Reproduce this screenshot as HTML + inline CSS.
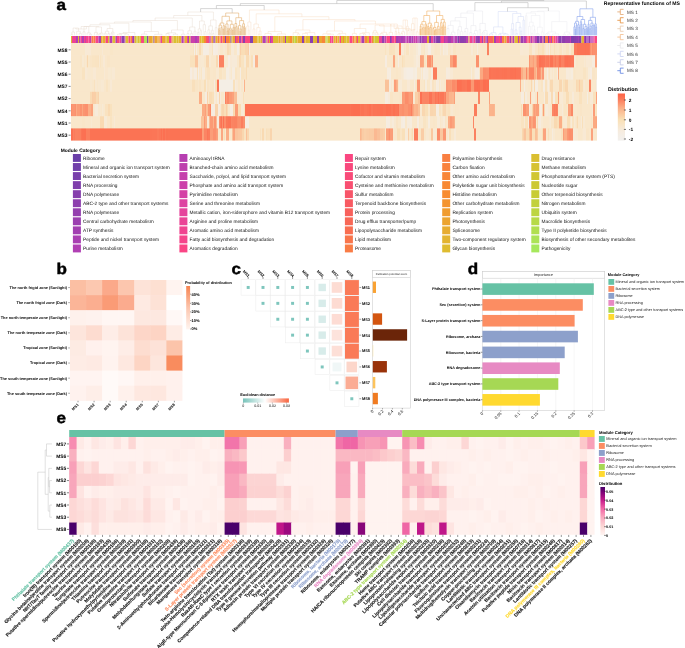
<!DOCTYPE html>
<html><head><meta charset="utf-8"><style>
html,body{margin:0;padding:0;background:#fff;width:685px;height:648px;overflow:hidden}
svg{display:block;will-change:transform}
text{font-family:"Liberation Sans",sans-serif;text-rendering:geometricPrecision}
</style></head><body>
<svg width="685" height="648" viewBox="0 0 685 648">
<rect width="685" height="648" fill="#fff"/>
<text x="0" y="0" font-size="15.5" font-weight="bold" stroke="#000" stroke-width="0.45" transform="translate(56.5 9.8) scale(1.1 1)">a</text>
<text x="67.60" y="51.55" font-size="4.9" text-anchor="end" font-weight="bold" fill="#000">MS8</text>
<line x1="68.60" y1="49.80" x2="70.60" y2="49.80" stroke="#333" stroke-width="0.6"/>
<text x="67.60" y="63.75" font-size="4.9" text-anchor="end" font-weight="bold" fill="#000">MS5</text>
<line x1="68.60" y1="62.00" x2="70.60" y2="62.00" stroke="#333" stroke-width="0.6"/>
<text x="67.60" y="75.95" font-size="4.9" text-anchor="end" font-weight="bold" fill="#000">MS6</text>
<line x1="68.60" y1="74.20" x2="70.60" y2="74.20" stroke="#333" stroke-width="0.6"/>
<text x="67.60" y="88.15" font-size="4.9" text-anchor="end" font-weight="bold" fill="#000">MS7</text>
<line x1="68.60" y1="86.40" x2="70.60" y2="86.40" stroke="#333" stroke-width="0.6"/>
<text x="67.60" y="100.35" font-size="4.9" text-anchor="end" font-weight="bold" fill="#000">MS2</text>
<line x1="68.60" y1="98.60" x2="70.60" y2="98.60" stroke="#333" stroke-width="0.6"/>
<text x="67.60" y="112.55" font-size="4.9" text-anchor="end" font-weight="bold" fill="#000">MS4</text>
<line x1="68.60" y1="110.80" x2="70.60" y2="110.80" stroke="#333" stroke-width="0.6"/>
<text x="67.60" y="124.75" font-size="4.9" text-anchor="end" font-weight="bold" fill="#000">MS1</text>
<line x1="68.60" y1="123.00" x2="70.60" y2="123.00" stroke="#333" stroke-width="0.6"/>
<text x="67.60" y="136.95" font-size="4.9" text-anchor="end" font-weight="bold" fill="#000">MS3</text>
<line x1="68.60" y1="135.20" x2="70.60" y2="135.20" stroke="#333" stroke-width="0.6"/>
<rect x="71.00" y="43.00" width="14.00" height="12.80" fill="#f9e7cb"/>
<rect x="85.00" y="43.00" width="1.00" height="12.80" fill="#f7ead6"/>
<rect x="86.00" y="43.00" width="3.00" height="12.80" fill="#f8e9d5"/>
<rect x="89.00" y="43.00" width="2.00" height="12.80" fill="#f8e9d5"/>
<rect x="91.00" y="43.00" width="2.00" height="12.80" fill="#f9e7cb"/>
<rect x="93.00" y="43.00" width="9.00" height="12.80" fill="#f9e7cb"/>
<rect x="102.00" y="43.00" width="1.00" height="12.80" fill="#f8e9d4"/>
<rect x="103.00" y="43.00" width="4.00" height="12.80" fill="#f9e7cb"/>
<rect x="107.00" y="43.00" width="1.00" height="12.80" fill="#f9e7cb"/>
<rect x="108.00" y="43.00" width="1.00" height="12.80" fill="#f9e7cc"/>
<rect x="109.00" y="43.00" width="1.00" height="12.80" fill="#f9e7cb"/>
<rect x="110.00" y="43.00" width="3.00" height="12.80" fill="#f9e6c8"/>
<rect x="113.00" y="43.00" width="77.00" height="12.80" fill="#f9e7cb"/>
<rect x="190.00" y="43.00" width="3.00" height="12.80" fill="#f9e6c9"/>
<rect x="193.00" y="43.00" width="1.00" height="12.80" fill="#f9e3c2"/>
<rect x="194.00" y="43.00" width="1.00" height="12.80" fill="#f5ede3"/>
<rect x="195.00" y="43.00" width="1.00" height="12.80" fill="#f9e3c1"/>
<rect x="196.00" y="43.00" width="1.00" height="12.80" fill="#f6ece0"/>
<rect x="197.00" y="43.00" width="2.00" height="12.80" fill="#f9e7cb"/>
<rect x="199.00" y="43.00" width="2.00" height="12.80" fill="#f9dbb3"/>
<rect x="201.00" y="43.00" width="2.00" height="12.80" fill="#f9e7cb"/>
<rect x="203.00" y="43.00" width="2.00" height="12.80" fill="#f5ede3"/>
<rect x="205.00" y="43.00" width="3.00" height="12.80" fill="#f5ede2"/>
<rect x="208.00" y="43.00" width="1.00" height="12.80" fill="#f6ece1"/>
<rect x="209.00" y="43.00" width="2.00" height="12.80" fill="#f8e9d2"/>
<rect x="211.00" y="43.00" width="1.00" height="12.80" fill="#f8e9d3"/>
<rect x="212.00" y="43.00" width="1.00" height="12.80" fill="#f9e3c1"/>
<rect x="213.00" y="43.00" width="2.00" height="12.80" fill="#f5ede4"/>
<rect x="215.00" y="43.00" width="3.00" height="12.80" fill="#f6ece0"/>
<rect x="218.00" y="43.00" width="2.00" height="12.80" fill="#f7ead6"/>
<rect x="220.00" y="43.00" width="3.00" height="12.80" fill="#f9e7cb"/>
<rect x="223.00" y="43.00" width="2.00" height="12.80" fill="#f8e9d1"/>
<rect x="225.00" y="43.00" width="2.00" height="12.80" fill="#f9e7cb"/>
<rect x="227.00" y="43.00" width="2.00" height="12.80" fill="#f9dbb4"/>
<rect x="229.00" y="43.00" width="2.00" height="12.80" fill="#f9e1bc"/>
<rect x="231.00" y="43.00" width="3.00" height="12.80" fill="#f7ead8"/>
<rect x="234.00" y="43.00" width="2.00" height="12.80" fill="#f9e7cb"/>
<rect x="236.00" y="43.00" width="1.00" height="12.80" fill="#f9e8cd"/>
<rect x="237.00" y="43.00" width="2.00" height="12.80" fill="#f5ede3"/>
<rect x="239.00" y="43.00" width="1.00" height="12.80" fill="#f9e7cb"/>
<rect x="240.00" y="43.00" width="1.00" height="12.80" fill="#fad0a8"/>
<rect x="241.00" y="43.00" width="1.00" height="12.80" fill="#f9dcb5"/>
<rect x="242.00" y="43.00" width="3.00" height="12.80" fill="#f9ddb6"/>
<rect x="245.00" y="43.00" width="3.00" height="12.80" fill="#f9d6af"/>
<rect x="248.00" y="43.00" width="1.00" height="12.80" fill="#facea7"/>
<rect x="249.00" y="43.00" width="1.00" height="12.80" fill="#f5ede3"/>
<rect x="250.00" y="43.00" width="135.00" height="12.80" fill="#f9e7cb"/>
<rect x="385.00" y="43.00" width="1.00" height="12.80" fill="#f9e3c1"/>
<rect x="386.00" y="43.00" width="1.00" height="12.80" fill="#f9e7cb"/>
<rect x="387.00" y="43.00" width="2.00" height="12.80" fill="#f9e8cd"/>
<rect x="389.00" y="43.00" width="3.00" height="12.80" fill="#f9e1bd"/>
<rect x="392.00" y="43.00" width="3.00" height="12.80" fill="#f9e2be"/>
<rect x="395.00" y="43.00" width="3.00" height="12.80" fill="#f9e7cb"/>
<rect x="398.00" y="43.00" width="1.00" height="12.80" fill="#f9e8cd"/>
<rect x="399.00" y="43.00" width="2.00" height="12.80" fill="#fb7c5c"/>
<rect x="401.00" y="43.00" width="3.00" height="12.80" fill="#f7ead7"/>
<rect x="404.00" y="43.00" width="1.00" height="12.80" fill="#f9e6c8"/>
<rect x="405.00" y="43.00" width="1.00" height="12.80" fill="#f8e8cf"/>
<rect x="406.00" y="43.00" width="3.00" height="12.80" fill="#f9e3c1"/>
<rect x="409.00" y="43.00" width="1.00" height="12.80" fill="#f8e9d3"/>
<rect x="410.00" y="43.00" width="3.00" height="12.80" fill="#f9e7cb"/>
<rect x="413.00" y="43.00" width="3.00" height="12.80" fill="#f8e8ce"/>
<rect x="416.00" y="43.00" width="2.00" height="12.80" fill="#f7ead7"/>
<rect x="418.00" y="43.00" width="3.00" height="12.80" fill="#f5ede1"/>
<rect x="421.00" y="43.00" width="3.00" height="12.80" fill="#f9e7cb"/>
<rect x="424.00" y="43.00" width="1.00" height="12.80" fill="#f9e5c5"/>
<rect x="425.00" y="43.00" width="3.00" height="12.80" fill="#f7ead6"/>
<rect x="428.00" y="43.00" width="3.00" height="12.80" fill="#f5ede5"/>
<rect x="431.00" y="43.00" width="3.00" height="12.80" fill="#f8e8cf"/>
<rect x="434.00" y="43.00" width="1.00" height="12.80" fill="#f9e6ca"/>
<rect x="435.00" y="43.00" width="2.00" height="12.80" fill="#f9e5c7"/>
<rect x="437.00" y="43.00" width="3.00" height="12.80" fill="#f9e6c9"/>
<rect x="440.00" y="43.00" width="1.00" height="12.80" fill="#f7ead7"/>
<rect x="441.00" y="43.00" width="2.00" height="12.80" fill="#f9e7cb"/>
<rect x="443.00" y="43.00" width="1.00" height="12.80" fill="#f6ece0"/>
<rect x="444.00" y="43.00" width="2.00" height="12.80" fill="#f7ead7"/>
<rect x="446.00" y="43.00" width="1.00" height="12.80" fill="#f7ebd9"/>
<rect x="447.00" y="43.00" width="1.00" height="12.80" fill="#f6ecdd"/>
<rect x="448.00" y="43.00" width="3.00" height="12.80" fill="#f9e7cb"/>
<rect x="451.00" y="43.00" width="2.00" height="12.80" fill="#f8e9d2"/>
<rect x="453.00" y="43.00" width="3.00" height="12.80" fill="#f9e5c5"/>
<rect x="456.00" y="43.00" width="15.00" height="12.80" fill="#f9e7cb"/>
<rect x="471.00" y="43.00" width="1.00" height="12.80" fill="#f7ead8"/>
<rect x="472.00" y="43.00" width="1.00" height="12.80" fill="#f7ead6"/>
<rect x="473.00" y="43.00" width="1.00" height="12.80" fill="#f9e7cb"/>
<rect x="474.00" y="43.00" width="2.00" height="12.80" fill="#f8e8cf"/>
<rect x="476.00" y="43.00" width="1.00" height="12.80" fill="#f9e7cb"/>
<rect x="477.00" y="43.00" width="1.00" height="12.80" fill="#f6ece0"/>
<rect x="478.00" y="43.00" width="2.00" height="12.80" fill="#f9e8ce"/>
<rect x="480.00" y="43.00" width="1.00" height="12.80" fill="#f9e7cd"/>
<rect x="481.00" y="43.00" width="1.00" height="12.80" fill="#f9e7cd"/>
<rect x="482.00" y="43.00" width="5.00" height="12.80" fill="#f9e7cb"/>
<rect x="487.00" y="43.00" width="2.00" height="12.80" fill="#fb8160"/>
<rect x="489.00" y="43.00" width="31.00" height="12.80" fill="#f9e7cb"/>
<rect x="520.00" y="43.00" width="3.00" height="12.80" fill="#f8e9d4"/>
<rect x="523.00" y="43.00" width="3.00" height="12.80" fill="#f8e9d2"/>
<rect x="526.00" y="43.00" width="3.00" height="12.80" fill="#f8e9d3"/>
<rect x="529.00" y="43.00" width="3.00" height="12.80" fill="#f9e3c1"/>
<rect x="532.00" y="43.00" width="3.00" height="12.80" fill="#f7ead6"/>
<rect x="535.00" y="43.00" width="3.00" height="12.80" fill="#f9e6ca"/>
<rect x="538.00" y="43.00" width="1.00" height="12.80" fill="#f9e0ba"/>
<rect x="539.00" y="43.00" width="3.00" height="12.80" fill="#f9e3c2"/>
<rect x="542.00" y="43.00" width="2.00" height="12.80" fill="#f9e0ba"/>
<rect x="544.00" y="43.00" width="1.00" height="12.80" fill="#f9e5c6"/>
<rect x="545.00" y="43.00" width="1.00" height="12.80" fill="#f9e8ce"/>
<rect x="546.00" y="43.00" width="2.00" height="12.80" fill="#f7ead9"/>
<rect x="548.00" y="43.00" width="1.00" height="12.80" fill="#f9e7cb"/>
<rect x="549.00" y="43.00" width="1.00" height="12.80" fill="#f6ece1"/>
<rect x="550.00" y="43.00" width="1.00" height="12.80" fill="#f9e2bf"/>
<rect x="551.00" y="43.00" width="3.00" height="12.80" fill="#f9e7cb"/>
<rect x="554.00" y="43.00" width="1.00" height="12.80" fill="#f9e1bd"/>
<rect x="555.00" y="43.00" width="2.00" height="12.80" fill="#f9e6c8"/>
<rect x="557.00" y="43.00" width="2.00" height="12.80" fill="#f9e7cb"/>
<rect x="559.00" y="43.00" width="3.00" height="12.80" fill="#f9e4c3"/>
<rect x="562.00" y="43.00" width="1.00" height="12.80" fill="#f8e9d3"/>
<rect x="563.00" y="43.00" width="3.00" height="12.80" fill="#f9e7cb"/>
<rect x="566.00" y="43.00" width="3.00" height="12.80" fill="#f9e4c3"/>
<rect x="569.00" y="43.00" width="2.00" height="12.80" fill="#f8e9d1"/>
<rect x="571.00" y="43.00" width="3.00" height="12.80" fill="#f9e1bd"/>
<rect x="574.00" y="43.00" width="3.00" height="12.80" fill="#fb7a5b"/>
<rect x="577.00" y="43.00" width="3.00" height="12.80" fill="#fb7354"/>
<rect x="580.00" y="43.00" width="3.00" height="12.80" fill="#fb7355"/>
<rect x="583.00" y="43.00" width="2.00" height="12.80" fill="#fb7355"/>
<rect x="585.00" y="43.00" width="1.00" height="12.80" fill="#fb7253"/>
<rect x="586.00" y="43.00" width="3.00" height="12.80" fill="#fb7354"/>
<rect x="589.00" y="43.00" width="1.00" height="12.80" fill="#fb7758"/>
<rect x="590.00" y="43.00" width="1.00" height="12.80" fill="#fb906d"/>
<rect x="591.00" y="43.00" width="1.00" height="12.80" fill="#fb9c77"/>
<rect x="592.00" y="43.00" width="1.00" height="12.80" fill="#fb8b69"/>
<rect x="593.00" y="43.00" width="3.00" height="12.80" fill="#fb906d"/>
<rect x="596.00" y="43.00" width="1.00" height="12.80" fill="#fb916d"/>
<rect x="71.00" y="55.20" width="9.00" height="12.80" fill="#f9e7cb"/>
<rect x="80.00" y="55.20" width="2.00" height="12.80" fill="#f9e5c6"/>
<rect x="82.00" y="55.20" width="2.00" height="12.80" fill="#f8e9d2"/>
<rect x="84.00" y="55.20" width="1.00" height="12.80" fill="#f9e7cb"/>
<rect x="85.00" y="55.20" width="1.00" height="12.80" fill="#f8e8d1"/>
<rect x="86.00" y="55.20" width="1.00" height="12.80" fill="#f9e7cb"/>
<rect x="87.00" y="55.20" width="1.00" height="12.80" fill="#f9d8b0"/>
<rect x="88.00" y="55.20" width="2.00" height="12.80" fill="#f9e7ca"/>
<rect x="90.00" y="55.20" width="2.00" height="12.80" fill="#f9e5c7"/>
<rect x="92.00" y="55.20" width="3.00" height="12.80" fill="#f9e4c3"/>
<rect x="95.00" y="55.20" width="3.00" height="12.80" fill="#f9e3c2"/>
<rect x="98.00" y="55.20" width="1.00" height="12.80" fill="#f9e2c0"/>
<rect x="99.00" y="55.20" width="1.00" height="12.80" fill="#f8e8d0"/>
<rect x="100.00" y="55.20" width="1.00" height="12.80" fill="#f9e4c3"/>
<rect x="101.00" y="55.20" width="2.00" height="12.80" fill="#f9e7cb"/>
<rect x="103.00" y="55.20" width="2.00" height="12.80" fill="#f8e9d5"/>
<rect x="105.00" y="55.20" width="2.00" height="12.80" fill="#f9e7cb"/>
<rect x="107.00" y="55.20" width="3.00" height="12.80" fill="#f9e5c7"/>
<rect x="110.00" y="55.20" width="80.00" height="12.80" fill="#f9e7cb"/>
<rect x="190.00" y="55.20" width="5.00" height="12.80" fill="#f9e1bd"/>
<rect x="195.00" y="55.20" width="3.00" height="12.80" fill="#fac69f"/>
<rect x="198.00" y="55.20" width="3.00" height="12.80" fill="#f8e8d1"/>
<rect x="201.00" y="55.20" width="3.00" height="12.80" fill="#f8e9d2"/>
<rect x="204.00" y="55.20" width="2.00" height="12.80" fill="#f9e7cb"/>
<rect x="206.00" y="55.20" width="3.00" height="12.80" fill="#f9d7b0"/>
<rect x="209.00" y="55.20" width="2.00" height="12.80" fill="#f8e9d2"/>
<rect x="211.00" y="55.20" width="5.00" height="12.80" fill="#f9e7cb"/>
<rect x="216.00" y="55.20" width="2.00" height="12.80" fill="#f9d9b2"/>
<rect x="218.00" y="55.20" width="1.00" height="12.80" fill="#f5ede1"/>
<rect x="219.00" y="55.20" width="5.00" height="12.80" fill="#fb8160"/>
<rect x="224.00" y="55.20" width="1.00" height="12.80" fill="#f9e7cb"/>
<rect x="225.00" y="55.20" width="3.00" height="12.80" fill="#f8e8d0"/>
<rect x="228.00" y="55.20" width="2.00" height="12.80" fill="#f6ece0"/>
<rect x="230.00" y="55.20" width="2.00" height="12.80" fill="#f8e9d5"/>
<rect x="232.00" y="55.20" width="3.00" height="12.80" fill="#f7ead8"/>
<rect x="235.00" y="55.20" width="2.00" height="12.80" fill="#f7ead8"/>
<rect x="237.00" y="55.20" width="2.00" height="12.80" fill="#f9e7cb"/>
<rect x="239.00" y="55.20" width="2.00" height="12.80" fill="#f9dbb4"/>
<rect x="241.00" y="55.20" width="3.00" height="12.80" fill="#f9e3c1"/>
<rect x="244.00" y="55.20" width="2.00" height="12.80" fill="#f7ead5"/>
<rect x="246.00" y="55.20" width="3.00" height="12.80" fill="#f9dbb4"/>
<rect x="249.00" y="55.20" width="2.00" height="12.80" fill="#f9e7cb"/>
<rect x="251.00" y="55.20" width="2.00" height="12.80" fill="#f9e0ba"/>
<rect x="253.00" y="55.20" width="2.00" height="12.80" fill="#f6ece0"/>
<rect x="255.00" y="55.20" width="3.00" height="12.80" fill="#fbb38b"/>
<rect x="258.00" y="55.20" width="127.00" height="12.80" fill="#f9e7cb"/>
<rect x="385.00" y="55.20" width="2.00" height="12.80" fill="#f6ece0"/>
<rect x="387.00" y="55.20" width="2.00" height="12.80" fill="#f9e7cb"/>
<rect x="389.00" y="55.20" width="4.00" height="12.80" fill="#f9e7cb"/>
<rect x="393.00" y="55.20" width="2.00" height="12.80" fill="#fba881"/>
<rect x="395.00" y="55.20" width="1.00" height="12.80" fill="#f9e5c6"/>
<rect x="396.00" y="55.20" width="2.00" height="12.80" fill="#f9e7cb"/>
<rect x="398.00" y="55.20" width="1.00" height="12.80" fill="#f6ece1"/>
<rect x="399.00" y="55.20" width="3.00" height="12.80" fill="#f9e7cb"/>
<rect x="402.00" y="55.20" width="1.00" height="12.80" fill="#f9dfb9"/>
<rect x="403.00" y="55.20" width="2.00" height="12.80" fill="#f9e4c3"/>
<rect x="405.00" y="55.20" width="8.00" height="12.80" fill="#f9e7cb"/>
<rect x="413.00" y="55.20" width="1.00" height="12.80" fill="#f9e8cd"/>
<rect x="414.00" y="55.20" width="2.00" height="12.80" fill="#f8e9d2"/>
<rect x="416.00" y="55.20" width="2.00" height="12.80" fill="#f7ebdb"/>
<rect x="418.00" y="55.20" width="2.00" height="12.80" fill="#f7ead7"/>
<rect x="420.00" y="55.20" width="2.00" height="12.80" fill="#fba27c"/>
<rect x="422.00" y="55.20" width="1.00" height="12.80" fill="#fba47e"/>
<rect x="423.00" y="55.20" width="1.00" height="12.80" fill="#fbab83"/>
<rect x="424.00" y="55.20" width="2.00" height="12.80" fill="#f9e4c4"/>
<rect x="426.00" y="55.20" width="1.00" height="12.80" fill="#f9e7cb"/>
<rect x="427.00" y="55.20" width="2.00" height="12.80" fill="#fb9672"/>
<rect x="429.00" y="55.20" width="2.00" height="12.80" fill="#fb906d"/>
<rect x="431.00" y="55.20" width="1.00" height="12.80" fill="#fbae86"/>
<rect x="432.00" y="55.20" width="1.00" height="12.80" fill="#fb9773"/>
<rect x="433.00" y="55.20" width="17.00" height="12.80" fill="#f9e7cb"/>
<rect x="450.00" y="55.20" width="3.00" height="12.80" fill="#fba27c"/>
<rect x="453.00" y="55.20" width="3.00" height="12.80" fill="#fb8866"/>
<rect x="456.00" y="55.20" width="1.00" height="12.80" fill="#fba27c"/>
<rect x="457.00" y="55.20" width="19.00" height="12.80" fill="#f9e7cb"/>
<rect x="476.00" y="55.20" width="3.00" height="12.80" fill="#fb926e"/>
<rect x="479.00" y="55.20" width="50.00" height="12.80" fill="#f9e7cb"/>
<rect x="529.00" y="55.20" width="1.00" height="12.80" fill="#fb9772"/>
<rect x="530.00" y="55.20" width="2.00" height="12.80" fill="#fbad85"/>
<rect x="532.00" y="55.20" width="1.00" height="12.80" fill="#fbab83"/>
<rect x="533.00" y="55.20" width="1.00" height="12.80" fill="#fba07a"/>
<rect x="534.00" y="55.20" width="2.00" height="12.80" fill="#fbb088"/>
<rect x="536.00" y="55.20" width="1.00" height="12.80" fill="#fb9f79"/>
<rect x="537.00" y="55.20" width="2.00" height="12.80" fill="#fb8765"/>
<rect x="539.00" y="55.20" width="2.00" height="12.80" fill="#fc7052"/>
<rect x="541.00" y="55.20" width="2.00" height="12.80" fill="#fb7455"/>
<rect x="543.00" y="55.20" width="2.00" height="12.80" fill="#fb7657"/>
<rect x="545.00" y="55.20" width="1.00" height="12.80" fill="#fb8261"/>
<rect x="546.00" y="55.20" width="2.00" height="12.80" fill="#fb7c5c"/>
<rect x="548.00" y="55.20" width="1.00" height="12.80" fill="#fb795a"/>
<rect x="549.00" y="55.20" width="1.00" height="12.80" fill="#fb8765"/>
<rect x="550.00" y="55.20" width="3.00" height="12.80" fill="#fb7354"/>
<rect x="553.00" y="55.20" width="2.00" height="12.80" fill="#fb8563"/>
<rect x="555.00" y="55.20" width="1.00" height="12.80" fill="#fb7b5b"/>
<rect x="556.00" y="55.20" width="2.00" height="12.80" fill="#fb8765"/>
<rect x="558.00" y="55.20" width="1.00" height="12.80" fill="#fb8261"/>
<rect x="559.00" y="55.20" width="2.00" height="12.80" fill="#fb7354"/>
<rect x="561.00" y="55.20" width="3.00" height="12.80" fill="#fb8161"/>
<rect x="564.00" y="55.20" width="1.00" height="12.80" fill="#fb7859"/>
<rect x="565.00" y="55.20" width="2.00" height="12.80" fill="#fc7153"/>
<rect x="567.00" y="55.20" width="1.00" height="12.80" fill="#fc7052"/>
<rect x="568.00" y="55.20" width="3.00" height="12.80" fill="#fb7354"/>
<rect x="571.00" y="55.20" width="3.00" height="12.80" fill="#fb7657"/>
<rect x="574.00" y="55.20" width="2.00" height="12.80" fill="#f8e9d3"/>
<rect x="576.00" y="55.20" width="2.00" height="12.80" fill="#f9e6c9"/>
<rect x="578.00" y="55.20" width="6.00" height="12.80" fill="#f9e7cb"/>
<rect x="584.00" y="55.20" width="1.00" height="12.80" fill="#f8e9d2"/>
<rect x="585.00" y="55.20" width="1.00" height="12.80" fill="#f9e7cd"/>
<rect x="586.00" y="55.20" width="3.00" height="12.80" fill="#f8e9d4"/>
<rect x="589.00" y="55.20" width="3.00" height="12.80" fill="#f8e9d3"/>
<rect x="592.00" y="55.20" width="2.00" height="12.80" fill="#f6ecde"/>
<rect x="594.00" y="55.20" width="1.00" height="12.80" fill="#f6ece0"/>
<rect x="595.00" y="55.20" width="2.00" height="12.80" fill="#fba37d"/>
<rect x="71.00" y="67.40" width="11.00" height="12.80" fill="#f9e7cb"/>
<rect x="82.00" y="67.40" width="3.00" height="12.80" fill="#f9e3c1"/>
<rect x="85.00" y="67.40" width="2.00" height="12.80" fill="#f8e9d4"/>
<rect x="87.00" y="67.40" width="1.00" height="12.80" fill="#f8e8d1"/>
<rect x="88.00" y="67.40" width="3.00" height="12.80" fill="#f8e8cf"/>
<rect x="91.00" y="67.40" width="2.00" height="12.80" fill="#f9e8ce"/>
<rect x="93.00" y="67.40" width="3.00" height="12.80" fill="#f8e9d4"/>
<rect x="96.00" y="67.40" width="8.00" height="12.80" fill="#f9e7cb"/>
<rect x="104.00" y="67.40" width="1.00" height="12.80" fill="#f8e9d4"/>
<rect x="105.00" y="67.40" width="3.00" height="12.80" fill="#f9e7cd"/>
<rect x="108.00" y="67.40" width="3.00" height="12.80" fill="#f8e9d1"/>
<rect x="111.00" y="67.40" width="1.00" height="12.80" fill="#f8e8cf"/>
<rect x="112.00" y="67.40" width="3.00" height="12.80" fill="#f8e9d4"/>
<rect x="115.00" y="67.40" width="75.00" height="12.80" fill="#f9e7cb"/>
<rect x="190.00" y="67.40" width="2.00" height="12.80" fill="#f6ece1"/>
<rect x="192.00" y="67.40" width="2.00" height="12.80" fill="#f8e9d5"/>
<rect x="194.00" y="67.40" width="3.00" height="12.80" fill="#f6ecdf"/>
<rect x="197.00" y="67.40" width="1.00" height="12.80" fill="#f9e2c0"/>
<rect x="198.00" y="67.40" width="1.00" height="12.80" fill="#f5ede3"/>
<rect x="199.00" y="67.40" width="1.00" height="12.80" fill="#f9e7cd"/>
<rect x="200.00" y="67.40" width="1.00" height="12.80" fill="#f8e9d2"/>
<rect x="201.00" y="67.40" width="1.00" height="12.80" fill="#f9e6c7"/>
<rect x="202.00" y="67.40" width="3.00" height="12.80" fill="#f6ebdc"/>
<rect x="205.00" y="67.40" width="2.00" height="12.80" fill="#f9e5c7"/>
<rect x="207.00" y="67.40" width="3.00" height="12.80" fill="#f9e2c0"/>
<rect x="210.00" y="67.40" width="3.00" height="12.80" fill="#f9e7cb"/>
<rect x="213.00" y="67.40" width="3.00" height="12.80" fill="#f9e6c9"/>
<rect x="216.00" y="67.40" width="3.00" height="12.80" fill="#f8e9d2"/>
<rect x="219.00" y="67.40" width="3.00" height="12.80" fill="#f9e3c1"/>
<rect x="222.00" y="67.40" width="1.00" height="12.80" fill="#f9e7cb"/>
<rect x="223.00" y="67.40" width="3.00" height="12.80" fill="#f9e6c8"/>
<rect x="226.00" y="67.40" width="3.00" height="12.80" fill="#f5ede2"/>
<rect x="229.00" y="67.40" width="1.00" height="12.80" fill="#f7ebda"/>
<rect x="230.00" y="67.40" width="1.00" height="12.80" fill="#f7ead6"/>
<rect x="231.00" y="67.40" width="1.00" height="12.80" fill="#f9e8cd"/>
<rect x="232.00" y="67.40" width="3.00" height="12.80" fill="#f6ecdf"/>
<rect x="235.00" y="67.40" width="2.00" height="12.80" fill="#f9e5c5"/>
<rect x="237.00" y="67.40" width="3.00" height="12.80" fill="#f9e7cb"/>
<rect x="240.00" y="67.40" width="1.00" height="12.80" fill="#f5ede3"/>
<rect x="241.00" y="67.40" width="3.00" height="12.80" fill="#f9e3c1"/>
<rect x="244.00" y="67.40" width="2.00" height="12.80" fill="#f9e4c5"/>
<rect x="246.00" y="67.40" width="1.00" height="12.80" fill="#f9dcb5"/>
<rect x="247.00" y="67.40" width="2.00" height="12.80" fill="#f9e7cb"/>
<rect x="249.00" y="67.40" width="1.00" height="12.80" fill="#f9e6ca"/>
<rect x="250.00" y="67.40" width="137.00" height="12.80" fill="#f9e7cb"/>
<rect x="387.00" y="67.40" width="3.00" height="12.80" fill="#f6ecdf"/>
<rect x="390.00" y="67.40" width="1.00" height="12.80" fill="#f5ede2"/>
<rect x="391.00" y="67.40" width="5.00" height="12.80" fill="#f9e7cb"/>
<rect x="396.00" y="67.40" width="2.00" height="12.80" fill="#f9e6c8"/>
<rect x="398.00" y="67.40" width="3.00" height="12.80" fill="#f9e7cb"/>
<rect x="401.00" y="67.40" width="2.00" height="12.80" fill="#f8e8d1"/>
<rect x="403.00" y="67.40" width="1.00" height="12.80" fill="#f7ead6"/>
<rect x="404.00" y="67.40" width="2.00" height="12.80" fill="#f6ecdf"/>
<rect x="406.00" y="67.40" width="1.00" height="12.80" fill="#f5ede1"/>
<rect x="407.00" y="67.40" width="3.00" height="12.80" fill="#f5ede3"/>
<rect x="410.00" y="67.40" width="3.00" height="12.80" fill="#f5ede3"/>
<rect x="413.00" y="67.40" width="2.00" height="12.80" fill="#f6ecdd"/>
<rect x="415.00" y="67.40" width="2.00" height="12.80" fill="#f5ede1"/>
<rect x="417.00" y="67.40" width="3.00" height="12.80" fill="#f9e7cb"/>
<rect x="420.00" y="67.40" width="1.00" height="12.80" fill="#f9e6ca"/>
<rect x="421.00" y="67.40" width="1.00" height="12.80" fill="#f6ebdc"/>
<rect x="422.00" y="67.40" width="1.00" height="12.80" fill="#f9e7cc"/>
<rect x="423.00" y="67.40" width="2.00" height="12.80" fill="#f6ece0"/>
<rect x="425.00" y="67.40" width="3.00" height="12.80" fill="#f6ebdd"/>
<rect x="428.00" y="67.40" width="1.00" height="12.80" fill="#f8e9d2"/>
<rect x="429.00" y="67.40" width="2.00" height="12.80" fill="#f9e7cb"/>
<rect x="431.00" y="67.40" width="1.00" height="12.80" fill="#f6ecde"/>
<rect x="432.00" y="67.40" width="1.00" height="12.80" fill="#f6ecdd"/>
<rect x="433.00" y="67.40" width="4.00" height="12.80" fill="#fb7c5c"/>
<rect x="437.00" y="67.40" width="9.00" height="12.80" fill="#f9e7cb"/>
<rect x="446.00" y="67.40" width="2.00" height="12.80" fill="#f6ebdd"/>
<rect x="448.00" y="67.40" width="2.00" height="12.80" fill="#f7ebdb"/>
<rect x="450.00" y="67.40" width="3.00" height="12.80" fill="#f8e9d4"/>
<rect x="453.00" y="67.40" width="18.00" height="12.80" fill="#f9e7cb"/>
<rect x="471.00" y="67.40" width="1.00" height="12.80" fill="#f6ecdd"/>
<rect x="472.00" y="67.40" width="2.00" height="12.80" fill="#f9e7cb"/>
<rect x="474.00" y="67.40" width="1.00" height="12.80" fill="#f8e9d3"/>
<rect x="475.00" y="67.40" width="3.00" height="12.80" fill="#f6ecdf"/>
<rect x="478.00" y="67.40" width="1.00" height="12.80" fill="#f5ede1"/>
<rect x="479.00" y="67.40" width="1.00" height="12.80" fill="#f9e7cb"/>
<rect x="480.00" y="67.40" width="2.00" height="12.80" fill="#fba982"/>
<rect x="482.00" y="67.40" width="1.00" height="12.80" fill="#fba982"/>
<rect x="483.00" y="67.40" width="3.00" height="12.80" fill="#fb8d6a"/>
<rect x="486.00" y="67.40" width="3.00" height="12.80" fill="#fb8f6c"/>
<rect x="489.00" y="67.40" width="2.00" height="12.80" fill="#fb7254"/>
<rect x="491.00" y="67.40" width="2.00" height="12.80" fill="#fb7556"/>
<rect x="493.00" y="67.40" width="3.00" height="12.80" fill="#fb7456"/>
<rect x="496.00" y="67.40" width="3.00" height="12.80" fill="#fb7355"/>
<rect x="499.00" y="67.40" width="3.00" height="12.80" fill="#fb7456"/>
<rect x="502.00" y="67.40" width="1.00" height="12.80" fill="#fb7354"/>
<rect x="503.00" y="67.40" width="1.00" height="12.80" fill="#fb7455"/>
<rect x="504.00" y="67.40" width="1.00" height="12.80" fill="#fb7254"/>
<rect x="505.00" y="67.40" width="2.00" height="12.80" fill="#fb7354"/>
<rect x="507.00" y="67.40" width="2.00" height="12.80" fill="#fb7556"/>
<rect x="509.00" y="67.40" width="1.00" height="12.80" fill="#fb7556"/>
<rect x="510.00" y="67.40" width="3.00" height="12.80" fill="#fb7254"/>
<rect x="513.00" y="67.40" width="2.00" height="12.80" fill="#fb7354"/>
<rect x="515.00" y="67.40" width="1.00" height="12.80" fill="#fc7052"/>
<rect x="516.00" y="67.40" width="2.00" height="12.80" fill="#fb7556"/>
<rect x="518.00" y="67.40" width="3.00" height="12.80" fill="#fb7557"/>
<rect x="521.00" y="67.40" width="2.00" height="12.80" fill="#fbad85"/>
<rect x="523.00" y="67.40" width="3.00" height="12.80" fill="#fabc94"/>
<rect x="526.00" y="67.40" width="1.00" height="12.80" fill="#fb8a68"/>
<rect x="527.00" y="67.40" width="2.00" height="12.80" fill="#fbb58d"/>
<rect x="529.00" y="67.40" width="2.00" height="12.80" fill="#fb8563"/>
<rect x="531.00" y="67.40" width="3.00" height="12.80" fill="#fb8462"/>
<rect x="534.00" y="67.40" width="2.00" height="12.80" fill="#fbae86"/>
<rect x="536.00" y="67.40" width="1.00" height="12.80" fill="#fac098"/>
<rect x="537.00" y="67.40" width="1.00" height="12.80" fill="#fb8a68"/>
<rect x="538.00" y="67.40" width="2.00" height="12.80" fill="#fb8c69"/>
<rect x="540.00" y="67.40" width="1.00" height="12.80" fill="#fb9975"/>
<rect x="541.00" y="67.40" width="1.00" height="12.80" fill="#fabc95"/>
<rect x="542.00" y="67.40" width="2.00" height="12.80" fill="#fb9975"/>
<rect x="544.00" y="67.40" width="3.00" height="12.80" fill="#f9e7cb"/>
<rect x="547.00" y="67.40" width="1.00" height="12.80" fill="#f6ece0"/>
<rect x="548.00" y="67.40" width="1.00" height="12.80" fill="#f9e7cb"/>
<rect x="549.00" y="67.40" width="1.00" height="12.80" fill="#f9e4c4"/>
<rect x="550.00" y="67.40" width="2.00" height="12.80" fill="#f8e9d3"/>
<rect x="552.00" y="67.40" width="1.00" height="12.80" fill="#f9e7cb"/>
<rect x="553.00" y="67.40" width="1.00" height="12.80" fill="#f8e9d5"/>
<rect x="554.00" y="67.40" width="3.00" height="12.80" fill="#f9e7cb"/>
<rect x="557.00" y="67.40" width="1.00" height="12.80" fill="#f6ece0"/>
<rect x="558.00" y="67.40" width="1.00" height="12.80" fill="#fbae86"/>
<rect x="559.00" y="67.40" width="7.00" height="12.80" fill="#f9e7cb"/>
<rect x="566.00" y="67.40" width="3.00" height="12.80" fill="#f7ebdb"/>
<rect x="569.00" y="67.40" width="2.00" height="12.80" fill="#f7ebd9"/>
<rect x="571.00" y="67.40" width="2.00" height="12.80" fill="#f6ecde"/>
<rect x="573.00" y="67.40" width="1.00" height="12.80" fill="#f9e7cb"/>
<rect x="574.00" y="67.40" width="1.00" height="12.80" fill="#f9e5c6"/>
<rect x="575.00" y="67.40" width="1.00" height="12.80" fill="#f9e6c9"/>
<rect x="576.00" y="67.40" width="7.00" height="12.80" fill="#f9e7cb"/>
<rect x="583.00" y="67.40" width="3.00" height="12.80" fill="#f9e4c3"/>
<rect x="586.00" y="67.40" width="2.00" height="12.80" fill="#f9e7cb"/>
<rect x="588.00" y="67.40" width="2.00" height="12.80" fill="#f7ebd9"/>
<rect x="590.00" y="67.40" width="2.00" height="12.80" fill="#f6ece1"/>
<rect x="592.00" y="67.40" width="3.00" height="12.80" fill="#f9e5c7"/>
<rect x="595.00" y="67.40" width="2.00" height="12.80" fill="#f9e7cb"/>
<rect x="71.00" y="79.60" width="19.00" height="12.80" fill="#f9e7cb"/>
<rect x="90.00" y="79.60" width="2.00" height="12.80" fill="#f8e8cf"/>
<rect x="92.00" y="79.60" width="2.00" height="12.80" fill="#f9e7cb"/>
<rect x="94.00" y="79.60" width="1.00" height="12.80" fill="#f9e2c0"/>
<rect x="95.00" y="79.60" width="2.00" height="12.80" fill="#f8e8d0"/>
<rect x="97.00" y="79.60" width="1.00" height="12.80" fill="#f9e7cb"/>
<rect x="98.00" y="79.60" width="3.00" height="12.80" fill="#f8e8cf"/>
<rect x="101.00" y="79.60" width="1.00" height="12.80" fill="#f8e9d3"/>
<rect x="102.00" y="79.60" width="2.00" height="12.80" fill="#f8e9d2"/>
<rect x="104.00" y="79.60" width="2.00" height="12.80" fill="#f9e7cb"/>
<rect x="106.00" y="79.60" width="2.00" height="12.80" fill="#f9e4c3"/>
<rect x="108.00" y="79.60" width="2.00" height="12.80" fill="#f9e7cb"/>
<rect x="110.00" y="79.60" width="2.00" height="12.80" fill="#f8e9d5"/>
<rect x="112.00" y="79.60" width="80.00" height="12.80" fill="#f9e7cb"/>
<rect x="192.00" y="79.60" width="3.00" height="12.80" fill="#f9e0bc"/>
<rect x="195.00" y="79.60" width="3.00" height="12.80" fill="#f9e5c6"/>
<rect x="198.00" y="79.60" width="1.00" height="12.80" fill="#f9e7cb"/>
<rect x="199.00" y="79.60" width="2.00" height="12.80" fill="#f9e4c4"/>
<rect x="201.00" y="79.60" width="3.00" height="12.80" fill="#f9e7cb"/>
<rect x="204.00" y="79.60" width="2.00" height="12.80" fill="#f9dfb8"/>
<rect x="206.00" y="79.60" width="1.00" height="12.80" fill="#f7ead6"/>
<rect x="207.00" y="79.60" width="2.00" height="12.80" fill="#f9e4c5"/>
<rect x="209.00" y="79.60" width="3.00" height="12.80" fill="#f9e7ca"/>
<rect x="212.00" y="79.60" width="2.00" height="12.80" fill="#f9e6c9"/>
<rect x="214.00" y="79.60" width="1.00" height="12.80" fill="#f6ece0"/>
<rect x="215.00" y="79.60" width="1.00" height="12.80" fill="#f9e2c0"/>
<rect x="216.00" y="79.60" width="1.00" height="12.80" fill="#f9e0b9"/>
<rect x="217.00" y="79.60" width="2.00" height="12.80" fill="#fb7657"/>
<rect x="219.00" y="79.60" width="14.00" height="12.80" fill="#f4eee5"/>
<rect x="233.00" y="79.60" width="2.00" height="12.80" fill="#f9e1bd"/>
<rect x="235.00" y="79.60" width="1.00" height="12.80" fill="#f6ecdd"/>
<rect x="236.00" y="79.60" width="2.00" height="12.80" fill="#f8e9d5"/>
<rect x="238.00" y="79.60" width="2.00" height="12.80" fill="#f9e7cb"/>
<rect x="240.00" y="79.60" width="1.00" height="12.80" fill="#f7ead5"/>
<rect x="241.00" y="79.60" width="2.00" height="12.80" fill="#f9e7cb"/>
<rect x="243.00" y="79.60" width="1.00" height="12.80" fill="#f7ead7"/>
<rect x="244.00" y="79.60" width="1.00" height="12.80" fill="#fbb38b"/>
<rect x="245.00" y="79.60" width="140.00" height="12.80" fill="#f9e7cb"/>
<rect x="385.00" y="79.60" width="4.00" height="12.80" fill="#fac29a"/>
<rect x="389.00" y="79.60" width="2.00" height="12.80" fill="#f6ebdc"/>
<rect x="391.00" y="79.60" width="1.00" height="12.80" fill="#f9e8ce"/>
<rect x="392.00" y="79.60" width="1.00" height="12.80" fill="#f7ebdb"/>
<rect x="393.00" y="79.60" width="1.00" height="12.80" fill="#f9e7cb"/>
<rect x="394.00" y="79.60" width="2.00" height="12.80" fill="#fb9e79"/>
<rect x="396.00" y="79.60" width="1.00" height="12.80" fill="#fbae86"/>
<rect x="397.00" y="79.60" width="1.00" height="12.80" fill="#fbb68e"/>
<rect x="398.00" y="79.60" width="1.00" height="12.80" fill="#f9e7cb"/>
<rect x="399.00" y="79.60" width="3.00" height="12.80" fill="#f7ead7"/>
<rect x="402.00" y="79.60" width="5.00" height="12.80" fill="#f9e7cb"/>
<rect x="407.00" y="79.60" width="3.00" height="12.80" fill="#f8e9d5"/>
<rect x="410.00" y="79.60" width="2.00" height="12.80" fill="#f9e7cb"/>
<rect x="412.00" y="79.60" width="2.00" height="12.80" fill="#f9e7ca"/>
<rect x="414.00" y="79.60" width="1.00" height="12.80" fill="#f6ecde"/>
<rect x="415.00" y="79.60" width="1.00" height="12.80" fill="#f9e7cb"/>
<rect x="416.00" y="79.60" width="1.00" height="12.80" fill="#f9e5c5"/>
<rect x="417.00" y="79.60" width="3.00" height="12.80" fill="#fb9873"/>
<rect x="420.00" y="79.60" width="4.00" height="12.80" fill="#f9e7cb"/>
<rect x="424.00" y="79.60" width="1.00" height="12.80" fill="#f9e4c3"/>
<rect x="425.00" y="79.60" width="2.00" height="12.80" fill="#f6ecdd"/>
<rect x="427.00" y="79.60" width="1.00" height="12.80" fill="#f9e6c9"/>
<rect x="428.00" y="79.60" width="2.00" height="12.80" fill="#f9e7cb"/>
<rect x="430.00" y="79.60" width="2.00" height="12.80" fill="#f7ebdb"/>
<rect x="432.00" y="79.60" width="2.00" height="12.80" fill="#f9e3c3"/>
<rect x="434.00" y="79.60" width="1.00" height="12.80" fill="#f9e7cb"/>
<rect x="435.00" y="79.60" width="1.00" height="12.80" fill="#f9e6c9"/>
<rect x="436.00" y="79.60" width="1.00" height="12.80" fill="#f6ecdf"/>
<rect x="437.00" y="79.60" width="2.00" height="12.80" fill="#f6ebdd"/>
<rect x="439.00" y="79.60" width="1.00" height="12.80" fill="#f9e7cb"/>
<rect x="440.00" y="79.60" width="1.00" height="12.80" fill="#f7ead8"/>
<rect x="441.00" y="79.60" width="1.00" height="12.80" fill="#f9e8cd"/>
<rect x="442.00" y="79.60" width="2.00" height="12.80" fill="#f8e8d0"/>
<rect x="444.00" y="79.60" width="2.00" height="12.80" fill="#f9e7cb"/>
<rect x="446.00" y="79.60" width="2.00" height="12.80" fill="#fb9672"/>
<rect x="448.00" y="79.60" width="3.00" height="12.80" fill="#fb9974"/>
<rect x="451.00" y="79.60" width="1.00" height="12.80" fill="#fb9d77"/>
<rect x="452.00" y="79.60" width="3.00" height="12.80" fill="#fb8b69"/>
<rect x="455.00" y="79.60" width="2.00" height="12.80" fill="#fb8f6c"/>
<rect x="457.00" y="79.60" width="1.00" height="12.80" fill="#fc6f51"/>
<rect x="458.00" y="79.60" width="3.00" height="12.80" fill="#fc7052"/>
<rect x="461.00" y="79.60" width="1.00" height="12.80" fill="#fb7253"/>
<rect x="462.00" y="79.60" width="3.00" height="12.80" fill="#fb7657"/>
<rect x="465.00" y="79.60" width="2.00" height="12.80" fill="#fb7858"/>
<rect x="467.00" y="79.60" width="3.00" height="12.80" fill="#fc6f51"/>
<rect x="470.00" y="79.60" width="1.00" height="12.80" fill="#fb7455"/>
<rect x="471.00" y="79.60" width="3.00" height="12.80" fill="#fb9873"/>
<rect x="474.00" y="79.60" width="1.00" height="12.80" fill="#fb7455"/>
<rect x="475.00" y="79.60" width="2.00" height="12.80" fill="#fb7153"/>
<rect x="477.00" y="79.60" width="1.00" height="12.80" fill="#fc6f51"/>
<rect x="478.00" y="79.60" width="2.00" height="12.80" fill="#fc7152"/>
<rect x="480.00" y="79.60" width="3.00" height="12.80" fill="#fb7959"/>
<rect x="483.00" y="79.60" width="3.00" height="12.80" fill="#fc6e50"/>
<rect x="486.00" y="79.60" width="1.00" height="12.80" fill="#fc7152"/>
<rect x="487.00" y="79.60" width="2.00" height="12.80" fill="#fc6f51"/>
<rect x="489.00" y="79.60" width="31.00" height="12.80" fill="#f9e7cb"/>
<rect x="520.00" y="79.60" width="1.00" height="12.80" fill="#fbae86"/>
<rect x="521.00" y="79.60" width="3.00" height="12.80" fill="#f9e7cb"/>
<rect x="524.00" y="79.60" width="1.00" height="12.80" fill="#f6ece1"/>
<rect x="525.00" y="79.60" width="3.00" height="12.80" fill="#f8e8cf"/>
<rect x="528.00" y="79.60" width="3.00" height="12.80" fill="#f9e7cb"/>
<rect x="531.00" y="79.60" width="1.00" height="12.80" fill="#f9d8b0"/>
<rect x="532.00" y="79.60" width="1.00" height="12.80" fill="#f9e7cb"/>
<rect x="533.00" y="79.60" width="1.00" height="12.80" fill="#f6ebdc"/>
<rect x="534.00" y="79.60" width="1.00" height="12.80" fill="#f9dbb4"/>
<rect x="535.00" y="79.60" width="3.00" height="12.80" fill="#f5ede2"/>
<rect x="538.00" y="79.60" width="3.00" height="12.80" fill="#f9e7cb"/>
<rect x="541.00" y="79.60" width="2.00" height="12.80" fill="#f9e4c4"/>
<rect x="543.00" y="79.60" width="1.00" height="12.80" fill="#f5ede1"/>
<rect x="544.00" y="79.60" width="1.00" height="12.80" fill="#f6ece0"/>
<rect x="545.00" y="79.60" width="2.00" height="12.80" fill="#f9e2bf"/>
<rect x="547.00" y="79.60" width="1.00" height="12.80" fill="#f8e9d5"/>
<rect x="548.00" y="79.60" width="1.00" height="12.80" fill="#f6ecde"/>
<rect x="549.00" y="79.60" width="1.00" height="12.80" fill="#f9e7cc"/>
<rect x="550.00" y="79.60" width="3.00" height="12.80" fill="#f9d9b2"/>
<rect x="553.00" y="79.60" width="6.00" height="12.80" fill="#f9e7cb"/>
<rect x="559.00" y="79.60" width="3.00" height="12.80" fill="#f9d7b0"/>
<rect x="562.00" y="79.60" width="1.00" height="12.80" fill="#f9e7cb"/>
<rect x="563.00" y="79.60" width="2.00" height="12.80" fill="#f9e0ba"/>
<rect x="565.00" y="79.60" width="3.00" height="12.80" fill="#f9d7af"/>
<rect x="568.00" y="79.60" width="2.00" height="12.80" fill="#f9e7cb"/>
<rect x="570.00" y="79.60" width="3.00" height="12.80" fill="#f8e8cf"/>
<rect x="573.00" y="79.60" width="3.00" height="12.80" fill="#f9e7cb"/>
<rect x="576.00" y="79.60" width="1.00" height="12.80" fill="#f9d9b2"/>
<rect x="577.00" y="79.60" width="2.00" height="12.80" fill="#f9dcb5"/>
<rect x="579.00" y="79.60" width="1.00" height="12.80" fill="#facca5"/>
<rect x="580.00" y="79.60" width="3.00" height="12.80" fill="#f9ddb6"/>
<rect x="583.00" y="79.60" width="1.00" height="12.80" fill="#f8e8d0"/>
<rect x="584.00" y="79.60" width="1.00" height="12.80" fill="#f8e9d4"/>
<rect x="585.00" y="79.60" width="4.00" height="12.80" fill="#f9e7cb"/>
<rect x="589.00" y="79.60" width="2.00" height="12.80" fill="#fb8765"/>
<rect x="591.00" y="79.60" width="1.00" height="12.80" fill="#f9e7cb"/>
<rect x="592.00" y="79.60" width="3.00" height="12.80" fill="#f9e8ce"/>
<rect x="595.00" y="79.60" width="1.00" height="12.80" fill="#f9e7cb"/>
<rect x="596.00" y="79.60" width="1.00" height="12.80" fill="#f5ede2"/>
<rect x="71.00" y="91.80" width="19.00" height="12.80" fill="#f9e7cb"/>
<rect x="90.00" y="91.80" width="2.00" height="12.80" fill="#f9dab3"/>
<rect x="92.00" y="91.80" width="1.00" height="12.80" fill="#facda6"/>
<rect x="93.00" y="91.80" width="3.00" height="12.80" fill="#facfa7"/>
<rect x="96.00" y="91.80" width="2.00" height="12.80" fill="#f9dab3"/>
<rect x="98.00" y="91.80" width="1.00" height="12.80" fill="#f9d4ad"/>
<rect x="99.00" y="91.80" width="100.00" height="12.80" fill="#f9e7cb"/>
<rect x="199.00" y="91.80" width="3.00" height="12.80" fill="#fbae86"/>
<rect x="202.00" y="91.80" width="3.00" height="12.80" fill="#f9e7cb"/>
<rect x="205.00" y="91.80" width="2.00" height="12.80" fill="#f6ecdf"/>
<rect x="207.00" y="91.80" width="1.00" height="12.80" fill="#fad2ab"/>
<rect x="208.00" y="91.80" width="1.00" height="12.80" fill="#f9e7cb"/>
<rect x="209.00" y="91.80" width="3.00" height="12.80" fill="#f9dcb5"/>
<rect x="212.00" y="91.80" width="2.00" height="12.80" fill="#f9e0ba"/>
<rect x="214.00" y="91.80" width="1.00" height="12.80" fill="#f7ebda"/>
<rect x="215.00" y="91.80" width="1.00" height="12.80" fill="#f7ead6"/>
<rect x="216.00" y="91.80" width="1.00" height="12.80" fill="#f9e7cb"/>
<rect x="217.00" y="91.80" width="2.00" height="12.80" fill="#f6ecdf"/>
<rect x="219.00" y="91.80" width="1.00" height="12.80" fill="#f9d4ad"/>
<rect x="220.00" y="91.80" width="1.00" height="12.80" fill="#f7ebda"/>
<rect x="221.00" y="91.80" width="3.00" height="12.80" fill="#f9e7cb"/>
<rect x="224.00" y="91.80" width="1.00" height="12.80" fill="#f7ead6"/>
<rect x="225.00" y="91.80" width="1.00" height="12.80" fill="#fb8362"/>
<rect x="226.00" y="91.80" width="1.00" height="12.80" fill="#fb9874"/>
<rect x="227.00" y="91.80" width="2.00" height="12.80" fill="#fb8a68"/>
<rect x="229.00" y="91.80" width="3.00" height="12.80" fill="#fb9a75"/>
<rect x="232.00" y="91.80" width="2.00" height="12.80" fill="#fba17b"/>
<rect x="234.00" y="91.80" width="3.00" height="12.80" fill="#fabd95"/>
<rect x="237.00" y="91.80" width="2.00" height="12.80" fill="#f8e9d3"/>
<rect x="239.00" y="91.80" width="2.00" height="12.80" fill="#f8e9d5"/>
<rect x="241.00" y="91.80" width="2.00" height="12.80" fill="#f8e9d2"/>
<rect x="243.00" y="91.80" width="1.00" height="12.80" fill="#f9e1bc"/>
<rect x="244.00" y="91.80" width="1.00" height="12.80" fill="#f9e7cd"/>
<rect x="245.00" y="91.80" width="140.00" height="12.80" fill="#f9e7cb"/>
<rect x="385.00" y="91.80" width="3.00" height="12.80" fill="#f6ece0"/>
<rect x="388.00" y="91.80" width="2.00" height="12.80" fill="#f7ead9"/>
<rect x="390.00" y="91.80" width="3.00" height="12.80" fill="#f9e5c6"/>
<rect x="393.00" y="91.80" width="6.00" height="12.80" fill="#f9e7cb"/>
<rect x="399.00" y="91.80" width="3.00" height="12.80" fill="#f9e6c9"/>
<rect x="402.00" y="91.80" width="3.00" height="12.80" fill="#fb9d78"/>
<rect x="405.00" y="91.80" width="3.00" height="12.80" fill="#fb8e6b"/>
<rect x="408.00" y="91.80" width="1.00" height="12.80" fill="#fb9370"/>
<rect x="409.00" y="91.80" width="3.00" height="12.80" fill="#fb9b76"/>
<rect x="412.00" y="91.80" width="1.00" height="12.80" fill="#fb936f"/>
<rect x="413.00" y="91.80" width="1.00" height="12.80" fill="#f8e8d1"/>
<rect x="414.00" y="91.80" width="1.00" height="12.80" fill="#f8e8d1"/>
<rect x="415.00" y="91.80" width="3.00" height="12.80" fill="#fad0a8"/>
<rect x="418.00" y="91.80" width="2.00" height="12.80" fill="#fac39b"/>
<rect x="420.00" y="91.80" width="2.00" height="12.80" fill="#fc7052"/>
<rect x="422.00" y="91.80" width="3.00" height="12.80" fill="#fb8564"/>
<rect x="425.00" y="91.80" width="3.00" height="12.80" fill="#fb8463"/>
<rect x="428.00" y="91.80" width="1.00" height="12.80" fill="#fb8664"/>
<rect x="429.00" y="91.80" width="3.00" height="12.80" fill="#fb7355"/>
<rect x="432.00" y="91.80" width="3.00" height="12.80" fill="#fb8463"/>
<rect x="435.00" y="91.80" width="1.00" height="12.80" fill="#fb7556"/>
<rect x="436.00" y="91.80" width="2.00" height="12.80" fill="#fb7b5b"/>
<rect x="438.00" y="91.80" width="1.00" height="12.80" fill="#fc7052"/>
<rect x="439.00" y="91.80" width="1.00" height="12.80" fill="#fb7c5c"/>
<rect x="440.00" y="91.80" width="2.00" height="12.80" fill="#fb7657"/>
<rect x="442.00" y="91.80" width="2.00" height="12.80" fill="#fb7657"/>
<rect x="444.00" y="91.80" width="1.00" height="12.80" fill="#fb8664"/>
<rect x="445.00" y="91.80" width="1.00" height="12.80" fill="#fb7d5d"/>
<rect x="446.00" y="91.80" width="3.00" height="12.80" fill="#fba67f"/>
<rect x="449.00" y="91.80" width="3.00" height="12.80" fill="#fbb58d"/>
<rect x="452.00" y="91.80" width="2.00" height="12.80" fill="#fbb890"/>
<rect x="454.00" y="91.80" width="1.00" height="12.80" fill="#fba07a"/>
<rect x="455.00" y="91.80" width="23.00" height="12.80" fill="#f9e7cb"/>
<rect x="478.00" y="91.80" width="2.00" height="12.80" fill="#fb8765"/>
<rect x="480.00" y="91.80" width="9.00" height="12.80" fill="#f9e7cb"/>
<rect x="489.00" y="91.80" width="1.00" height="12.80" fill="#fba37d"/>
<rect x="490.00" y="91.80" width="31.00" height="12.80" fill="#f9e7cb"/>
<rect x="521.00" y="91.80" width="3.00" height="12.80" fill="#f6ece0"/>
<rect x="524.00" y="91.80" width="1.00" height="12.80" fill="#f9e0bb"/>
<rect x="525.00" y="91.80" width="2.00" height="12.80" fill="#f6ebdc"/>
<rect x="527.00" y="91.80" width="3.00" height="12.80" fill="#f8e8d0"/>
<rect x="530.00" y="91.80" width="1.00" height="12.80" fill="#fba37d"/>
<rect x="531.00" y="91.80" width="1.00" height="12.80" fill="#f9e7cb"/>
<rect x="532.00" y="91.80" width="3.00" height="12.80" fill="#f7ead7"/>
<rect x="535.00" y="91.80" width="2.00" height="12.80" fill="#f9e7cb"/>
<rect x="537.00" y="91.80" width="1.00" height="12.80" fill="#fba37d"/>
<rect x="538.00" y="91.80" width="6.00" height="12.80" fill="#f9e7cb"/>
<rect x="544.00" y="91.80" width="1.00" height="12.80" fill="#f6ecdf"/>
<rect x="545.00" y="91.80" width="3.00" height="12.80" fill="#f9dcb5"/>
<rect x="548.00" y="91.80" width="2.00" height="12.80" fill="#f7ead9"/>
<rect x="550.00" y="91.80" width="1.00" height="12.80" fill="#f7ebda"/>
<rect x="551.00" y="91.80" width="2.00" height="12.80" fill="#f9dbb4"/>
<rect x="553.00" y="91.80" width="2.00" height="12.80" fill="#f5ede2"/>
<rect x="555.00" y="91.80" width="3.00" height="12.80" fill="#f9e1bc"/>
<rect x="558.00" y="91.80" width="1.00" height="12.80" fill="#fba37d"/>
<rect x="559.00" y="91.80" width="1.00" height="12.80" fill="#f9e7cb"/>
<rect x="560.00" y="91.80" width="3.00" height="12.80" fill="#f8e9d4"/>
<rect x="563.00" y="91.80" width="3.00" height="12.80" fill="#f9e7cb"/>
<rect x="566.00" y="91.80" width="3.00" height="12.80" fill="#f9ddb6"/>
<rect x="569.00" y="91.80" width="3.00" height="12.80" fill="#f9e7cb"/>
<rect x="572.00" y="91.80" width="2.00" height="12.80" fill="#f7ead9"/>
<rect x="574.00" y="91.80" width="3.00" height="12.80" fill="#f9e7cc"/>
<rect x="577.00" y="91.80" width="2.00" height="12.80" fill="#f9e7cb"/>
<rect x="579.00" y="91.80" width="3.00" height="12.80" fill="#f9e1bd"/>
<rect x="582.00" y="91.80" width="2.00" height="12.80" fill="#f9e7cc"/>
<rect x="584.00" y="91.80" width="3.00" height="12.80" fill="#f9e7cb"/>
<rect x="587.00" y="91.80" width="1.00" height="12.80" fill="#f5ede1"/>
<rect x="588.00" y="91.80" width="2.00" height="12.80" fill="#f9e7cb"/>
<rect x="590.00" y="91.80" width="3.00" height="12.80" fill="#f7ead6"/>
<rect x="593.00" y="91.80" width="3.00" height="12.80" fill="#f9e1bd"/>
<rect x="596.00" y="91.80" width="1.00" height="12.80" fill="#fba37d"/>
<rect x="71.00" y="104.00" width="1.00" height="12.80" fill="#fb8e6b"/>
<rect x="72.00" y="104.00" width="3.00" height="12.80" fill="#fb9672"/>
<rect x="75.00" y="104.00" width="1.00" height="12.80" fill="#fb916e"/>
<rect x="76.00" y="104.00" width="1.00" height="12.80" fill="#fbab84"/>
<rect x="77.00" y="104.00" width="3.00" height="12.80" fill="#fb9d77"/>
<rect x="80.00" y="104.00" width="2.00" height="12.80" fill="#fb936f"/>
<rect x="82.00" y="104.00" width="1.00" height="12.80" fill="#fba67f"/>
<rect x="83.00" y="104.00" width="2.00" height="12.80" fill="#fb9470"/>
<rect x="85.00" y="104.00" width="3.00" height="12.80" fill="#fb906d"/>
<rect x="88.00" y="104.00" width="3.00" height="12.80" fill="#fbae86"/>
<rect x="91.00" y="104.00" width="2.00" height="12.80" fill="#fba27c"/>
<rect x="93.00" y="104.00" width="1.00" height="12.80" fill="#f9e7cb"/>
<rect x="94.00" y="104.00" width="1.00" height="12.80" fill="#f8e8d1"/>
<rect x="95.00" y="104.00" width="3.00" height="12.80" fill="#f7ebda"/>
<rect x="98.00" y="104.00" width="3.00" height="12.80" fill="#f8e8cf"/>
<rect x="101.00" y="104.00" width="1.00" height="12.80" fill="#f9e7cb"/>
<rect x="102.00" y="104.00" width="1.00" height="12.80" fill="#f7ead5"/>
<rect x="103.00" y="104.00" width="1.00" height="12.80" fill="#f8e8cf"/>
<rect x="104.00" y="104.00" width="1.00" height="12.80" fill="#f9e8cd"/>
<rect x="105.00" y="104.00" width="3.00" height="12.80" fill="#f9e2c0"/>
<rect x="108.00" y="104.00" width="2.00" height="12.80" fill="#f9dbb4"/>
<rect x="110.00" y="104.00" width="2.00" height="12.80" fill="#f9e2be"/>
<rect x="112.00" y="104.00" width="90.00" height="12.80" fill="#f9e7cb"/>
<rect x="202.00" y="104.00" width="3.00" height="12.80" fill="#fbac84"/>
<rect x="205.00" y="104.00" width="1.00" height="12.80" fill="#fba07a"/>
<rect x="206.00" y="104.00" width="2.00" height="12.80" fill="#fabe97"/>
<rect x="208.00" y="104.00" width="2.00" height="12.80" fill="#fb9974"/>
<rect x="210.00" y="104.00" width="1.00" height="12.80" fill="#fb8765"/>
<rect x="211.00" y="104.00" width="1.00" height="12.80" fill="#f7ebdb"/>
<rect x="212.00" y="104.00" width="3.00" height="12.80" fill="#f6ece1"/>
<rect x="215.00" y="104.00" width="3.00" height="12.80" fill="#f9d4ad"/>
<rect x="218.00" y="104.00" width="2.00" height="12.80" fill="#f6ecdf"/>
<rect x="220.00" y="104.00" width="1.00" height="12.80" fill="#f8e9d2"/>
<rect x="221.00" y="104.00" width="1.00" height="12.80" fill="#f9dbb4"/>
<rect x="222.00" y="104.00" width="2.00" height="12.80" fill="#f9d5ae"/>
<rect x="224.00" y="104.00" width="2.00" height="12.80" fill="#f9dfb8"/>
<rect x="226.00" y="104.00" width="1.00" height="12.80" fill="#facda6"/>
<rect x="227.00" y="104.00" width="1.00" height="12.80" fill="#f9dcb5"/>
<rect x="228.00" y="104.00" width="2.00" height="12.80" fill="#f8e8ce"/>
<rect x="230.00" y="104.00" width="3.00" height="12.80" fill="#f6ece1"/>
<rect x="233.00" y="104.00" width="1.00" height="12.80" fill="#f9d7b0"/>
<rect x="234.00" y="104.00" width="1.00" height="12.80" fill="#f9dcb4"/>
<rect x="235.00" y="104.00" width="3.00" height="12.80" fill="#fb9d78"/>
<rect x="238.00" y="104.00" width="3.00" height="12.80" fill="#f9dcb5"/>
<rect x="241.00" y="104.00" width="3.00" height="12.80" fill="#f7ead6"/>
<rect x="244.00" y="104.00" width="1.00" height="12.80" fill="#f9e3c1"/>
<rect x="245.00" y="104.00" width="105.00" height="12.80" fill="#fc7153"/>
<rect x="350.00" y="104.00" width="1.00" height="12.80" fill="#fb7354"/>
<rect x="351.00" y="104.00" width="2.00" height="12.80" fill="#fc6f51"/>
<rect x="353.00" y="104.00" width="2.00" height="12.80" fill="#fc6e50"/>
<rect x="355.00" y="104.00" width="3.00" height="12.80" fill="#fc6e50"/>
<rect x="358.00" y="104.00" width="2.00" height="12.80" fill="#fc6e50"/>
<rect x="360.00" y="104.00" width="1.00" height="12.80" fill="#fb7758"/>
<rect x="361.00" y="104.00" width="3.00" height="12.80" fill="#fb7354"/>
<rect x="364.00" y="104.00" width="3.00" height="12.80" fill="#fb7758"/>
<rect x="367.00" y="104.00" width="2.00" height="12.80" fill="#fb7455"/>
<rect x="369.00" y="104.00" width="2.00" height="12.80" fill="#fc7052"/>
<rect x="371.00" y="104.00" width="2.00" height="12.80" fill="#fb7859"/>
<rect x="373.00" y="104.00" width="1.00" height="12.80" fill="#fb7355"/>
<rect x="374.00" y="104.00" width="3.00" height="12.80" fill="#fb7455"/>
<rect x="377.00" y="104.00" width="3.00" height="12.80" fill="#fb7354"/>
<rect x="380.00" y="104.00" width="3.00" height="12.80" fill="#fc7153"/>
<rect x="383.00" y="104.00" width="3.00" height="12.80" fill="#fb7455"/>
<rect x="386.00" y="104.00" width="2.00" height="12.80" fill="#fc6f51"/>
<rect x="388.00" y="104.00" width="2.00" height="12.80" fill="#fc7052"/>
<rect x="390.00" y="104.00" width="1.00" height="12.80" fill="#fc7153"/>
<rect x="391.00" y="104.00" width="2.00" height="12.80" fill="#fb7758"/>
<rect x="393.00" y="104.00" width="2.00" height="12.80" fill="#fc7152"/>
<rect x="395.00" y="104.00" width="3.00" height="12.80" fill="#fb7556"/>
<rect x="398.00" y="104.00" width="1.00" height="12.80" fill="#fb7153"/>
<rect x="399.00" y="104.00" width="3.00" height="12.80" fill="#fb9370"/>
<rect x="402.00" y="104.00" width="2.00" height="12.80" fill="#fb906c"/>
<rect x="404.00" y="104.00" width="1.00" height="12.80" fill="#fb9672"/>
<rect x="405.00" y="104.00" width="3.00" height="12.80" fill="#fb9772"/>
<rect x="408.00" y="104.00" width="3.00" height="12.80" fill="#fb8e6b"/>
<rect x="411.00" y="104.00" width="1.00" height="12.80" fill="#fb8060"/>
<rect x="412.00" y="104.00" width="1.00" height="12.80" fill="#fb9974"/>
<rect x="413.00" y="104.00" width="1.00" height="12.80" fill="#fba780"/>
<rect x="414.00" y="104.00" width="2.00" height="12.80" fill="#fbb68e"/>
<rect x="416.00" y="104.00" width="2.00" height="12.80" fill="#fbb38b"/>
<rect x="418.00" y="104.00" width="2.00" height="12.80" fill="#fac199"/>
<rect x="420.00" y="104.00" width="2.00" height="12.80" fill="#f8e8d0"/>
<rect x="422.00" y="104.00" width="3.00" height="12.80" fill="#f9d7b0"/>
<rect x="425.00" y="104.00" width="3.00" height="12.80" fill="#f9dfb8"/>
<rect x="428.00" y="104.00" width="2.00" height="12.80" fill="#f9e7cb"/>
<rect x="430.00" y="104.00" width="3.00" height="12.80" fill="#f9d5ae"/>
<rect x="433.00" y="104.00" width="3.00" height="12.80" fill="#f9d7b0"/>
<rect x="436.00" y="104.00" width="3.00" height="12.80" fill="#f6ecdf"/>
<rect x="439.00" y="104.00" width="2.00" height="12.80" fill="#f9e3c1"/>
<rect x="441.00" y="104.00" width="1.00" height="12.80" fill="#f9e7cb"/>
<rect x="442.00" y="104.00" width="1.00" height="12.80" fill="#f9e0bb"/>
<rect x="443.00" y="104.00" width="3.00" height="12.80" fill="#f9d7b0"/>
<rect x="446.00" y="104.00" width="2.00" height="12.80" fill="#f9e3c2"/>
<rect x="448.00" y="104.00" width="2.00" height="12.80" fill="#f9e2bf"/>
<rect x="450.00" y="104.00" width="1.00" height="12.80" fill="#f9e7cb"/>
<rect x="451.00" y="104.00" width="2.00" height="12.80" fill="#f8e8d1"/>
<rect x="453.00" y="104.00" width="2.00" height="12.80" fill="#f9e7cb"/>
<rect x="455.00" y="104.00" width="1.00" height="12.80" fill="#f9e6c8"/>
<rect x="456.00" y="104.00" width="3.00" height="12.80" fill="#f9e6ca"/>
<rect x="459.00" y="104.00" width="15.00" height="12.80" fill="#f9e7cb"/>
<rect x="474.00" y="104.00" width="3.00" height="12.80" fill="#fb7c5c"/>
<rect x="477.00" y="104.00" width="12.00" height="12.80" fill="#f9e7cb"/>
<rect x="489.00" y="104.00" width="3.00" height="12.80" fill="#fbb38b"/>
<rect x="492.00" y="104.00" width="2.00" height="12.80" fill="#fbb28a"/>
<rect x="494.00" y="104.00" width="1.00" height="12.80" fill="#fbb78f"/>
<rect x="495.00" y="104.00" width="26.00" height="12.80" fill="#f9e7cb"/>
<rect x="521.00" y="104.00" width="1.00" height="12.80" fill="#f9dbb4"/>
<rect x="522.00" y="104.00" width="1.00" height="12.80" fill="#f9e7cb"/>
<rect x="523.00" y="104.00" width="3.00" height="12.80" fill="#fb916d"/>
<rect x="526.00" y="104.00" width="3.00" height="12.80" fill="#fb9f79"/>
<rect x="529.00" y="104.00" width="1.00" height="12.80" fill="#f7ebda"/>
<rect x="530.00" y="104.00" width="2.00" height="12.80" fill="#f9e7cd"/>
<rect x="532.00" y="104.00" width="1.00" height="12.80" fill="#f9d5ae"/>
<rect x="533.00" y="104.00" width="1.00" height="12.80" fill="#fbaa83"/>
<rect x="534.00" y="104.00" width="1.00" height="12.80" fill="#fb9d78"/>
<rect x="535.00" y="104.00" width="1.00" height="12.80" fill="#fba881"/>
<rect x="536.00" y="104.00" width="3.00" height="12.80" fill="#fb9e79"/>
<rect x="539.00" y="104.00" width="1.00" height="12.80" fill="#f9e7cb"/>
<rect x="540.00" y="104.00" width="2.00" height="12.80" fill="#f6ece1"/>
<rect x="542.00" y="104.00" width="1.00" height="12.80" fill="#f9d9b2"/>
<rect x="543.00" y="104.00" width="1.00" height="12.80" fill="#fb9d78"/>
<rect x="544.00" y="104.00" width="1.00" height="12.80" fill="#f9d9b2"/>
<rect x="545.00" y="104.00" width="3.00" height="12.80" fill="#f7ebdb"/>
<rect x="548.00" y="104.00" width="2.00" height="12.80" fill="#f8e9d3"/>
<rect x="550.00" y="104.00" width="2.00" height="12.80" fill="#f9e7cb"/>
<rect x="552.00" y="104.00" width="2.00" height="12.80" fill="#fb8664"/>
<rect x="554.00" y="104.00" width="1.00" height="12.80" fill="#fb7d5d"/>
<rect x="555.00" y="104.00" width="1.00" height="12.80" fill="#fb8160"/>
<rect x="556.00" y="104.00" width="1.00" height="12.80" fill="#fb7c5c"/>
<rect x="557.00" y="104.00" width="1.00" height="12.80" fill="#fb8462"/>
<rect x="558.00" y="104.00" width="1.00" height="12.80" fill="#f9e7cb"/>
<rect x="559.00" y="104.00" width="3.00" height="12.80" fill="#f9e7cd"/>
<rect x="562.00" y="104.00" width="1.00" height="12.80" fill="#f7ead7"/>
<rect x="563.00" y="104.00" width="1.00" height="12.80" fill="#f9e7cb"/>
<rect x="564.00" y="104.00" width="3.00" height="12.80" fill="#f9e5c5"/>
<rect x="567.00" y="104.00" width="1.00" height="12.80" fill="#f9e7cb"/>
<rect x="568.00" y="104.00" width="3.00" height="12.80" fill="#fba17b"/>
<rect x="571.00" y="104.00" width="2.00" height="12.80" fill="#fb8866"/>
<rect x="573.00" y="104.00" width="1.00" height="12.80" fill="#f9e7cb"/>
<rect x="574.00" y="104.00" width="3.00" height="12.80" fill="#f9e8ce"/>
<rect x="577.00" y="104.00" width="3.00" height="12.80" fill="#f9e7cb"/>
<rect x="580.00" y="104.00" width="2.00" height="12.80" fill="#f9e5c7"/>
<rect x="582.00" y="104.00" width="3.00" height="12.80" fill="#f9e7cb"/>
<rect x="585.00" y="104.00" width="7.00" height="12.80" fill="#f9e7cb"/>
<rect x="592.00" y="104.00" width="1.00" height="12.80" fill="#f7ead7"/>
<rect x="593.00" y="104.00" width="2.00" height="12.80" fill="#fb9d78"/>
<rect x="595.00" y="104.00" width="1.00" height="12.80" fill="#f9e4c5"/>
<rect x="596.00" y="104.00" width="1.00" height="12.80" fill="#f9e1be"/>
<rect x="71.00" y="116.20" width="11.00" height="12.80" fill="#f9e7cb"/>
<rect x="82.00" y="116.20" width="3.00" height="12.80" fill="#f9e6c8"/>
<rect x="85.00" y="116.20" width="6.00" height="12.80" fill="#f9e7cb"/>
<rect x="91.00" y="116.20" width="1.00" height="12.80" fill="#f8e9d2"/>
<rect x="92.00" y="116.20" width="8.00" height="12.80" fill="#f9e7cb"/>
<rect x="100.00" y="116.20" width="4.00" height="12.80" fill="#f9dab3"/>
<rect x="104.00" y="116.20" width="3.00" height="12.80" fill="#f7ead6"/>
<rect x="107.00" y="116.20" width="3.00" height="12.80" fill="#f9e7cb"/>
<rect x="110.00" y="116.20" width="2.00" height="12.80" fill="#f9e3c1"/>
<rect x="112.00" y="116.20" width="2.00" height="12.80" fill="#f9e7cb"/>
<rect x="114.00" y="116.20" width="1.00" height="12.80" fill="#f8e9d5"/>
<rect x="115.00" y="116.20" width="86.00" height="12.80" fill="#f9e7cb"/>
<rect x="201.00" y="116.20" width="3.00" height="12.80" fill="#fac39b"/>
<rect x="204.00" y="116.20" width="1.00" height="12.80" fill="#fb9a75"/>
<rect x="205.00" y="116.20" width="2.00" height="12.80" fill="#fbb088"/>
<rect x="207.00" y="116.20" width="2.00" height="12.80" fill="#f7ead8"/>
<rect x="209.00" y="116.20" width="1.00" height="12.80" fill="#fabc94"/>
<rect x="210.00" y="116.20" width="3.00" height="12.80" fill="#fb9b76"/>
<rect x="213.00" y="116.20" width="1.00" height="12.80" fill="#fbb38b"/>
<rect x="214.00" y="116.20" width="2.00" height="12.80" fill="#fb9571"/>
<rect x="216.00" y="116.20" width="1.00" height="12.80" fill="#fabb93"/>
<rect x="217.00" y="116.20" width="2.00" height="12.80" fill="#f6ecdf"/>
<rect x="219.00" y="116.20" width="1.00" height="12.80" fill="#fb8f6c"/>
<rect x="220.00" y="116.20" width="1.00" height="12.80" fill="#fb7d5d"/>
<rect x="221.00" y="116.20" width="1.00" height="12.80" fill="#fb7254"/>
<rect x="222.00" y="116.20" width="1.00" height="12.80" fill="#fb8f6c"/>
<rect x="223.00" y="116.20" width="1.00" height="12.80" fill="#fc7052"/>
<rect x="224.00" y="116.20" width="2.00" height="12.80" fill="#fb8d6a"/>
<rect x="226.00" y="116.20" width="2.00" height="12.80" fill="#fb7858"/>
<rect x="228.00" y="116.20" width="3.00" height="12.80" fill="#fb7556"/>
<rect x="231.00" y="116.20" width="1.00" height="12.80" fill="#fb8665"/>
<rect x="232.00" y="116.20" width="2.00" height="12.80" fill="#fb8362"/>
<rect x="234.00" y="116.20" width="3.00" height="12.80" fill="#fb8160"/>
<rect x="237.00" y="116.20" width="1.00" height="12.80" fill="#fb8c69"/>
<rect x="238.00" y="116.20" width="3.00" height="12.80" fill="#fb8f6c"/>
<rect x="241.00" y="116.20" width="2.00" height="12.80" fill="#fb7e5e"/>
<rect x="243.00" y="116.20" width="1.00" height="12.80" fill="#fb8e6b"/>
<rect x="244.00" y="116.20" width="1.00" height="12.80" fill="#fb8e6b"/>
<rect x="245.00" y="116.20" width="2.00" height="12.80" fill="#f6ecdf"/>
<rect x="247.00" y="116.20" width="2.00" height="12.80" fill="#f5ede1"/>
<rect x="249.00" y="116.20" width="137.00" height="12.80" fill="#f9e7cb"/>
<rect x="386.00" y="116.20" width="1.00" height="12.80" fill="#f5ede1"/>
<rect x="387.00" y="116.20" width="3.00" height="12.80" fill="#f6ece0"/>
<rect x="390.00" y="116.20" width="2.00" height="12.80" fill="#f8e9d2"/>
<rect x="392.00" y="116.20" width="2.00" height="12.80" fill="#f7ebda"/>
<rect x="394.00" y="116.20" width="2.00" height="12.80" fill="#f8e8d0"/>
<rect x="396.00" y="116.20" width="2.00" height="12.80" fill="#f9e4c5"/>
<rect x="398.00" y="116.20" width="3.00" height="12.80" fill="#f9e7cb"/>
<rect x="401.00" y="116.20" width="2.00" height="12.80" fill="#f6ecdf"/>
<rect x="403.00" y="116.20" width="2.00" height="12.80" fill="#f5ede3"/>
<rect x="405.00" y="116.20" width="2.00" height="12.80" fill="#f9e7cb"/>
<rect x="407.00" y="116.20" width="3.00" height="12.80" fill="#f6ebdc"/>
<rect x="410.00" y="116.20" width="2.00" height="12.80" fill="#f6ecde"/>
<rect x="412.00" y="116.20" width="5.00" height="12.80" fill="#f9e7cb"/>
<rect x="417.00" y="116.20" width="2.00" height="12.80" fill="#f6ece0"/>
<rect x="419.00" y="116.20" width="1.00" height="12.80" fill="#f9e7cb"/>
<rect x="420.00" y="116.20" width="3.00" height="12.80" fill="#f8e9d1"/>
<rect x="423.00" y="116.20" width="3.00" height="12.80" fill="#f9e4c3"/>
<rect x="426.00" y="116.20" width="2.00" height="12.80" fill="#f9e7ca"/>
<rect x="428.00" y="116.20" width="2.00" height="12.80" fill="#f6ecde"/>
<rect x="430.00" y="116.20" width="3.00" height="12.80" fill="#f9e7cc"/>
<rect x="433.00" y="116.20" width="2.00" height="12.80" fill="#f9e6c9"/>
<rect x="435.00" y="116.20" width="2.00" height="12.80" fill="#f9e7cb"/>
<rect x="437.00" y="116.20" width="3.00" height="12.80" fill="#f7ebd9"/>
<rect x="440.00" y="116.20" width="1.00" height="12.80" fill="#f9e7cb"/>
<rect x="441.00" y="116.20" width="2.00" height="12.80" fill="#f8e9d1"/>
<rect x="443.00" y="116.20" width="2.00" height="12.80" fill="#f7ebd9"/>
<rect x="445.00" y="116.20" width="1.00" height="12.80" fill="#f9e5c7"/>
<rect x="446.00" y="116.20" width="2.00" height="12.80" fill="#f9e7cb"/>
<rect x="448.00" y="116.20" width="2.00" height="12.80" fill="#fbad85"/>
<rect x="450.00" y="116.20" width="1.00" height="12.80" fill="#fb9a75"/>
<rect x="451.00" y="116.20" width="1.00" height="12.80" fill="#fb9a76"/>
<rect x="452.00" y="116.20" width="2.00" height="12.80" fill="#fba37d"/>
<rect x="454.00" y="116.20" width="1.00" height="12.80" fill="#fbb189"/>
<rect x="455.00" y="116.20" width="18.00" height="12.80" fill="#f9e7cb"/>
<rect x="473.00" y="116.20" width="1.00" height="12.80" fill="#fb8765"/>
<rect x="474.00" y="116.20" width="47.00" height="12.80" fill="#f9e7cb"/>
<rect x="521.00" y="116.20" width="3.00" height="12.80" fill="#f9e3c1"/>
<rect x="524.00" y="116.20" width="1.00" height="12.80" fill="#f8e9d3"/>
<rect x="525.00" y="116.20" width="3.00" height="12.80" fill="#f9e1bc"/>
<rect x="528.00" y="116.20" width="1.00" height="12.80" fill="#f6ecde"/>
<rect x="529.00" y="116.20" width="2.00" height="12.80" fill="#fb9571"/>
<rect x="531.00" y="116.20" width="2.00" height="12.80" fill="#fba67f"/>
<rect x="533.00" y="116.20" width="2.00" height="12.80" fill="#fb9470"/>
<rect x="535.00" y="116.20" width="1.00" height="12.80" fill="#fb9975"/>
<rect x="536.00" y="116.20" width="1.00" height="12.80" fill="#f9e7cb"/>
<rect x="537.00" y="116.20" width="1.00" height="12.80" fill="#f9dbb4"/>
<rect x="538.00" y="116.20" width="3.00" height="12.80" fill="#f6ebdd"/>
<rect x="541.00" y="116.20" width="2.00" height="12.80" fill="#f8e9d1"/>
<rect x="543.00" y="116.20" width="5.00" height="12.80" fill="#f9e7cb"/>
<rect x="548.00" y="116.20" width="1.00" height="12.80" fill="#f9e7cc"/>
<rect x="549.00" y="116.20" width="1.00" height="12.80" fill="#f8e8d0"/>
<rect x="550.00" y="116.20" width="1.00" height="12.80" fill="#f7ead5"/>
<rect x="551.00" y="116.20" width="3.00" height="12.80" fill="#f9e5c7"/>
<rect x="554.00" y="116.20" width="3.00" height="12.80" fill="#f9d9b1"/>
<rect x="557.00" y="116.20" width="2.00" height="12.80" fill="#f9dfb8"/>
<rect x="559.00" y="116.20" width="3.00" height="12.80" fill="#fbae86"/>
<rect x="562.00" y="116.20" width="1.00" height="12.80" fill="#f9e3c2"/>
<rect x="563.00" y="116.20" width="2.00" height="12.80" fill="#f8e9d1"/>
<rect x="565.00" y="116.20" width="2.00" height="12.80" fill="#f8e9d3"/>
<rect x="567.00" y="116.20" width="3.00" height="12.80" fill="#f9deb7"/>
<rect x="570.00" y="116.20" width="1.00" height="12.80" fill="#f9e7cb"/>
<rect x="571.00" y="116.20" width="1.00" height="12.80" fill="#f7ebd9"/>
<rect x="572.00" y="116.20" width="2.00" height="12.80" fill="#f9e3c1"/>
<rect x="574.00" y="116.20" width="1.00" height="12.80" fill="#f8e9d3"/>
<rect x="575.00" y="116.20" width="1.00" height="12.80" fill="#f9e7cb"/>
<rect x="576.00" y="116.20" width="1.00" height="12.80" fill="#f9e4c5"/>
<rect x="577.00" y="116.20" width="1.00" height="12.80" fill="#f9dbb4"/>
<rect x="578.00" y="116.20" width="3.00" height="12.80" fill="#f9e7cb"/>
<rect x="581.00" y="116.20" width="1.00" height="12.80" fill="#f7ead7"/>
<rect x="582.00" y="116.20" width="1.00" height="12.80" fill="#f9e0bb"/>
<rect x="583.00" y="116.20" width="2.00" height="12.80" fill="#f8e9d3"/>
<rect x="585.00" y="116.20" width="6.00" height="12.80" fill="#f9e7cb"/>
<rect x="591.00" y="116.20" width="1.00" height="12.80" fill="#f9e4c4"/>
<rect x="592.00" y="116.20" width="1.00" height="12.80" fill="#f9e7cb"/>
<rect x="593.00" y="116.20" width="2.00" height="12.80" fill="#fba982"/>
<rect x="595.00" y="116.20" width="1.00" height="12.80" fill="#fbaa82"/>
<rect x="596.00" y="116.20" width="1.00" height="12.80" fill="#fba57f"/>
<rect x="71.00" y="128.40" width="2.00" height="12.20" fill="#fc7153"/>
<rect x="73.00" y="128.40" width="1.00" height="12.20" fill="#fb8160"/>
<rect x="74.00" y="128.40" width="1.00" height="12.20" fill="#fb7c5c"/>
<rect x="75.00" y="128.40" width="3.00" height="12.20" fill="#fb8261"/>
<rect x="78.00" y="128.40" width="3.00" height="12.20" fill="#fb8160"/>
<rect x="81.00" y="128.40" width="1.00" height="12.20" fill="#fb7556"/>
<rect x="82.00" y="128.40" width="2.00" height="12.20" fill="#fb7153"/>
<rect x="84.00" y="128.40" width="2.00" height="12.20" fill="#fc7052"/>
<rect x="86.00" y="128.40" width="2.00" height="12.20" fill="#fb805f"/>
<rect x="88.00" y="128.40" width="2.00" height="12.20" fill="#fb805f"/>
<rect x="90.00" y="128.40" width="60.00" height="12.20" fill="#fb7354"/>
<rect x="150.00" y="128.40" width="2.00" height="12.20" fill="#fb7556"/>
<rect x="152.00" y="128.40" width="2.00" height="12.20" fill="#fb7657"/>
<rect x="154.00" y="128.40" width="3.00" height="12.20" fill="#fb7657"/>
<rect x="157.00" y="128.40" width="2.00" height="12.20" fill="#fb7b5b"/>
<rect x="159.00" y="128.40" width="2.00" height="12.20" fill="#fb7758"/>
<rect x="161.00" y="128.40" width="1.00" height="12.20" fill="#fc7052"/>
<rect x="162.00" y="128.40" width="1.00" height="12.20" fill="#fb7a5a"/>
<rect x="163.00" y="128.40" width="2.00" height="12.20" fill="#fc7052"/>
<rect x="165.00" y="128.40" width="1.00" height="12.20" fill="#fb795a"/>
<rect x="166.00" y="128.40" width="2.00" height="12.20" fill="#fb7354"/>
<rect x="168.00" y="128.40" width="2.00" height="12.20" fill="#fb7455"/>
<rect x="170.00" y="128.40" width="32.00" height="12.20" fill="#fb7354"/>
<rect x="202.00" y="128.40" width="2.00" height="12.20" fill="#fba07a"/>
<rect x="204.00" y="128.40" width="3.00" height="12.20" fill="#fb8564"/>
<rect x="207.00" y="128.40" width="1.00" height="12.20" fill="#fb7758"/>
<rect x="208.00" y="128.40" width="2.00" height="12.20" fill="#fb7c5c"/>
<rect x="210.00" y="128.40" width="3.00" height="12.20" fill="#fb9d78"/>
<rect x="213.00" y="128.40" width="3.00" height="12.20" fill="#fb916e"/>
<rect x="216.00" y="128.40" width="1.00" height="12.20" fill="#fb9c77"/>
<rect x="217.00" y="128.40" width="1.00" height="12.20" fill="#fba17b"/>
<rect x="218.00" y="128.40" width="3.00" height="12.20" fill="#f9e6c9"/>
<rect x="221.00" y="128.40" width="2.00" height="12.20" fill="#fba881"/>
<rect x="223.00" y="128.40" width="1.00" height="12.20" fill="#f9e4c3"/>
<rect x="224.00" y="128.40" width="1.00" height="12.20" fill="#f9dfb8"/>
<rect x="225.00" y="128.40" width="1.00" height="12.20" fill="#f9e8ce"/>
<rect x="226.00" y="128.40" width="3.00" height="12.20" fill="#fbae86"/>
<rect x="229.00" y="128.40" width="3.00" height="12.20" fill="#f9e7cb"/>
<rect x="232.00" y="128.40" width="1.00" height="12.20" fill="#fac29b"/>
<rect x="233.00" y="128.40" width="2.00" height="12.20" fill="#fba37d"/>
<rect x="235.00" y="128.40" width="3.00" height="12.20" fill="#fac49d"/>
<rect x="238.00" y="128.40" width="2.00" height="12.20" fill="#fac8a1"/>
<rect x="240.00" y="128.40" width="2.00" height="12.20" fill="#facaa2"/>
<rect x="242.00" y="128.40" width="2.00" height="12.20" fill="#f9d6ae"/>
<rect x="244.00" y="128.40" width="2.00" height="12.20" fill="#f9e3c1"/>
<rect x="246.00" y="128.40" width="1.00" height="12.20" fill="#fac199"/>
<rect x="247.00" y="128.40" width="2.00" height="12.20" fill="#f9d7b0"/>
<rect x="249.00" y="128.40" width="11.00" height="12.20" fill="#f9e7cb"/>
<rect x="260.00" y="128.40" width="1.00" height="12.20" fill="#f9e2c0"/>
<rect x="261.00" y="128.40" width="1.00" height="12.20" fill="#f9e7cb"/>
<rect x="262.00" y="128.40" width="2.00" height="12.20" fill="#f9dab2"/>
<rect x="264.00" y="128.40" width="2.00" height="12.20" fill="#f9e7cb"/>
<rect x="266.00" y="128.40" width="1.00" height="12.20" fill="#f9e0bb"/>
<rect x="267.00" y="128.40" width="3.00" height="12.20" fill="#f9e2c0"/>
<rect x="270.00" y="128.40" width="2.00" height="12.20" fill="#f9d5ae"/>
<rect x="272.00" y="128.40" width="88.00" height="12.20" fill="#f9e7cb"/>
<rect x="360.00" y="128.40" width="1.00" height="12.20" fill="#fbb78f"/>
<rect x="361.00" y="128.40" width="1.00" height="12.20" fill="#fac098"/>
<rect x="362.00" y="128.40" width="2.00" height="12.20" fill="#facca5"/>
<rect x="364.00" y="128.40" width="2.00" height="12.20" fill="#fad0a9"/>
<rect x="366.00" y="128.40" width="1.00" height="12.20" fill="#facea7"/>
<rect x="367.00" y="128.40" width="2.00" height="12.20" fill="#facda6"/>
<rect x="369.00" y="128.40" width="1.00" height="12.20" fill="#facba3"/>
<rect x="370.00" y="128.40" width="2.00" height="12.20" fill="#facca4"/>
<rect x="372.00" y="128.40" width="2.00" height="12.20" fill="#facba4"/>
<rect x="374.00" y="128.40" width="3.00" height="12.20" fill="#fbb992"/>
<rect x="377.00" y="128.40" width="3.00" height="12.20" fill="#fac099"/>
<rect x="380.00" y="128.40" width="3.00" height="12.20" fill="#facaa3"/>
<rect x="383.00" y="128.40" width="2.00" height="12.20" fill="#facea7"/>
<rect x="385.00" y="128.40" width="1.00" height="12.20" fill="#f9e7cb"/>
<rect x="386.00" y="128.40" width="2.00" height="12.20" fill="#fb9f79"/>
<rect x="388.00" y="128.40" width="1.00" height="12.20" fill="#fb9b76"/>
<rect x="389.00" y="128.40" width="1.00" height="12.20" fill="#fb906d"/>
<rect x="390.00" y="128.40" width="2.00" height="12.20" fill="#fb9e79"/>
<rect x="392.00" y="128.40" width="1.00" height="12.20" fill="#fb9d78"/>
<rect x="393.00" y="128.40" width="3.00" height="12.20" fill="#f9e7cb"/>
<rect x="396.00" y="128.40" width="1.00" height="12.20" fill="#f9e7cc"/>
<rect x="397.00" y="128.40" width="3.00" height="12.20" fill="#f9dfb8"/>
<rect x="400.00" y="128.40" width="2.00" height="12.20" fill="#f9e5c6"/>
<rect x="402.00" y="128.40" width="3.00" height="12.20" fill="#f9e0ba"/>
<rect x="405.00" y="128.40" width="3.00" height="12.20" fill="#f7ead8"/>
<rect x="408.00" y="128.40" width="1.00" height="12.20" fill="#facfa8"/>
<rect x="409.00" y="128.40" width="2.00" height="12.20" fill="#f9e7cb"/>
<rect x="411.00" y="128.40" width="1.00" height="12.20" fill="#f9e3c2"/>
<rect x="412.00" y="128.40" width="1.00" height="12.20" fill="#f9dcb5"/>
<rect x="413.00" y="128.40" width="1.00" height="12.20" fill="#f8e9d5"/>
<rect x="414.00" y="128.40" width="4.00" height="12.20" fill="#fb7c5c"/>
<rect x="418.00" y="128.40" width="3.00" height="12.20" fill="#f9e5c6"/>
<rect x="421.00" y="128.40" width="3.00" height="12.20" fill="#facda6"/>
<rect x="424.00" y="128.40" width="2.00" height="12.20" fill="#f9e6c9"/>
<rect x="426.00" y="128.40" width="3.00" height="12.20" fill="#f8e8d1"/>
<rect x="429.00" y="128.40" width="2.00" height="12.20" fill="#f9e7cb"/>
<rect x="431.00" y="128.40" width="2.00" height="12.20" fill="#fac8a0"/>
<rect x="433.00" y="128.40" width="3.00" height="12.20" fill="#f8e9d5"/>
<rect x="436.00" y="128.40" width="1.00" height="12.20" fill="#f8e8ce"/>
<rect x="437.00" y="128.40" width="3.00" height="12.20" fill="#fb8c6a"/>
<rect x="440.00" y="128.40" width="3.00" height="12.20" fill="#fac79f"/>
<rect x="443.00" y="128.40" width="3.00" height="12.20" fill="#fb9873"/>
<rect x="446.00" y="128.40" width="2.00" height="12.20" fill="#f9e7cb"/>
<rect x="448.00" y="128.40" width="1.00" height="12.20" fill="#f7ead6"/>
<rect x="449.00" y="128.40" width="2.00" height="12.20" fill="#f9dfb9"/>
<rect x="451.00" y="128.40" width="3.00" height="12.20" fill="#f9e7cb"/>
<rect x="454.00" y="128.40" width="2.00" height="12.20" fill="#f7ead8"/>
<rect x="456.00" y="128.40" width="18.00" height="12.20" fill="#f9e7cb"/>
<rect x="474.00" y="128.40" width="2.00" height="12.20" fill="#fb8160"/>
<rect x="476.00" y="128.40" width="46.00" height="12.20" fill="#f9e7cb"/>
<rect x="522.00" y="128.40" width="1.00" height="12.20" fill="#f9d8b0"/>
<rect x="523.00" y="128.40" width="1.00" height="12.20" fill="#facfa8"/>
<rect x="524.00" y="128.40" width="1.00" height="12.20" fill="#fac39c"/>
<rect x="525.00" y="128.40" width="1.00" height="12.20" fill="#fac49c"/>
<rect x="526.00" y="128.40" width="3.00" height="12.20" fill="#f9dbb4"/>
<rect x="529.00" y="128.40" width="1.00" height="12.20" fill="#fac29a"/>
<rect x="530.00" y="128.40" width="2.00" height="12.20" fill="#fbad85"/>
<rect x="532.00" y="128.40" width="3.00" height="12.20" fill="#f9dfb9"/>
<rect x="535.00" y="128.40" width="2.00" height="12.20" fill="#fac098"/>
<rect x="537.00" y="128.40" width="1.00" height="12.20" fill="#facba3"/>
<rect x="538.00" y="128.40" width="4.00" height="12.20" fill="#f9e7cb"/>
<rect x="542.00" y="128.40" width="1.00" height="12.20" fill="#f9dfb8"/>
<rect x="543.00" y="128.40" width="3.00" height="12.20" fill="#fba37d"/>
<rect x="546.00" y="128.40" width="2.00" height="12.20" fill="#f9e7cb"/>
<rect x="548.00" y="128.40" width="1.00" height="12.20" fill="#f9e0bb"/>
<rect x="549.00" y="128.40" width="3.00" height="12.20" fill="#f9e7cb"/>
<rect x="552.00" y="128.40" width="1.00" height="12.20" fill="#f6ecde"/>
<rect x="553.00" y="128.40" width="2.00" height="12.20" fill="#f8e9d2"/>
<rect x="555.00" y="128.40" width="6.00" height="12.20" fill="#f9e7cb"/>
<rect x="561.00" y="128.40" width="2.00" height="12.20" fill="#f9e1be"/>
<rect x="563.00" y="128.40" width="1.00" height="12.20" fill="#fb9d78"/>
<rect x="564.00" y="128.40" width="3.00" height="12.20" fill="#fbae86"/>
<rect x="567.00" y="128.40" width="1.00" height="12.20" fill="#fb9873"/>
<rect x="568.00" y="128.40" width="1.00" height="12.20" fill="#fb9470"/>
<rect x="569.00" y="128.40" width="2.00" height="12.20" fill="#fb8e6b"/>
<rect x="571.00" y="128.40" width="2.00" height="12.20" fill="#fb906d"/>
<rect x="573.00" y="128.40" width="3.00" height="12.20" fill="#f7ead6"/>
<rect x="576.00" y="128.40" width="1.00" height="12.20" fill="#f8e9d2"/>
<rect x="577.00" y="128.40" width="1.00" height="12.20" fill="#f8e9d4"/>
<rect x="578.00" y="128.40" width="4.00" height="12.20" fill="#f9e7cb"/>
<rect x="582.00" y="128.40" width="1.00" height="12.20" fill="#f9e8ce"/>
<rect x="583.00" y="128.40" width="3.00" height="12.20" fill="#f8e9d4"/>
<rect x="586.00" y="128.40" width="3.00" height="12.20" fill="#f9e5c7"/>
<rect x="589.00" y="128.40" width="2.00" height="12.20" fill="#f9e7cb"/>
<rect x="591.00" y="128.40" width="2.00" height="12.20" fill="#fba37d"/>
<rect x="593.00" y="128.40" width="1.00" height="12.20" fill="#f9e7cd"/>
<rect x="594.00" y="128.40" width="3.00" height="12.20" fill="#f9e7cb"/>
<rect x="71.00" y="36.00" width="1.00" height="7.00" fill="#dabf31"/>
<rect x="72.00" y="36.00" width="2.00" height="7.00" fill="#f04490"/>
<rect x="74.00" y="36.00" width="2.00" height="7.00" fill="#ea4496"/>
<rect x="76.00" y="36.00" width="2.00" height="7.00" fill="#b03fb3"/>
<rect x="78.00" y="36.00" width="1.00" height="7.00" fill="#dfbc30"/>
<rect x="79.00" y="36.00" width="1.50" height="7.00" fill="#be40ae"/>
<rect x="80.50" y="36.00" width="1.50" height="7.00" fill="#f04490"/>
<rect x="82.00" y="36.00" width="2.00" height="7.00" fill="#b03fb3"/>
<rect x="84.00" y="36.00" width="1.00" height="7.00" fill="#fa4585"/>
<rect x="85.00" y="36.00" width="1.00" height="7.00" fill="#cc40aa"/>
<rect x="86.00" y="36.00" width="2.50" height="7.00" fill="#f5458b"/>
<rect x="88.50" y="36.00" width="1.50" height="7.00" fill="#f04490"/>
<rect x="90.00" y="36.00" width="1.50" height="7.00" fill="#c540ac"/>
<rect x="91.50" y="36.00" width="2.00" height="7.00" fill="#f97c45"/>
<rect x="93.50" y="36.00" width="2.00" height="7.00" fill="#f97c45"/>
<rect x="95.50" y="36.00" width="3.00" height="7.00" fill="#f5458b"/>
<rect x="98.50" y="36.00" width="2.50" height="7.00" fill="#a93fb2"/>
<rect x="101.00" y="36.00" width="1.50" height="7.00" fill="#e7ac30"/>
<rect x="102.50" y="36.00" width="3.00" height="7.00" fill="#e7ac30"/>
<rect x="105.50" y="36.00" width="2.50" height="7.00" fill="#f9487c"/>
<rect x="108.00" y="36.00" width="1.50" height="7.00" fill="#dabf31"/>
<rect x="109.50" y="36.00" width="3.00" height="7.00" fill="#b73fb1"/>
<rect x="112.50" y="36.00" width="3.00" height="7.00" fill="#dfbc30"/>
<rect x="115.50" y="36.00" width="1.50" height="7.00" fill="#b73fb1"/>
<rect x="117.00" y="36.00" width="2.50" height="7.00" fill="#f9487c"/>
<rect x="119.50" y="36.00" width="2.00" height="7.00" fill="#ea4496"/>
<rect x="121.50" y="36.00" width="3.00" height="7.00" fill="#8d3fae"/>
<rect x="124.50" y="36.00" width="1.00" height="7.00" fill="#a93fb2"/>
<rect x="125.50" y="36.00" width="3.00" height="7.00" fill="#dfbc30"/>
<rect x="128.50" y="36.00" width="2.00" height="7.00" fill="#f9487c"/>
<rect x="130.50" y="36.00" width="1.50" height="7.00" fill="#f88934"/>
<rect x="132.00" y="36.00" width="1.00" height="7.00" fill="#cc40aa"/>
<rect x="133.00" y="36.00" width="1.50" height="7.00" fill="#9b3fb0"/>
<rect x="134.50" y="36.00" width="2.00" height="7.00" fill="#e3b430"/>
<rect x="136.50" y="36.00" width="1.00" height="7.00" fill="#bdd542"/>
<rect x="137.50" y="36.00" width="2.00" height="7.00" fill="#dabf31"/>
<rect x="139.50" y="36.00" width="1.50" height="7.00" fill="#d6c232"/>
<rect x="141.00" y="36.00" width="3.00" height="7.00" fill="#fa4781"/>
<rect x="144.00" y="36.00" width="3.00" height="7.00" fill="#ace356"/>
<rect x="147.00" y="36.00" width="1.50" height="7.00" fill="#8d3fae"/>
<rect x="148.50" y="36.00" width="1.50" height="7.00" fill="#e7ac30"/>
<rect x="150.00" y="36.00" width="2.50" height="7.00" fill="#eca430"/>
<rect x="152.50" y="36.00" width="1.00" height="7.00" fill="#dfbc30"/>
<rect x="153.50" y="36.00" width="1.00" height="7.00" fill="#8d3fae"/>
<rect x="154.50" y="36.00" width="3.00" height="7.00" fill="#eca430"/>
<rect x="157.50" y="36.00" width="1.00" height="7.00" fill="#eca430"/>
<rect x="158.50" y="36.00" width="1.00" height="7.00" fill="#eca430"/>
<rect x="159.50" y="36.00" width="1.00" height="7.00" fill="#f88934"/>
<rect x="160.50" y="36.00" width="1.50" height="7.00" fill="#e5449c"/>
<rect x="162.00" y="36.00" width="1.00" height="7.00" fill="#eca430"/>
<rect x="163.00" y="36.00" width="2.50" height="7.00" fill="#eca430"/>
<rect x="165.50" y="36.00" width="1.00" height="7.00" fill="#eca430"/>
<rect x="166.50" y="36.00" width="2.50" height="7.00" fill="#dabf31"/>
<rect x="169.00" y="36.00" width="2.50" height="7.00" fill="#ea4496"/>
<rect x="171.50" y="36.00" width="1.00" height="7.00" fill="#f97c45"/>
<rect x="172.50" y="36.00" width="1.00" height="7.00" fill="#e3b430"/>
<rect x="173.50" y="36.00" width="3.00" height="7.00" fill="#dabf31"/>
<rect x="176.50" y="36.00" width="2.00" height="7.00" fill="#dfbc30"/>
<rect x="178.50" y="36.00" width="3.00" height="7.00" fill="#e3b430"/>
<rect x="181.50" y="36.00" width="2.00" height="7.00" fill="#b73fb1"/>
<rect x="183.50" y="36.00" width="1.00" height="7.00" fill="#cc40aa"/>
<rect x="184.50" y="36.00" width="2.50" height="7.00" fill="#e7ac30"/>
<rect x="187.00" y="36.00" width="1.00" height="7.00" fill="#ea4496"/>
<rect x="188.00" y="36.00" width="1.00" height="7.00" fill="#a93fb2"/>
<rect x="189.00" y="36.00" width="1.50" height="7.00" fill="#dfbc30"/>
<rect x="190.50" y="36.00" width="1.50" height="7.00" fill="#c540ac"/>
<rect x="192.00" y="36.00" width="3.00" height="7.00" fill="#cc40aa"/>
<rect x="195.00" y="36.00" width="2.00" height="7.00" fill="#b03fb3"/>
<rect x="197.00" y="36.00" width="2.50" height="7.00" fill="#cc40aa"/>
<rect x="199.50" y="36.00" width="2.00" height="7.00" fill="#e3b430"/>
<rect x="201.50" y="36.00" width="2.50" height="7.00" fill="#dfbc30"/>
<rect x="204.00" y="36.00" width="2.00" height="7.00" fill="#f88934"/>
<rect x="206.00" y="36.00" width="2.00" height="7.00" fill="#f85569"/>
<rect x="208.00" y="36.00" width="1.50" height="7.00" fill="#f5458b"/>
<rect x="209.50" y="36.00" width="1.00" height="7.00" fill="#8d3fae"/>
<rect x="210.50" y="36.00" width="1.00" height="7.00" fill="#f85569"/>
<rect x="211.50" y="36.00" width="2.00" height="7.00" fill="#eca430"/>
<rect x="213.50" y="36.00" width="1.00" height="7.00" fill="#7f3fac"/>
<rect x="214.50" y="36.00" width="1.00" height="7.00" fill="#b03fb3"/>
<rect x="215.50" y="36.00" width="2.00" height="7.00" fill="#e3b430"/>
<rect x="217.50" y="36.00" width="2.00" height="7.00" fill="#f97f41"/>
<rect x="219.50" y="36.00" width="1.00" height="7.00" fill="#e7ac30"/>
<rect x="220.50" y="36.00" width="2.00" height="7.00" fill="#f9487c"/>
<rect x="222.50" y="36.00" width="2.50" height="7.00" fill="#f88638"/>
<rect x="225.00" y="36.00" width="1.00" height="7.00" fill="#8d3fae"/>
<rect x="226.00" y="36.00" width="3.00" height="7.00" fill="#f97f41"/>
<rect x="229.00" y="36.00" width="1.50" height="7.00" fill="#eca430"/>
<rect x="230.50" y="36.00" width="1.00" height="7.00" fill="#7f3fac"/>
<rect x="231.50" y="36.00" width="1.00" height="7.00" fill="#dfbc30"/>
<rect x="232.50" y="36.00" width="2.50" height="7.00" fill="#eca430"/>
<rect x="235.00" y="36.00" width="1.00" height="7.00" fill="#be40ae"/>
<rect x="236.00" y="36.00" width="2.00" height="7.00" fill="#f85569"/>
<rect x="238.00" y="36.00" width="1.00" height="7.00" fill="#f9823d"/>
<rect x="239.00" y="36.00" width="2.50" height="7.00" fill="#b03fb3"/>
<rect x="241.50" y="36.00" width="1.50" height="7.00" fill="#f9487c"/>
<rect x="243.00" y="36.00" width="2.00" height="7.00" fill="#8d3fae"/>
<rect x="245.00" y="36.00" width="2.00" height="7.00" fill="#fa4585"/>
<rect x="247.00" y="36.00" width="3.00" height="7.00" fill="#f9487c"/>
<rect x="250.00" y="36.00" width="3.00" height="7.00" fill="#863fad"/>
<rect x="253.00" y="36.00" width="3.00" height="7.00" fill="#eca430"/>
<rect x="256.00" y="36.00" width="1.50" height="7.00" fill="#e7ac30"/>
<rect x="257.50" y="36.00" width="1.00" height="7.00" fill="#dabf31"/>
<rect x="258.50" y="36.00" width="2.00" height="7.00" fill="#dabf31"/>
<rect x="260.50" y="36.00" width="2.00" height="7.00" fill="#e7ac30"/>
<rect x="262.50" y="36.00" width="3.00" height="7.00" fill="#b73fb1"/>
<rect x="265.50" y="36.00" width="1.00" height="7.00" fill="#943faf"/>
<rect x="266.50" y="36.00" width="1.00" height="7.00" fill="#e7ac30"/>
<rect x="267.50" y="36.00" width="1.50" height="7.00" fill="#f9487c"/>
<rect x="269.00" y="36.00" width="1.00" height="7.00" fill="#eca430"/>
<rect x="270.00" y="36.00" width="1.00" height="7.00" fill="#b03fb3"/>
<rect x="271.00" y="36.00" width="2.00" height="7.00" fill="#e5449c"/>
<rect x="273.00" y="36.00" width="3.00" height="7.00" fill="#dfbc30"/>
<rect x="276.00" y="36.00" width="1.00" height="7.00" fill="#dfbc30"/>
<rect x="277.00" y="36.00" width="1.50" height="7.00" fill="#dabf31"/>
<rect x="278.50" y="36.00" width="2.00" height="7.00" fill="#eca430"/>
<rect x="280.50" y="36.00" width="1.00" height="7.00" fill="#dabf31"/>
<rect x="281.50" y="36.00" width="1.00" height="7.00" fill="#f97c45"/>
<rect x="282.50" y="36.00" width="2.50" height="7.00" fill="#e3b430"/>
<rect x="285.00" y="36.00" width="1.00" height="7.00" fill="#a93fb2"/>
<rect x="286.00" y="36.00" width="2.00" height="7.00" fill="#d1c633"/>
<rect x="288.00" y="36.00" width="2.00" height="7.00" fill="#e7ac30"/>
<rect x="290.00" y="36.00" width="2.50" height="7.00" fill="#f88934"/>
<rect x="292.50" y="36.00" width="2.00" height="7.00" fill="#d1c633"/>
<rect x="294.50" y="36.00" width="1.50" height="7.00" fill="#bdd542"/>
<rect x="296.00" y="36.00" width="1.50" height="7.00" fill="#dabf31"/>
<rect x="297.50" y="36.00" width="2.50" height="7.00" fill="#e7ac30"/>
<rect x="300.00" y="36.00" width="1.00" height="7.00" fill="#eca430"/>
<rect x="301.00" y="36.00" width="1.00" height="7.00" fill="#eca430"/>
<rect x="302.00" y="36.00" width="2.00" height="7.00" fill="#8d3fae"/>
<rect x="304.00" y="36.00" width="1.50" height="7.00" fill="#eca430"/>
<rect x="305.50" y="36.00" width="2.50" height="7.00" fill="#e3b430"/>
<rect x="308.00" y="36.00" width="2.00" height="7.00" fill="#dfbc30"/>
<rect x="310.00" y="36.00" width="3.00" height="7.00" fill="#8d3fae"/>
<rect x="313.00" y="36.00" width="2.00" height="7.00" fill="#dabf31"/>
<rect x="315.00" y="36.00" width="2.00" height="7.00" fill="#e7ac30"/>
<rect x="317.00" y="36.00" width="2.00" height="7.00" fill="#943faf"/>
<rect x="319.00" y="36.00" width="3.00" height="7.00" fill="#eca430"/>
<rect x="322.00" y="36.00" width="1.00" height="7.00" fill="#f9823d"/>
<rect x="323.00" y="36.00" width="2.50" height="7.00" fill="#f88638"/>
<rect x="325.50" y="36.00" width="1.00" height="7.00" fill="#bdd542"/>
<rect x="326.50" y="36.00" width="1.00" height="7.00" fill="#bdd542"/>
<rect x="327.50" y="36.00" width="2.50" height="7.00" fill="#dabf31"/>
<rect x="330.00" y="36.00" width="1.50" height="7.00" fill="#f5458b"/>
<rect x="331.50" y="36.00" width="2.00" height="7.00" fill="#f5458b"/>
<rect x="333.50" y="36.00" width="2.00" height="7.00" fill="#dfbc30"/>
<rect x="335.50" y="36.00" width="2.00" height="7.00" fill="#f88934"/>
<rect x="337.50" y="36.00" width="2.00" height="7.00" fill="#dfbc30"/>
<rect x="339.50" y="36.00" width="1.50" height="7.00" fill="#f5458b"/>
<rect x="341.00" y="36.00" width="2.00" height="7.00" fill="#e3b430"/>
<rect x="343.00" y="36.00" width="1.00" height="7.00" fill="#f88934"/>
<rect x="344.00" y="36.00" width="2.50" height="7.00" fill="#dabf31"/>
<rect x="346.50" y="36.00" width="3.00" height="7.00" fill="#dfbc30"/>
<rect x="349.50" y="36.00" width="3.00" height="7.00" fill="#fa4585"/>
<rect x="352.50" y="36.00" width="2.00" height="7.00" fill="#f97f41"/>
<rect x="354.50" y="36.00" width="1.00" height="7.00" fill="#dabf31"/>
<rect x="355.50" y="36.00" width="1.50" height="7.00" fill="#f88934"/>
<rect x="357.00" y="36.00" width="1.00" height="7.00" fill="#ea4496"/>
<rect x="358.00" y="36.00" width="2.50" height="7.00" fill="#dfbc30"/>
<rect x="360.50" y="36.00" width="1.00" height="7.00" fill="#f9487c"/>
<rect x="361.50" y="36.00" width="3.00" height="7.00" fill="#a93fb2"/>
<rect x="364.50" y="36.00" width="1.50" height="7.00" fill="#f88638"/>
<rect x="366.00" y="36.00" width="1.00" height="7.00" fill="#f9823d"/>
<rect x="367.00" y="36.00" width="2.00" height="7.00" fill="#e3b430"/>
<rect x="369.00" y="36.00" width="2.50" height="7.00" fill="#fa4585"/>
<rect x="371.50" y="36.00" width="1.50" height="7.00" fill="#f97c45"/>
<rect x="373.00" y="36.00" width="1.50" height="7.00" fill="#d6c232"/>
<rect x="374.50" y="36.00" width="2.50" height="7.00" fill="#d1c633"/>
<rect x="377.00" y="36.00" width="2.00" height="7.00" fill="#dabf31"/>
<rect x="379.00" y="36.00" width="3.00" height="7.00" fill="#e5449c"/>
<rect x="382.00" y="36.00" width="2.50" height="7.00" fill="#943faf"/>
<rect x="384.50" y="36.00" width="2.00" height="7.00" fill="#c540ac"/>
<rect x="386.50" y="36.00" width="1.50" height="7.00" fill="#f9487c"/>
<rect x="388.00" y="36.00" width="2.00" height="7.00" fill="#fa4585"/>
<rect x="390.00" y="36.00" width="1.00" height="7.00" fill="#8d3fae"/>
<rect x="391.00" y="36.00" width="1.00" height="7.00" fill="#b73fb1"/>
<rect x="392.00" y="36.00" width="2.50" height="7.00" fill="#f04490"/>
<rect x="394.50" y="36.00" width="1.50" height="7.00" fill="#f9487c"/>
<rect x="396.00" y="36.00" width="2.00" height="7.00" fill="#a23fb1"/>
<rect x="398.00" y="36.00" width="2.00" height="7.00" fill="#b03fb3"/>
<rect x="400.00" y="36.00" width="1.00" height="7.00" fill="#b73fb1"/>
<rect x="401.00" y="36.00" width="2.00" height="7.00" fill="#a93fb2"/>
<rect x="403.00" y="36.00" width="2.50" height="7.00" fill="#b73fb1"/>
<rect x="405.50" y="36.00" width="1.00" height="7.00" fill="#b73fb1"/>
<rect x="406.50" y="36.00" width="2.00" height="7.00" fill="#c540ac"/>
<rect x="408.50" y="36.00" width="3.00" height="7.00" fill="#b03fb3"/>
<rect x="411.50" y="36.00" width="2.00" height="7.00" fill="#b03fb3"/>
<rect x="413.50" y="36.00" width="2.00" height="7.00" fill="#cc40aa"/>
<rect x="415.50" y="36.00" width="2.00" height="7.00" fill="#cc40aa"/>
<rect x="417.50" y="36.00" width="1.00" height="7.00" fill="#a93fb2"/>
<rect x="418.50" y="36.00" width="1.00" height="7.00" fill="#be40ae"/>
<rect x="419.50" y="36.00" width="2.00" height="7.00" fill="#943faf"/>
<rect x="421.50" y="36.00" width="2.50" height="7.00" fill="#a93fb2"/>
<rect x="424.00" y="36.00" width="1.00" height="7.00" fill="#be40ae"/>
<rect x="425.00" y="36.00" width="2.00" height="7.00" fill="#be40ae"/>
<rect x="427.00" y="36.00" width="2.00" height="7.00" fill="#e7ac30"/>
<rect x="429.00" y="36.00" width="1.00" height="7.00" fill="#943faf"/>
<rect x="430.00" y="36.00" width="1.00" height="7.00" fill="#7f3fac"/>
<rect x="431.00" y="36.00" width="2.50" height="7.00" fill="#ea4496"/>
<rect x="433.50" y="36.00" width="2.00" height="7.00" fill="#a23fb1"/>
<rect x="435.50" y="36.00" width="1.50" height="7.00" fill="#943faf"/>
<rect x="437.00" y="36.00" width="3.00" height="7.00" fill="#7f3fac"/>
<rect x="440.00" y="36.00" width="1.00" height="7.00" fill="#c540ac"/>
<rect x="441.00" y="36.00" width="3.00" height="7.00" fill="#f5458b"/>
<rect x="444.00" y="36.00" width="1.00" height="7.00" fill="#b03fb3"/>
<rect x="445.00" y="36.00" width="2.00" height="7.00" fill="#cc40aa"/>
<rect x="447.00" y="36.00" width="1.00" height="7.00" fill="#be40ae"/>
<rect x="448.00" y="36.00" width="3.00" height="7.00" fill="#a23fb1"/>
<rect x="451.00" y="36.00" width="2.50" height="7.00" fill="#c540ac"/>
<rect x="453.50" y="36.00" width="1.00" height="7.00" fill="#a93fb2"/>
<rect x="454.50" y="36.00" width="3.00" height="7.00" fill="#b73fb1"/>
<rect x="457.50" y="36.00" width="1.50" height="7.00" fill="#7f3fac"/>
<rect x="459.00" y="36.00" width="1.00" height="7.00" fill="#b73fb1"/>
<rect x="460.00" y="36.00" width="2.00" height="7.00" fill="#8d3fae"/>
<rect x="462.00" y="36.00" width="2.00" height="7.00" fill="#8d3fae"/>
<rect x="464.00" y="36.00" width="2.00" height="7.00" fill="#943faf"/>
<rect x="466.00" y="36.00" width="2.50" height="7.00" fill="#b73fb1"/>
<rect x="468.50" y="36.00" width="1.00" height="7.00" fill="#dfbc30"/>
<rect x="469.50" y="36.00" width="3.00" height="7.00" fill="#f04490"/>
<rect x="472.50" y="36.00" width="1.00" height="7.00" fill="#b03fb3"/>
<rect x="473.50" y="36.00" width="2.00" height="7.00" fill="#f5458b"/>
<rect x="475.50" y="36.00" width="2.50" height="7.00" fill="#9b3fb0"/>
<rect x="478.00" y="36.00" width="1.00" height="7.00" fill="#8d3fae"/>
<rect x="479.00" y="36.00" width="1.00" height="7.00" fill="#a23fb1"/>
<rect x="480.00" y="36.00" width="2.00" height="7.00" fill="#fa4781"/>
<rect x="482.00" y="36.00" width="1.50" height="7.00" fill="#a93fb2"/>
<rect x="483.50" y="36.00" width="2.00" height="7.00" fill="#f85a62"/>
<rect x="485.50" y="36.00" width="1.00" height="7.00" fill="#943faf"/>
<rect x="486.50" y="36.00" width="1.50" height="7.00" fill="#b03fb3"/>
<rect x="488.00" y="36.00" width="3.00" height="7.00" fill="#f8615c"/>
<rect x="491.00" y="36.00" width="2.00" height="7.00" fill="#f8615c"/>
<rect x="493.00" y="36.00" width="1.00" height="7.00" fill="#eca430"/>
<rect x="494.00" y="36.00" width="1.00" height="7.00" fill="#a23fb1"/>
<rect x="495.00" y="36.00" width="1.00" height="7.00" fill="#a93fb2"/>
<rect x="496.00" y="36.00" width="3.00" height="7.00" fill="#ea4496"/>
<rect x="499.00" y="36.00" width="1.00" height="7.00" fill="#f85569"/>
<rect x="500.00" y="36.00" width="2.00" height="7.00" fill="#cc40aa"/>
<rect x="502.00" y="36.00" width="2.50" height="7.00" fill="#f97f41"/>
<rect x="504.50" y="36.00" width="2.00" height="7.00" fill="#e7ac30"/>
<rect x="506.50" y="36.00" width="3.00" height="7.00" fill="#f85569"/>
<rect x="509.50" y="36.00" width="2.00" height="7.00" fill="#a93fb2"/>
<rect x="511.50" y="36.00" width="1.00" height="7.00" fill="#f97c45"/>
<rect x="512.50" y="36.00" width="2.00" height="7.00" fill="#b73fb1"/>
<rect x="514.50" y="36.00" width="2.50" height="7.00" fill="#dfbc30"/>
<rect x="517.00" y="36.00" width="1.00" height="7.00" fill="#e7ac30"/>
<rect x="518.00" y="36.00" width="1.00" height="7.00" fill="#be40ae"/>
<rect x="519.00" y="36.00" width="1.50" height="7.00" fill="#f88934"/>
<rect x="520.50" y="36.00" width="3.00" height="7.00" fill="#9b3fb0"/>
<rect x="523.50" y="36.00" width="2.50" height="7.00" fill="#b73fb1"/>
<rect x="526.00" y="36.00" width="1.50" height="7.00" fill="#ea4496"/>
<rect x="527.50" y="36.00" width="1.00" height="7.00" fill="#f85569"/>
<rect x="528.50" y="36.00" width="2.00" height="7.00" fill="#f85a62"/>
<rect x="530.50" y="36.00" width="2.00" height="7.00" fill="#b73fb1"/>
<rect x="532.50" y="36.00" width="1.00" height="7.00" fill="#fa4781"/>
<rect x="533.50" y="36.00" width="1.00" height="7.00" fill="#b03fb3"/>
<rect x="534.50" y="36.00" width="2.50" height="7.00" fill="#b73fb1"/>
<rect x="537.00" y="36.00" width="2.50" height="7.00" fill="#7f3fac"/>
<rect x="539.50" y="36.00" width="3.00" height="7.00" fill="#a23fb1"/>
<rect x="542.50" y="36.00" width="1.00" height="7.00" fill="#f94f71"/>
<rect x="543.50" y="36.00" width="1.50" height="7.00" fill="#7f3fac"/>
<rect x="545.00" y="36.00" width="3.00" height="7.00" fill="#f97c45"/>
<rect x="548.00" y="36.00" width="1.00" height="7.00" fill="#8d3fae"/>
<rect x="549.00" y="36.00" width="2.00" height="7.00" fill="#f9487c"/>
<rect x="551.00" y="36.00" width="1.00" height="7.00" fill="#be40ae"/>
<rect x="552.00" y="36.00" width="1.50" height="7.00" fill="#f97f41"/>
<rect x="553.50" y="36.00" width="2.00" height="7.00" fill="#f94f71"/>
<rect x="555.50" y="36.00" width="2.00" height="7.00" fill="#e5449c"/>
<rect x="557.50" y="36.00" width="1.50" height="7.00" fill="#b03fb3"/>
<rect x="559.00" y="36.00" width="2.50" height="7.00" fill="#863fad"/>
<rect x="561.50" y="36.00" width="1.50" height="7.00" fill="#943faf"/>
<rect x="563.00" y="36.00" width="1.00" height="7.00" fill="#8d3fae"/>
<rect x="564.00" y="36.00" width="1.00" height="7.00" fill="#8d3fae"/>
<rect x="565.00" y="36.00" width="3.00" height="7.00" fill="#9b3fb0"/>
<rect x="568.00" y="36.00" width="2.00" height="7.00" fill="#9b3fb0"/>
<rect x="570.00" y="36.00" width="1.00" height="7.00" fill="#c540ac"/>
<rect x="571.00" y="36.00" width="2.00" height="7.00" fill="#7f3fac"/>
<rect x="573.00" y="36.00" width="1.00" height="7.00" fill="#7f3fac"/>
<rect x="574.00" y="36.00" width="2.00" height="7.00" fill="#863fad"/>
<rect x="576.00" y="36.00" width="2.00" height="7.00" fill="#8d3fae"/>
<rect x="578.00" y="36.00" width="1.00" height="7.00" fill="#a23fb1"/>
<rect x="579.00" y="36.00" width="2.50" height="7.00" fill="#863fad"/>
<rect x="581.50" y="36.00" width="2.50" height="7.00" fill="#e3b430"/>
<rect x="584.00" y="36.00" width="1.00" height="7.00" fill="#be40ae"/>
<rect x="585.00" y="36.00" width="1.50" height="7.00" fill="#7f3fac"/>
<rect x="586.50" y="36.00" width="1.00" height="7.00" fill="#a93fb2"/>
<rect x="587.50" y="36.00" width="1.00" height="7.00" fill="#9b3fb0"/>
<rect x="588.50" y="36.00" width="2.00" height="7.00" fill="#943faf"/>
<rect x="590.50" y="36.00" width="1.00" height="7.00" fill="#c540ac"/>
<rect x="591.50" y="36.00" width="1.00" height="7.00" fill="#b73fb1"/>
<rect x="592.50" y="36.00" width="1.00" height="7.00" fill="#c540ac"/>
<rect x="593.50" y="36.00" width="1.00" height="7.00" fill="#ea4496"/>
<rect x="594.50" y="36.00" width="2.50" height="7.00" fill="#fa4585"/>
<text x="603.80" y="5.30" font-size="5.1" text-anchor="start" font-weight="bold" fill="#000">Representative functions of MS</text>
<path d="M617.3 11.90 H620.3 M623.6 9.30 H620.3 V14.50 H623.6" stroke="#e4a46c" stroke-width="0.8" fill="none"/>
<text x="627.00" y="13.50" font-size="4.6" text-anchor="start" fill="#333">MS 1</text>
<path d="M617.3 20.30 H620.3 M623.6 17.70 H620.3 V22.90 H623.6" stroke="#e58a34" stroke-width="0.8" fill="none"/>
<text x="627.00" y="21.90" font-size="4.6" text-anchor="start" fill="#333">MS 2</text>
<path d="M617.3 28.70 H620.3 M623.6 26.10 H620.3 V31.30 H623.6" stroke="#e9c9ab" stroke-width="0.8" fill="none"/>
<text x="627.00" y="30.30" font-size="4.6" text-anchor="start" fill="#333">MS 3</text>
<path d="M617.3 37.10 H620.3 M623.6 34.50 H620.3 V39.70 H623.6" stroke="#f2bb8a" stroke-width="0.8" fill="none"/>
<text x="627.00" y="38.70" font-size="4.6" text-anchor="start" fill="#333">MS 4</text>
<path d="M617.3 45.50 H620.3 M623.6 42.90 H620.3 V48.10 H623.6" stroke="#e6e6ea" stroke-width="0.8" fill="none"/>
<text x="627.00" y="47.10" font-size="4.6" text-anchor="start" fill="#333">MS 5</text>
<path d="M617.3 53.90 H620.3 M623.6 51.30 H620.3 V56.50 H623.6" stroke="#c9d2f2" stroke-width="0.8" fill="none"/>
<text x="627.00" y="55.50" font-size="4.6" text-anchor="start" fill="#333">MS 6</text>
<path d="M617.3 62.30 H620.3 M623.6 59.70 H620.3 V64.90 H623.6" stroke="#c2c8e6" stroke-width="0.8" fill="none"/>
<text x="627.00" y="63.90" font-size="4.6" text-anchor="start" fill="#333">MS 7</text>
<path d="M617.3 70.70 H620.3 M623.6 68.10 H620.3 V73.30 H623.6" stroke="#5c80e0" stroke-width="0.8" fill="none"/>
<text x="627.00" y="72.30" font-size="4.6" text-anchor="start" fill="#333">MS 8</text>
<text x="608.00" y="90.50" font-size="5.3" text-anchor="start" font-weight="bold" fill="#000">Distribution</text>
<defs><linearGradient id="ga" x1="0" y1="1" x2="0" y2="0"><stop offset="0" stop-color="#f2f0ee"/><stop offset="0.2" stop-color="#f6ecdf"/><stop offset="0.45" stop-color="#fae0b5"/><stop offset="0.7" stop-color="#fbae86"/><stop offset="0.88" stop-color="#fc7a5a"/><stop offset="1" stop-color="#fe6246"/></linearGradient></defs>
<rect x="617.80" y="93.50" width="7.20" height="47.10" fill="url(#ga)"/>
<line x1="623.90" y1="100.00" x2="626.00" y2="100.00" stroke="#222" stroke-width="0.6"/>
<text x="628.80" y="101.70" font-size="4.8" text-anchor="start" font-weight="bold" fill="#000">2</text>
<line x1="623.90" y1="110.00" x2="626.00" y2="110.00" stroke="#222" stroke-width="0.6"/>
<text x="628.80" y="111.70" font-size="4.8" text-anchor="start" font-weight="bold" fill="#000">1</text>
<line x1="623.90" y1="119.80" x2="626.00" y2="119.80" stroke="#222" stroke-width="0.6"/>
<text x="628.80" y="121.50" font-size="4.8" text-anchor="start" font-weight="bold" fill="#000">0</text>
<line x1="623.90" y1="129.40" x2="626.00" y2="129.40" stroke="#222" stroke-width="0.6"/>
<text x="628.80" y="131.10" font-size="4.8" text-anchor="start" font-weight="bold" fill="#000">-1</text>
<line x1="623.90" y1="139.00" x2="626.00" y2="139.00" stroke="#222" stroke-width="0.6"/>
<text x="628.80" y="140.70" font-size="4.8" text-anchor="start" font-weight="bold" fill="#000">-2</text>
<text x="60.70" y="151.60" font-size="4.9" text-anchor="start" font-weight="bold" fill="#000">Module Category</text>
<rect x="72.90" y="154.00" width="8.00" height="7.90" fill="#6a3fa9"/>
<text x="83.10" y="159.70" font-size="4.8" text-anchor="start" fill="#111">Ribosome</text>
<rect x="72.90" y="163.05" width="8.00" height="7.90" fill="#713faa"/>
<text x="83.10" y="168.75" font-size="4.8" text-anchor="start" fill="#111">Mineral and organic ion transport system</text>
<rect x="72.90" y="172.10" width="8.00" height="7.90" fill="#783fab"/>
<text x="83.10" y="177.80" font-size="4.8" text-anchor="start" fill="#111">Bacterial secretion system</text>
<rect x="72.90" y="181.15" width="8.00" height="7.90" fill="#7f3fac"/>
<text x="83.10" y="186.85" font-size="4.8" text-anchor="start" fill="#111">RNA processing</text>
<rect x="72.90" y="190.20" width="8.00" height="7.90" fill="#863fad"/>
<text x="83.10" y="195.90" font-size="4.8" text-anchor="start" fill="#111">DNA polymerase</text>
<rect x="72.90" y="199.25" width="8.00" height="7.90" fill="#8d3fae"/>
<text x="83.10" y="204.95" font-size="4.8" text-anchor="start" fill="#111">ABC-2 type and other transport systems</text>
<rect x="72.90" y="208.30" width="8.00" height="7.90" fill="#943faf"/>
<text x="83.10" y="214.00" font-size="4.8" text-anchor="start" fill="#111">RNA polymerase</text>
<rect x="72.90" y="217.35" width="8.00" height="7.90" fill="#9b3fb0"/>
<text x="83.10" y="223.05" font-size="4.8" text-anchor="start" fill="#111">Central carbohydrate metabolism</text>
<rect x="72.90" y="226.40" width="8.00" height="7.90" fill="#a23fb1"/>
<text x="83.10" y="232.10" font-size="4.8" text-anchor="start" fill="#111">ATP synthesis</text>
<rect x="72.90" y="235.45" width="8.00" height="7.90" fill="#a93fb2"/>
<text x="83.10" y="241.15" font-size="4.8" text-anchor="start" fill="#111">Peptide and nickel transport system</text>
<rect x="72.90" y="244.50" width="8.00" height="7.90" fill="#b03fb3"/>
<text x="83.10" y="250.20" font-size="4.8" text-anchor="start" fill="#111">Purine metabolism</text>
<rect x="179.40" y="154.00" width="8.00" height="7.90" fill="#b73fb1"/>
<text x="189.60" y="159.70" font-size="4.8" text-anchor="start" fill="#111">Aminoacyl tRNA</text>
<rect x="179.40" y="163.05" width="8.00" height="7.90" fill="#be40ae"/>
<text x="189.60" y="168.75" font-size="4.8" text-anchor="start" fill="#111">Branched-chain amino acid metabolism</text>
<rect x="179.40" y="172.10" width="8.00" height="7.90" fill="#c540ac"/>
<text x="189.60" y="177.80" font-size="4.8" text-anchor="start" fill="#111">Saccharide, polyol, and lipid transport system</text>
<rect x="179.40" y="181.15" width="8.00" height="7.90" fill="#cc40aa"/>
<text x="189.60" y="186.85" font-size="4.8" text-anchor="start" fill="#111">Phosphate and amino acid transport system</text>
<rect x="179.40" y="190.20" width="8.00" height="7.90" fill="#d441a5"/>
<text x="189.60" y="195.90" font-size="4.8" text-anchor="start" fill="#111">Pyrimidine metabolism</text>
<rect x="179.40" y="199.25" width="8.00" height="7.90" fill="#dd43a1"/>
<text x="189.60" y="204.95" font-size="4.8" text-anchor="start" fill="#111">Serine and threonine metabolism</text>
<rect x="179.40" y="208.30" width="8.00" height="7.90" fill="#e5449c"/>
<text x="189.60" y="214.00" font-size="4.8" text-anchor="start" fill="#111">Metallic cation, iron-siderophore and vitamin B12 transport system</text>
<rect x="179.40" y="217.35" width="8.00" height="7.90" fill="#ea4496"/>
<text x="189.60" y="223.05" font-size="4.8" text-anchor="start" fill="#111">Arginine and proline metabolism</text>
<rect x="179.40" y="226.40" width="8.00" height="7.90" fill="#f04490"/>
<text x="189.60" y="232.10" font-size="4.8" text-anchor="start" fill="#111">Aromatic amino acid metabolism</text>
<rect x="179.40" y="235.45" width="8.00" height="7.90" fill="#f5458b"/>
<text x="189.60" y="241.15" font-size="4.8" text-anchor="start" fill="#111">Fatty acid biosynthesis and degradation</text>
<rect x="179.40" y="244.50" width="8.00" height="7.90" fill="#fa4585"/>
<text x="189.60" y="250.20" font-size="4.8" text-anchor="start" fill="#111">Aromatics degradation</text>
<rect x="344.90" y="154.00" width="8.00" height="7.90" fill="#fa4781"/>
<text x="355.10" y="159.70" font-size="4.8" text-anchor="start" fill="#111">Repair system</text>
<rect x="344.90" y="163.05" width="8.00" height="7.90" fill="#f9487c"/>
<text x="355.10" y="168.75" font-size="4.8" text-anchor="start" fill="#111">Lysine metabolism</text>
<rect x="344.90" y="172.10" width="8.00" height="7.90" fill="#f94a78"/>
<text x="355.10" y="177.80" font-size="4.8" text-anchor="start" fill="#111">Cofactor and vitamin metabolism</text>
<rect x="344.90" y="181.15" width="8.00" height="7.90" fill="#f94f71"/>
<text x="355.10" y="186.85" font-size="4.8" text-anchor="start" fill="#111">Cysteine and methionine metabolism</text>
<rect x="344.90" y="190.20" width="8.00" height="7.90" fill="#f85569"/>
<text x="355.10" y="195.90" font-size="4.8" text-anchor="start" fill="#111">Sulfur metabolism</text>
<rect x="344.90" y="199.25" width="8.00" height="7.90" fill="#f85a62"/>
<text x="355.10" y="204.95" font-size="4.8" text-anchor="start" fill="#111">Terpenoid backbone biosynthesis</text>
<rect x="344.90" y="208.30" width="8.00" height="7.90" fill="#f8615c"/>
<text x="355.10" y="214.00" font-size="4.8" text-anchor="start" fill="#111">Protein processing</text>
<rect x="344.90" y="217.35" width="8.00" height="7.90" fill="#f86856"/>
<text x="355.10" y="223.05" font-size="4.8" text-anchor="start" fill="#111">Drug efflux transporter/pump</text>
<rect x="344.90" y="226.40" width="8.00" height="7.90" fill="#f96e51"/>
<text x="355.10" y="232.10" font-size="4.8" text-anchor="start" fill="#111">Lipopolysaccharide metabolism</text>
<rect x="344.90" y="235.45" width="8.00" height="7.90" fill="#f9754b"/>
<text x="355.10" y="241.15" font-size="4.8" text-anchor="start" fill="#111">Lipid metabolism</text>
<rect x="344.90" y="244.50" width="8.00" height="7.90" fill="#f97c45"/>
<text x="355.10" y="250.20" font-size="4.8" text-anchor="start" fill="#111">Proteasome</text>
<rect x="442.20" y="154.00" width="8.00" height="7.90" fill="#f97f41"/>
<text x="452.40" y="159.70" font-size="4.8" text-anchor="start" fill="#111">Polyamine biosynthesis</text>
<rect x="442.20" y="163.05" width="8.00" height="7.90" fill="#f9823d"/>
<text x="452.40" y="168.75" font-size="4.8" text-anchor="start" fill="#111">Carbon fixation</text>
<rect x="442.20" y="172.10" width="8.00" height="7.90" fill="#f88638"/>
<text x="452.40" y="177.80" font-size="4.8" text-anchor="start" fill="#111">Other amino acid metabolism</text>
<rect x="442.20" y="181.15" width="8.00" height="7.90" fill="#f88934"/>
<text x="452.40" y="186.85" font-size="4.8" text-anchor="start" fill="#111">Polyketide sugar unit biosynthesis</text>
<rect x="442.20" y="190.20" width="8.00" height="7.90" fill="#f88c30"/>
<text x="452.40" y="195.90" font-size="4.8" text-anchor="start" fill="#111">Histidine metabolism</text>
<rect x="442.20" y="199.25" width="8.00" height="7.90" fill="#f49430"/>
<text x="452.40" y="204.95" font-size="4.8" text-anchor="start" fill="#111">Other carbohydrate metabolism</text>
<rect x="442.20" y="208.30" width="8.00" height="7.90" fill="#f09c30"/>
<text x="452.40" y="214.00" font-size="4.8" text-anchor="start" fill="#111">Replication system</text>
<rect x="442.20" y="217.35" width="8.00" height="7.90" fill="#eca430"/>
<text x="452.40" y="223.05" font-size="4.8" text-anchor="start" fill="#111">Photosynthesis</text>
<rect x="442.20" y="226.40" width="8.00" height="7.90" fill="#e7ac30"/>
<text x="452.40" y="232.10" font-size="4.8" text-anchor="start" fill="#111">Spliceosome</text>
<rect x="442.20" y="235.45" width="8.00" height="7.90" fill="#e3b430"/>
<text x="452.40" y="241.15" font-size="4.8" text-anchor="start" fill="#111">Two-component regulatory system</text>
<rect x="442.20" y="244.50" width="8.00" height="7.90" fill="#dfbc30"/>
<text x="452.40" y="250.20" font-size="4.8" text-anchor="start" fill="#111">Glycan biosynthesis</text>
<rect x="531.30" y="154.00" width="8.00" height="7.90" fill="#dabf31"/>
<text x="541.50" y="159.70" font-size="4.8" text-anchor="start" fill="#111">Drug resistance</text>
<rect x="531.30" y="163.05" width="8.00" height="7.90" fill="#d6c232"/>
<text x="541.50" y="168.75" font-size="4.8" text-anchor="start" fill="#111">Methane metabolism</text>
<rect x="531.30" y="172.10" width="8.00" height="7.90" fill="#d1c633"/>
<text x="541.50" y="177.80" font-size="4.8" text-anchor="start" fill="#111">Phosphotransferase system (PTS)</text>
<rect x="531.30" y="181.15" width="8.00" height="7.90" fill="#cdc934"/>
<text x="541.50" y="186.85" font-size="4.8" text-anchor="start" fill="#111">Nucleotide sugar</text>
<rect x="531.30" y="190.20" width="8.00" height="7.90" fill="#c8cc35"/>
<text x="541.50" y="195.90" font-size="4.8" text-anchor="start" fill="#111">Other terpenoid biosynthesis</text>
<rect x="531.30" y="199.25" width="8.00" height="7.90" fill="#c2d13c"/>
<text x="541.50" y="204.95" font-size="4.8" text-anchor="start" fill="#111">Nitrogen metabolism</text>
<rect x="531.30" y="208.30" width="8.00" height="7.90" fill="#bdd542"/>
<text x="541.50" y="214.00" font-size="4.8" text-anchor="start" fill="#111">Ubiquitin system</text>
<rect x="531.30" y="217.35" width="8.00" height="7.90" fill="#b7da48"/>
<text x="541.50" y="223.05" font-size="4.8" text-anchor="start" fill="#111">Macrolide biosynthesis</text>
<rect x="531.30" y="226.40" width="8.00" height="7.90" fill="#b1df4f"/>
<text x="541.50" y="232.10" font-size="4.8" text-anchor="start" fill="#111">Type II polyketide biosynthesis</text>
<rect x="531.30" y="235.45" width="8.00" height="7.90" fill="#ace356"/>
<text x="541.50" y="241.15" font-size="4.8" text-anchor="start" fill="#111">Biosynthesis of other secondary metabolites</text>
<rect x="531.30" y="244.50" width="8.00" height="7.90" fill="#a6e85c"/>
<text x="541.50" y="250.20" font-size="4.8" text-anchor="start" fill="#111">Pathogenicity</text>
<path d="M71.4 34.9L71.4 35.3M72.5 34.5L72.5 35.3M71.4 34.0L72.5 34.0M71.4 34.0L71.4 34.9M72.5 34.0L72.5 34.5M74.4 33.0L74.4 35.3M71.9 32.0L74.4 32.0M71.9 32.0L71.9 34.0M74.4 32.0L74.4 33.0M76.7 34.5L76.7 35.3M79.2 34.3L79.2 35.3M81.3 34.5L81.3 35.3M79.2 33.3L81.3 33.3M79.2 33.3L79.2 34.3M81.3 33.3L81.3 34.5M76.7 31.3L80.3 31.3M76.7 31.3L76.7 34.5M80.3 31.3L80.3 33.3M73.1 28.0L78.5 28.0M73.1 28.0L73.1 32.0M78.5 28.0L78.5 31.3M83.0 34.1L83.0 35.3M85.0 34.0L85.0 35.3M83.0 31.8L85.0 31.8M83.0 31.8L83.0 34.1M85.0 31.8L85.0 34.0M87.1 34.5L87.1 35.3M89.3 34.6L89.3 35.3M91.6 35.0L91.6 35.3M89.3 34.3L91.6 34.3M89.3 34.3L89.3 34.6M91.6 34.3L91.6 35.0M87.1 32.9L90.4 32.9M87.1 32.9L87.1 34.5M90.4 32.9L90.4 34.3M84.0 26.5L88.8 26.5M84.0 26.5L84.0 31.8M88.8 26.5L88.8 32.9M94.6 34.6L94.6 35.3M96.8 34.5L96.8 35.3M98.0 34.9L98.0 35.3M96.8 33.7L98.0 33.7M96.8 33.7L96.8 34.5M98.0 33.7L98.0 34.9M94.6 32.4L97.4 32.4M94.6 32.4L94.6 34.6M97.4 32.4L97.4 33.7M99.1 35.0L99.1 35.3M100.9 34.5L100.9 35.3M99.1 33.8L100.9 33.8M99.1 33.8L99.1 35.0M100.9 33.8L100.9 34.5M103.0 33.8L103.0 35.3M100.0 33.1L103.0 33.1M100.0 33.1L100.0 33.8M103.0 33.1L103.0 33.8M96.0 27.0L101.5 27.0M96.0 27.0L96.0 32.4M101.5 27.0L101.5 33.1M104.7 34.7L104.7 35.3M106.1 34.5L106.1 35.3M104.7 33.1L106.1 33.1M104.7 33.1L104.7 34.7M106.1 33.1L106.1 34.5M107.9 34.8L107.9 35.3M109.5 35.0L109.5 35.3M107.9 33.6L109.5 33.6M107.9 33.6L107.9 34.8M109.5 33.6L109.5 35.0M105.4 31.3L108.7 31.3M105.4 31.3L105.4 33.1M108.7 31.3L108.7 33.6M111.0 34.8L111.0 35.3M112.4 34.4L112.4 35.3M111.0 33.2L112.4 33.2M111.0 33.2L111.0 34.8M112.4 33.2L112.4 34.4M113.9 34.4L113.9 35.3M111.7 32.1L113.9 32.1M111.7 32.1L111.7 33.2M113.9 32.1L113.9 34.4M107.1 28.5L112.8 28.5M107.1 28.5L107.1 31.3M112.8 28.5L112.8 32.1M117.5 35.1L117.5 35.3M121.4 34.6L121.4 35.3M117.5 34.2L121.4 34.2M117.5 34.2L117.5 35.1M121.4 34.2L121.4 34.6M124.9 34.6L124.9 35.3M128.3 34.5L128.3 35.3M124.9 34.0L128.3 34.0M124.9 34.0L124.9 34.6M128.3 34.0L128.3 34.5M119.4 33.5L126.6 33.5M119.4 33.5L119.4 34.2M126.6 33.5L126.6 34.0M134.8 34.5L134.8 35.3M123.0 32.5L134.8 32.5M123.0 32.5L123.0 33.5M134.8 32.5L134.8 34.5M141.7 34.8L141.7 35.3M146.9 34.4L146.9 35.3M141.7 34.1L146.9 34.1M141.7 34.1L141.7 34.8M146.9 34.1L146.9 34.4M154.7 34.7L154.7 35.3M162.0 35.0L162.0 35.3M154.7 34.3L162.0 34.3M154.7 34.3L154.7 34.7M162.0 34.3L162.0 35.0M144.3 31.5L158.4 31.5M144.3 31.5L144.3 34.1M158.4 31.5L158.4 34.3M166.0 34.2L166.0 35.3M169.0 34.4L169.0 35.3M166.0 33.5L169.0 33.5M166.0 33.5L166.0 34.2M169.0 33.5L169.0 34.4M173.4 34.6L173.4 35.3M177.6 34.5L177.6 35.3M173.4 34.2L177.6 34.2M173.4 34.2L173.4 34.6M177.6 34.2L177.6 34.5M167.5 32.8L175.5 32.8M167.5 32.8L167.5 33.5M175.5 32.8L175.5 34.2M181.6 34.7L181.6 35.3M184.9 35.1L184.9 35.3M181.6 34.2L184.9 34.2M181.6 34.2L181.6 34.7M184.9 34.2L184.9 35.1M171.5 30.0L183.2 30.0M171.5 30.0L171.5 32.8M183.2 30.0L183.2 34.2M187.0 34.6L187.0 35.3M188.8 34.9L188.8 35.3M187.0 33.5L188.8 33.5M187.0 33.5L187.0 34.6M188.8 33.5L188.8 34.9M190.6 34.3L190.6 35.3M192.4 34.6L192.4 35.3M190.6 33.4L192.4 33.4M190.6 33.4L190.6 34.3M192.4 33.4L192.4 34.6M187.9 30.8L191.5 30.8M187.9 30.8L187.9 33.5M191.5 30.8L191.5 33.4M194.0 32.9L194.0 35.3M195.9 34.4L195.9 35.3M194.0 31.2L195.9 31.2M194.0 31.2L194.0 32.9M195.9 31.2L195.9 34.4M189.7 27.0L194.9 27.0M189.7 27.0L189.7 30.8M194.9 27.0L194.9 31.2M197.6 34.2L197.6 35.3M198.8 33.3L198.8 35.3M197.6 32.5L198.8 32.5M197.6 32.5L197.6 34.2M198.8 32.5L198.8 33.3M200.1 33.0L200.1 35.3M201.5 33.5L201.5 35.3M200.1 30.6L201.5 30.6M200.1 30.6L200.1 33.0M201.5 30.6L201.5 33.5M198.2 28.9L200.8 28.9M198.2 28.9L198.2 32.5M200.8 28.9L200.8 30.6M203.2 31.5L203.2 35.3M204.7 32.7L204.7 35.3M206.1 33.9L206.1 35.3M204.7 31.6L206.1 31.6M204.7 31.6L204.7 32.7M206.1 31.6L206.1 33.9M203.2 24.7L205.4 24.7M203.2 24.7L203.2 31.5M205.4 24.7L205.4 31.6M199.5 21.0L204.3 21.0M199.5 21.0L199.5 28.9M204.3 21.0L204.3 24.7M207.9 32.4L207.9 35.3M209.2 34.1L209.2 35.3M210.4 34.6L210.4 35.3M209.2 33.0L210.4 33.0M209.2 33.0L209.2 34.1M210.4 33.0L210.4 34.6M207.9 29.9L209.8 29.9M207.9 29.9L207.9 32.4M209.8 29.9L209.8 33.0M211.6 33.1L211.6 35.3M212.6 34.2L212.6 35.3M213.8 34.8L213.8 35.3M212.6 33.5L213.8 33.5M212.6 33.5L212.6 34.2M213.8 33.5L213.8 34.8M211.6 30.2L213.2 30.2M211.6 30.2L211.6 33.1M213.2 30.2L213.2 33.5M208.8 25.9L212.4 25.9M208.8 25.9L208.8 29.9M212.4 25.9L212.4 30.2M215.2 30.4L215.2 35.3M217.0 31.4L217.0 35.3M215.2 27.7L217.0 27.7M215.2 27.7L215.2 30.4M217.0 27.7L217.0 31.4M210.6 20.0L216.1 20.0M210.6 20.0L210.6 25.9M216.1 20.0L216.1 27.7M75.8 29.0L86.4 29.0M75.8 29.0L75.8 28.0M86.4 29.0L86.4 26.5M81.1 26.5L98.7 26.5M81.1 26.5L81.1 29.0M98.7 26.5L98.7 27.0M89.9 24.8L109.9 24.8M89.9 24.8L89.9 26.5M109.9 24.8L109.9 28.5M99.9 23.2L128.9 23.2M99.9 23.2L99.9 24.8M128.9 23.2L128.9 32.5M114.4 22.0L151.3 22.0M114.4 22.0L114.4 23.2M151.3 22.0L151.3 31.5M132.9 20.5L177.4 20.5M132.9 20.5L132.9 22.0M177.4 20.5L177.4 30.0M155.1 18.0L192.3 18.0M155.1 18.0L155.1 20.5M192.3 18.0L192.3 27.0M173.7 15.5L201.9 15.5M173.7 15.5L173.7 18.0M201.9 15.5L201.9 21.0M187.8 12.0L213.4 12.0M187.8 12.0L187.8 15.5M213.4 12.0L213.4 20.0" stroke="#e9dcd2" stroke-width="0.5" fill="none"/>
<path d="M218.5 29.8L218.5 35.3M219.3 32.2L219.3 35.3M220.0 32.2L220.0 35.3M219.3 30.6L220.0 30.6M219.3 30.6L219.3 32.2M220.0 30.6L220.0 32.2M218.5 28.8L219.7 28.8M218.5 28.8L218.5 29.8M219.7 28.8L219.7 30.6M220.9 29.1L220.9 35.3M221.9 30.3L221.9 35.3M220.9 27.6L221.9 27.6M220.9 27.6L220.9 29.1M221.9 27.6L221.9 30.3M219.1 25.1L221.4 25.1M219.1 25.1L219.1 28.8M221.4 25.1L221.4 27.6M222.8 30.3L222.8 35.3M223.5 31.1L223.5 35.3M222.8 29.0L223.5 29.0M222.8 29.0L222.8 30.3M223.5 29.0L223.5 31.1M224.5 27.7L224.5 35.3M223.1 25.7L224.5 25.7M223.1 25.7L223.1 29.0M224.5 25.7L224.5 27.7M220.2 23.0L223.8 23.0M220.2 23.0L220.2 25.1M223.8 23.0L223.8 25.7M225.3 27.7L225.3 35.3M226.2 30.0L226.2 35.3M225.3 26.7L226.2 26.7M225.3 26.7L225.3 27.7M226.2 26.7L226.2 30.0M227.2 32.7L227.2 35.3M227.9 31.8L227.9 35.3M227.2 31.1L227.9 31.1M227.2 31.1L227.2 32.7M227.9 31.1L227.9 31.8M228.4 30.0L228.4 35.3M227.6 28.3L228.4 28.3M227.6 28.3L227.6 31.1M228.4 28.3L228.4 30.0M225.8 24.0L228.0 24.0M225.8 24.0L225.8 26.7M228.0 24.0L228.0 28.3M229.1 30.4L229.1 35.3M229.9 31.3L229.9 35.3M229.1 29.6L229.9 29.6M229.1 29.6L229.1 30.4M229.9 29.6L229.9 31.3M230.8 31.7L230.8 35.3M231.6 30.5L231.6 35.3M230.8 29.7L231.6 29.7M230.8 29.7L230.8 31.7M231.6 29.7L231.6 30.5M229.5 28.2L231.2 28.2M229.5 28.2L229.5 29.6M231.2 28.2L231.2 29.7M232.5 32.0L232.5 35.3M233.2 31.5L233.2 35.3M232.5 30.1L233.2 30.1M232.5 30.1L232.5 32.0M233.2 30.1L233.2 31.5M233.8 30.6L233.8 35.3M232.9 27.7L233.8 27.7M232.9 27.7L232.9 30.1M233.8 27.7L233.8 30.6M230.3 24.3L233.4 24.3M230.3 24.3L230.3 28.2M233.4 24.3L233.4 27.7M226.9 20.9L231.9 20.9M226.9 20.9L226.9 24.0M231.9 20.9L231.9 24.3M222.0 16.3L229.4 16.3M222.0 16.3L222.0 23.0M229.4 16.3L229.4 20.9M234.6 30.2L234.6 35.3M235.3 29.5L235.3 35.3M234.6 27.1L235.3 27.1M234.6 27.1L234.6 30.2M235.3 27.1L235.3 29.5M236.2 28.3L236.2 35.3M237.2 29.8L237.2 35.3M236.2 26.6L237.2 26.6M236.2 26.6L236.2 28.3M237.2 26.6L237.2 29.8M234.9 23.5L236.7 23.5M234.9 23.5L234.9 27.1M236.7 23.5L236.7 26.6M238.1 30.6L238.1 35.3M238.9 30.9L238.9 35.3M238.1 28.2L238.9 28.2M238.1 28.2L238.1 30.6M238.9 28.2L238.9 30.9M239.8 32.7L239.8 35.3M240.5 31.8L240.5 35.3M239.8 31.2L240.5 31.2M239.8 31.2L239.8 32.7M240.5 31.2L240.5 31.8M241.4 29.8L241.4 35.3M240.2 29.0L241.4 29.0M240.2 29.0L240.2 31.2M241.4 29.0L241.4 29.8M238.5 25.6L240.8 25.6M238.5 25.6L238.5 28.2M240.8 25.6L240.8 29.0M242.2 28.4L242.2 35.3M243.1 29.2L243.1 35.3M242.2 26.1L243.1 26.1M242.2 26.1L242.2 28.4M243.1 26.1L243.1 29.2M243.9 28.0L243.9 35.3M244.6 29.2L244.6 35.3M245.4 31.0L245.4 35.3M244.6 28.2L245.4 28.2M244.6 28.2L244.6 29.2M245.4 28.2L245.4 31.0M243.9 26.9L245.0 26.9M243.9 26.9L243.9 28.0M245.0 26.9L245.0 28.2M242.7 23.8L244.5 23.8M242.7 23.8L242.7 26.1M244.5 23.8L244.5 26.9M239.6 20.6L243.6 20.6M239.6 20.6L239.6 25.6M243.6 20.6L243.6 23.8M235.8 17.7L241.6 17.7M235.8 17.7L235.8 23.5M241.6 17.7L241.6 20.6M225.7 13.0L238.7 13.0M225.7 13.0L225.7 16.3M238.7 13.0L238.7 17.7" stroke="#e2aa66" stroke-width="0.55" fill="none"/>
<path d="M246.8 29.9L246.8 35.3M248.3 33.1L248.3 35.3M249.4 32.4L249.4 35.3M248.3 30.1L249.4 30.1M248.3 30.1L248.3 33.1M249.4 30.1L249.4 32.4M246.8 26.0L248.8 26.0M246.8 26.0L246.8 29.9M248.8 26.0L248.8 30.1M250.9 29.0L250.9 35.3M247.8 22.0L250.9 22.0M247.8 22.0L247.8 26.0M250.9 22.0L250.9 29.0M253.0 33.0L253.0 35.3M254.9 31.8L254.9 35.3M253.0 28.9L254.9 28.9M253.0 28.9L253.0 33.0M254.9 28.9L254.9 31.8M256.8 30.3L256.8 35.3M258.5 34.8L258.5 35.3M259.7 34.6L259.7 35.3M258.5 34.0L259.7 34.0M258.5 34.0L258.5 34.8M259.7 34.0L259.7 34.6M261.0 33.0L261.0 35.3M259.1 31.1L261.0 31.1M259.1 31.1L259.1 34.0M261.0 31.1L261.0 33.0M256.8 27.6L260.1 27.6M256.8 27.6L256.8 30.3M260.1 27.6L260.1 31.1M253.9 24.0L258.4 24.0M253.9 24.0L253.9 28.9M258.4 24.0L258.4 27.6M264.9 34.6L264.9 35.3M271.2 34.4L271.2 35.3M264.9 33.5L271.2 33.5M264.9 33.5L264.9 34.6M271.2 33.5L271.2 34.4M277.6 34.7L277.6 35.3M285.4 34.8L285.4 35.3M277.6 33.9L285.4 33.9M277.6 33.9L277.6 34.7M285.4 33.9L285.4 34.8M268.1 31.5L281.5 31.5M268.1 31.5L268.1 33.5M281.5 31.5L281.5 33.9M293.2 34.7L293.2 35.3M297.6 34.8L297.6 35.3M299.3 34.4L299.3 35.3M297.6 33.8L299.3 33.8M297.6 33.8L297.6 34.8M299.3 33.8L299.3 34.4M293.2 32.6L298.4 32.6M293.2 32.6L293.2 34.7M298.4 32.6L298.4 33.8M302.6 34.8L302.6 35.3M307.5 34.7L307.5 35.3M302.6 33.4L307.5 33.4M302.6 33.4L302.6 34.8M307.5 33.4L307.5 34.7M314.8 34.5L314.8 35.3M305.1 32.6L314.8 32.6M305.1 32.6L305.1 33.4M314.8 32.6L314.8 34.5M295.8 30.0L309.9 30.0M295.8 30.0L295.8 32.6M309.9 30.0L309.9 32.6M322.9 34.7L322.9 35.3M327.8 34.9L327.8 35.3M333.4 34.5L333.4 35.3M327.8 34.2L333.4 34.2M327.8 34.2L327.8 34.9M333.4 34.2L333.4 34.5M322.9 33.8L330.6 33.8M322.9 33.8L322.9 34.7M330.6 33.8L330.6 34.2M337.8 34.3L337.8 35.3M340.0 34.9L340.0 35.3M337.8 34.0L340.0 34.0M337.8 34.0L337.8 34.3M340.0 34.0L340.0 34.9M345.7 34.8L345.7 35.3M338.9 33.4L345.7 33.4M338.9 33.4L338.9 34.0M345.7 33.4L345.7 34.8M326.8 31.0L342.3 31.0M326.8 31.0L326.8 33.8M342.3 31.0L342.3 33.4M352.4 34.9L352.4 35.3M356.3 34.5L356.3 35.3M352.4 33.4L356.3 33.4M352.4 33.4L352.4 34.9M356.3 33.4L356.3 34.5M359.9 34.6L359.9 35.3M363.5 35.0L363.5 35.3M365.7 34.4L365.7 35.3M363.5 34.0L365.7 34.0M363.5 34.0L363.5 35.0M365.7 34.0L365.7 34.4M359.9 33.4L364.6 33.4M359.9 33.4L359.9 34.6M364.6 33.4L364.6 34.0M369.3 34.5L369.3 35.3M362.2 32.7L369.3 32.7M362.2 32.7L362.2 33.4M369.3 32.7L369.3 34.5M354.3 28.5L365.8 28.5M354.3 28.5L354.3 33.4M365.8 28.5L365.8 32.7M372.7 34.3L372.7 35.3M374.1 33.7L374.1 35.3M372.7 32.4L374.1 32.4M372.7 32.4L372.7 34.3M374.1 32.4L374.1 33.7M375.7 33.8L375.7 35.3M377.1 34.2L377.1 35.3M378.3 34.6L378.3 35.3M377.1 33.8L378.3 33.8M377.1 33.8L377.1 34.2M378.3 33.8L378.3 34.6M375.7 32.5L377.7 32.5M375.7 32.5L375.7 33.8M377.7 32.5L377.7 33.8M373.4 30.8L376.7 30.8M373.4 30.8L373.4 32.4M376.7 30.8L376.7 32.5M380.0 34.7L380.0 35.3M383.2 34.8L383.2 35.3M380.0 33.7L383.2 33.7M380.0 33.7L380.0 34.7M383.2 33.7L383.2 34.8M386.0 34.8L386.0 35.3M387.4 34.8L387.4 35.3M386.0 34.3L387.4 34.3M386.0 34.3L386.0 34.8M387.4 34.3L387.4 34.8M381.6 32.3L386.7 32.3M381.6 32.3L381.6 33.7M386.7 32.3L386.7 34.3M375.1 25.0L384.1 25.0M375.1 25.0L375.1 30.8M384.1 25.0L384.1 32.3M389.1 34.3L389.1 35.3M392.5 34.6L392.5 35.3M389.1 32.4L392.5 32.4M389.1 32.4L389.1 34.3M392.5 32.4L392.5 34.6M395.2 33.0L395.2 35.3M396.5 32.9L396.5 35.3M395.2 31.5L396.5 31.5M395.2 31.5L395.2 33.0M396.5 31.5L396.5 32.9M398.1 33.8L398.1 35.3M399.4 33.6L399.4 35.3M398.1 32.6L399.4 32.6M398.1 32.6L398.1 33.8M399.4 32.6L399.4 33.6M395.9 27.8L398.7 27.8M395.9 27.8L395.9 31.5M398.7 27.8L398.7 32.6M390.8 24.0L397.3 24.0M390.8 24.0L390.8 32.4M397.3 24.0L397.3 27.8M400.9 34.2L400.9 35.3M402.6 34.2L402.6 35.3M400.9 33.5L402.6 33.5M400.9 33.5L400.9 34.2M402.6 33.5L402.6 34.2M404.6 34.3L404.6 35.3M401.7 31.8L404.6 31.8M401.7 31.8L401.7 33.5M404.6 31.8L404.6 34.3M406.4 30.9L406.4 35.3M407.6 32.6L407.6 35.3M409.1 32.5L409.1 35.3M407.6 30.5L409.1 30.5M407.6 30.5L407.6 32.6M409.1 30.5L409.1 32.5M406.4 26.3L408.3 26.3M406.4 26.3L406.4 30.9M408.3 26.3L408.3 30.5M403.1 20.0L407.4 20.0M403.1 20.0L403.1 31.8M407.4 20.0L407.4 26.3M410.9 33.8L410.9 35.3M412.2 33.1L412.2 35.3M410.9 30.4L412.2 30.4M410.9 30.4L410.9 33.8M412.2 30.4L412.2 33.1M413.4 33.3L413.4 35.3M414.8 33.7L414.8 35.3M413.4 29.6L414.8 29.6M413.4 29.6L413.4 33.3M414.8 29.6L414.8 33.7M411.5 23.7L414.1 23.7M411.5 23.7L411.5 30.4M414.1 23.7L414.1 29.6M416.3 34.1L416.3 35.3M418.1 34.5L418.1 35.3M416.3 31.8L418.1 31.8M416.3 31.8L416.3 34.1M418.1 31.8L418.1 34.5M412.8 18.0L417.2 18.0M412.8 18.0L412.8 23.7M417.2 18.0L417.2 31.8M415.0 29.8L405.3 29.8M415.0 29.8L415.0 18.0M405.3 29.8L405.3 20.0M410.1 28.4L394.1 28.4M410.1 28.4L410.1 29.8M394.1 28.4L394.1 24.0M402.1 26.0L379.6 26.0M402.1 26.0L402.1 28.4M379.6 26.0L379.6 25.0M390.8 24.0L360.1 24.0M390.8 24.0L390.8 26.0M360.1 24.0L360.1 28.5M375.4 21.0L334.5 21.0M375.4 21.0L375.4 24.0M334.5 21.0L334.5 31.0M355.0 19.6L302.9 19.6M355.0 19.6L355.0 21.0M302.9 19.6L302.9 30.0M328.9 16.7L274.8 16.7M328.9 16.7L328.9 19.6M274.8 16.7L274.8 31.5M301.9 13.8L256.2 13.8M301.9 13.8L301.9 16.7M256.2 13.8L256.2 24.0M279.0 10.0L249.4 10.0M279.0 10.0L279.0 13.8M249.4 10.0L249.4 22.0" stroke="#f8dfc6" stroke-width="0.5" fill="none"/>
<path d="M419.9 30.7L419.9 35.3M420.5 30.9L420.5 35.3M419.9 29.5L420.5 29.5M419.9 29.5L419.9 30.7M420.5 29.5L420.5 30.9M421.1 27.9L421.1 35.3M420.2 26.1L421.1 26.1M420.2 26.1L420.2 29.5M421.1 26.1L421.1 27.9M422.0 30.1L422.0 35.3M422.9 30.2L422.9 35.3M422.0 28.8L422.9 28.8M422.0 28.8L422.0 30.1M422.9 28.8L422.9 30.2M423.8 28.8L423.8 35.3M422.4 27.7L423.8 27.7M422.4 27.7L422.4 28.8M423.8 27.7L423.8 28.8M420.7 24.2L423.1 24.2M420.7 24.2L420.7 26.1M423.1 24.2L423.1 27.7M424.7 29.4L424.7 35.3M425.4 29.5L425.4 35.3M424.7 27.5L425.4 27.5M424.7 27.5L424.7 29.4M425.4 27.5L425.4 29.5M426.0 28.2L426.0 35.3M426.7 29.2L426.7 35.3M426.0 25.4L426.7 25.4M426.0 25.4L426.0 28.2M426.7 25.4L426.7 29.2M425.0 24.0L426.4 24.0M425.0 24.0L425.0 27.5M426.4 24.0L426.4 25.4M421.9 21.6L425.7 21.6M421.9 21.6L421.9 24.2M425.7 21.6L425.7 24.0M427.6 29.2L427.6 35.3M428.5 30.6L428.5 35.3M429.3 28.9L429.3 35.3M428.5 27.8L429.3 27.8M428.5 27.8L428.5 30.6M429.3 27.8L429.3 28.9M427.6 26.5L428.9 26.5M427.6 26.5L427.6 29.2M428.9 26.5L428.9 27.8M430.1 29.0L430.1 35.3M431.1 29.8L431.1 35.3M430.1 27.3L431.1 27.3M430.1 27.3L430.1 29.0M431.1 27.3L431.1 29.8M431.9 28.5L431.9 35.3M430.6 25.0L431.9 25.0M430.6 25.0L430.6 27.3M431.9 25.0L431.9 28.5M428.2 23.2L431.3 23.2M428.2 23.2L428.2 26.5M431.3 23.2L431.3 25.0M423.8 15.5L429.7 15.5M423.8 15.5L423.8 21.6M429.7 15.5L429.7 23.2M432.9 30.7L432.9 35.3M433.8 31.5L433.8 35.3M434.5 32.1L434.5 35.3M433.8 30.7L434.5 30.7M433.8 30.7L433.8 31.5M434.5 30.7L434.5 32.1M432.9 28.6L434.1 28.6M432.9 28.6L432.9 30.7M434.1 28.6L434.1 30.7M435.1 31.2L435.1 35.3M435.7 32.3L435.7 35.3M435.1 30.4L435.7 30.4M435.1 30.4L435.1 31.2M435.7 30.4L435.7 32.3M436.5 31.6L436.5 35.3M435.4 29.4L436.5 29.4M435.4 29.4L435.4 30.4M436.5 29.4L436.5 31.6M433.5 27.4L436.0 27.4M433.5 27.4L433.5 28.6M436.0 27.4L436.0 29.4M437.5 28.3L437.5 35.3M438.6 30.9L438.6 35.3M439.6 31.1L439.6 35.3M438.6 29.2L439.6 29.2M438.6 29.2L438.6 30.9M439.6 29.2L439.6 31.1M437.5 26.3L439.1 26.3M437.5 26.3L437.5 28.3M439.1 26.3L439.1 29.2M434.7 22.4L438.3 22.4M434.7 22.4L434.7 27.4M438.3 22.4L438.3 26.3M440.5 26.7L440.5 35.3M441.5 29.6L441.5 35.3M442.5 28.7L442.5 35.3M441.5 26.9L442.5 26.9M441.5 26.9L441.5 29.6M442.5 26.9L442.5 28.7M440.5 22.7L442.0 22.7M440.5 22.7L440.5 26.7M442.0 22.7L442.0 26.9M443.1 27.7L443.1 35.3M443.7 27.0L443.7 35.3M443.1 25.1L443.7 25.1M443.1 25.1L443.1 27.7M443.7 25.1L443.7 27.0M444.7 28.7L444.7 35.3M445.6 28.7L445.6 35.3M444.7 26.9L445.6 26.9M444.7 26.9L444.7 28.7M445.6 26.9L445.6 28.7M443.4 22.1L445.2 22.1M443.4 22.1L443.4 25.1M445.2 22.1L445.2 26.9M441.2 19.4L444.3 19.4M441.2 19.4L441.2 22.7M444.3 19.4L444.3 22.1M436.5 15.5L442.8 15.5M436.5 15.5L436.5 22.4M442.8 15.5L442.8 19.4M426.8 11.0L439.7 11.0M426.8 11.0L426.8 15.5M439.7 11.0L439.7 15.5" stroke="#f0ac5e" stroke-width="0.55" fill="none"/>
<path d="M447.1 30.9L447.1 35.3M448.9 30.9L448.9 35.3M447.1 28.5L448.9 28.5M447.1 28.5L447.1 30.9M448.9 28.5L448.9 30.9M450.7 34.8L450.7 35.3M452.3 34.6L452.3 35.3M450.7 34.2L452.3 34.2M450.7 34.2L450.7 34.8M452.3 34.2L452.3 34.6M454.9 34.3L454.9 35.3M451.5 32.1L454.9 32.1M451.5 32.1L451.5 34.2M454.9 32.1L454.9 34.3M448.0 25.4L453.2 25.4M448.0 25.4L448.0 28.5M453.2 25.4L453.2 32.1M457.6 31.8L457.6 35.3M459.0 31.9L459.0 35.3M457.6 29.7L459.0 29.7M457.6 29.7L457.6 31.8M459.0 29.7L459.0 31.9M460.6 32.4L460.6 35.3M462.3 34.1L462.3 35.3M460.6 31.3L462.3 31.3M460.6 31.3L460.6 32.4M462.3 31.3L462.3 34.1M458.3 26.7L461.5 26.7M458.3 26.7L458.3 29.7M461.5 26.7L461.5 31.3M450.6 20.9L459.9 20.9M450.6 20.9L450.6 25.4M459.9 20.9L459.9 26.7M464.0 33.8L464.0 35.3M466.0 34.5L466.0 35.3M464.0 31.6L466.0 31.6M464.0 31.6L464.0 33.8M466.0 31.6L466.0 34.5M467.8 32.3L467.8 35.3M465.0 28.5L467.8 28.5M465.0 28.5L465.0 31.6M467.8 28.5L467.8 32.3M469.8 34.4L469.8 35.3M471.9 33.3L471.9 35.3M469.8 32.6L471.9 32.6M469.8 32.6L469.8 34.4M471.9 32.6L471.9 33.3M473.7 34.4L473.7 35.3M475.4 34.1L475.4 35.3M473.7 33.5L475.4 33.5M473.7 33.5L473.7 34.4M475.4 33.5L475.4 34.1M477.3 33.1L477.3 35.3M474.5 30.6L477.3 30.6M474.5 30.6L474.5 33.5M477.3 30.6L477.3 33.1M470.9 25.6L475.9 25.6M470.9 25.6L470.9 32.6M475.9 25.6L475.9 30.6M479.1 32.8L479.1 35.3M480.6 34.0L480.6 35.3M479.1 29.7L480.6 29.7M479.1 29.7L479.1 32.8M480.6 29.7L480.6 34.0M481.9 33.7L481.9 35.3M483.1 34.3L483.1 35.3M481.9 33.0L483.1 33.0M481.9 33.0L481.9 33.7M483.1 33.0L483.1 34.3M484.8 33.6L484.8 35.3M482.5 32.1L484.8 32.1M482.5 32.1L482.5 33.0M484.8 32.1L484.8 33.6M486.5 34.5L486.5 35.3M487.6 34.9L487.6 35.3M486.5 33.8L487.6 33.8M486.5 33.8L486.5 34.5M487.6 33.8L487.6 34.9M483.6 30.6L487.1 30.6M483.6 30.6L483.6 32.1M487.1 30.6L487.1 33.8M479.9 23.4L485.3 23.4M479.9 23.4L479.9 29.7M485.3 23.4L485.3 30.6M455.2 17.5L466.4 17.5M455.2 17.5L455.2 20.9M466.4 17.5L466.4 28.5M460.8 13.1L473.4 13.1M460.8 13.1L460.8 17.5M473.4 13.1L473.4 25.6M467.1 11.0L482.6 11.0M467.1 11.0L467.1 13.1M482.6 11.0L482.6 23.4" stroke="#e6e6ec" stroke-width="0.5" fill="none"/>
<path d="M489.5 34.4L489.5 35.3M492.7 34.3L492.7 35.3M489.5 34.0L492.7 34.0M489.5 34.0L489.5 34.4M492.7 34.0L492.7 34.3M496.0 34.4L496.0 35.3M491.1 32.7L496.0 32.7M491.1 32.7L491.1 34.0M496.0 32.7L496.0 34.4M498.8 34.8L498.8 35.3M500.8 34.7L500.8 35.3M498.8 34.0L500.8 34.0M498.8 34.0L498.8 34.8M500.8 34.0L500.8 34.7M503.8 34.8L503.8 35.3M508.0 34.5L508.0 35.3M503.8 34.0L508.0 34.0M503.8 34.0L503.8 34.8M508.0 34.0L508.0 34.5M499.8 33.3L505.9 33.3M499.8 33.3L499.8 34.0M505.9 33.3L505.9 34.0M493.6 26.9L502.9 26.9M493.6 26.9L493.6 32.7M502.9 26.9L502.9 33.3M511.1 33.1L511.1 35.3M512.4 31.9L512.4 35.3M511.1 29.1L512.4 29.1M511.1 29.1L511.1 33.1M512.4 29.1L512.4 31.9M513.6 27.7L513.6 35.3M511.7 23.6L513.6 23.6M511.7 23.6L511.7 29.1M513.6 23.6L513.6 27.7M515.1 31.9L515.1 35.3M516.2 34.4L516.2 35.3M517.6 34.2L517.6 35.3M516.2 33.6L517.6 33.6M516.2 33.6L516.2 34.4M517.6 33.6L517.6 34.2M515.1 29.9L516.9 29.9M515.1 29.9L515.1 31.9M516.9 29.9L516.9 33.6M519.2 30.0L519.2 35.3M520.4 32.2L520.4 35.3M521.6 32.4L521.6 35.3M520.4 31.0L521.6 31.0M520.4 31.0L520.4 32.2M521.6 31.0L521.6 32.4M519.2 27.2L521.0 27.2M519.2 27.2L519.2 30.0M521.0 27.2L521.0 31.0M516.0 22.5L520.1 22.5M516.0 22.5L516.0 29.9M520.1 22.5L520.1 27.2M523.0 24.3L523.0 35.3M524.3 24.0L524.3 35.3M523.0 20.0L524.3 20.0M523.0 20.0L523.0 24.3M524.3 20.0L524.3 24.0M523.6 16.5L518.0 16.5M523.6 16.5L523.6 20.0M518.0 16.5L518.0 22.5M520.8 13.4L512.7 13.4M520.8 13.4L520.8 16.5M512.7 13.4L512.7 23.6M516.8 11.5L498.2 11.5M516.8 11.5L516.8 13.4M498.2 11.5L498.2 26.9" stroke="#d3daf4" stroke-width="0.5" fill="none"/>
<path d="M525.6 29.4L525.6 35.3M526.9 17.5L526.9 35.3M528.5 30.0L528.5 35.3M530.3 32.5L530.3 35.3M528.5 26.4L530.3 26.4M528.5 26.4L528.5 30.0M530.3 26.4L530.3 32.5M531.5 34.0L531.5 35.3M532.6 34.6L532.6 35.3M531.5 33.1L532.6 33.1M531.5 33.1L531.5 34.0M532.6 33.1L532.6 34.6M533.9 32.2L533.9 35.3M535.1 31.5L535.1 35.3M533.9 29.8L535.1 29.8M533.9 29.8L533.9 32.2M535.1 29.8L535.1 31.5M532.0 25.9L534.5 25.9M532.0 25.9L532.0 33.1M534.5 25.9L534.5 29.8M529.4 22.2L533.2 22.2M529.4 22.2L529.4 26.4M533.2 22.2L533.2 25.9M536.3 34.0L536.3 35.3M537.7 34.4L537.7 35.3M539.4 34.4L539.4 35.3M537.7 34.1L539.4 34.1M537.7 34.1L537.7 34.4M539.4 34.1L539.4 34.4M536.3 33.6L538.5 33.6M536.3 33.6L536.3 34.0M538.5 33.6L538.5 34.1M541.4 34.4L541.4 35.3M543.2 33.1L543.2 35.3M541.4 31.9L543.2 31.9M541.4 31.9L541.4 34.4M543.2 31.9L543.2 33.1M537.4 27.2L542.3 27.2M537.4 27.2L537.4 33.6M542.3 27.2L542.3 31.9M531.3 15.5L539.9 15.5M531.3 15.5L531.3 22.2M539.9 15.5L539.9 27.2M544.2 29.6L544.2 35.3M545.6 34.4L545.6 35.3M547.5 34.6L547.5 35.3M545.6 33.9L547.5 33.9M545.6 33.9L545.6 34.4M547.5 33.9L547.5 34.6M549.0 34.1L549.0 35.3M546.5 33.3L549.0 33.3M546.5 33.3L546.5 33.9M549.0 33.3L549.0 34.1M552.6 34.8L552.6 35.3M558.7 35.0L558.7 35.3M552.6 33.9L558.7 33.9M552.6 33.9L552.6 34.8M558.7 33.9L558.7 35.0M547.8 31.9L555.6 31.9M547.8 31.9L547.8 33.3M555.6 31.9L555.6 33.9M563.4 34.8L563.4 35.3M565.4 35.0L565.4 35.3M563.4 34.2L565.4 34.2M563.4 34.2L563.4 34.8M565.4 34.2L565.4 35.0M567.7 34.7L567.7 35.3M571.1 34.6L571.1 35.3M567.7 34.2L571.1 34.2M567.7 34.2L567.7 34.7M571.1 34.2L571.1 34.6M564.4 32.1L569.4 32.1M564.4 32.1L564.4 34.2M569.4 32.1L569.4 34.2M551.7 21.6L566.9 21.6M551.7 21.6L551.7 31.9M566.9 21.6L566.9 32.1M525.6 15.7L526.9 15.7M525.6 15.7L525.6 29.4M526.9 15.7L526.9 17.5M526.3 13.1L535.6 13.1M526.3 13.1L526.3 15.7M535.6 13.1L535.6 15.5M530.9 11.6L544.2 11.6M530.9 11.6L530.9 13.1M544.2 11.6L544.2 29.6M537.6 11.0L559.3 11.0M537.6 11.0L537.6 11.6M559.3 11.0L559.3 21.6" stroke="#ececf1" stroke-width="0.5" fill="none"/>
<path d="M573.9 29.9L573.9 35.3M574.8 31.5L574.8 35.3M575.5 30.8L575.5 35.3M574.8 29.4L575.5 29.4M574.8 29.4L574.8 31.5M575.5 29.4L575.5 30.8M573.9 26.9L575.1 26.9M573.9 26.9L573.9 29.9M575.1 26.9L575.1 29.4M576.2 28.3L576.2 35.3M576.9 27.1L576.9 35.3M576.2 24.9L576.9 24.9M576.2 24.9L576.2 28.3M576.9 24.9L576.9 27.1M574.5 23.1L576.6 23.1M574.5 23.1L574.5 26.9M576.6 23.1L576.6 24.9M577.8 26.3L577.8 35.3M578.8 28.4L578.8 35.3M579.6 29.5L579.6 35.3M578.8 27.2L579.6 27.2M578.8 27.2L578.8 28.4M579.6 27.2L579.6 29.5M577.8 24.8L579.2 24.8M577.8 24.8L577.8 26.3M579.2 24.8L579.2 27.2M575.6 21.3L578.5 21.3M575.6 21.3L575.6 23.1M578.5 21.3L578.5 24.8M580.3 23.6L580.3 35.3M581.3 27.2L581.3 35.3M582.0 25.4L582.0 35.3M581.3 24.0L582.0 24.0M581.3 24.0L581.3 27.2M582.0 24.0L582.0 25.4M580.3 21.8L581.6 21.8M580.3 21.8L580.3 23.6M581.6 21.8L581.6 24.0M582.9 30.2L582.9 35.3M583.9 30.9L583.9 35.3M582.9 28.6L583.9 28.6M582.9 28.6L582.9 30.2M583.9 28.6L583.9 30.9M584.6 30.4L584.6 35.3M585.4 30.2L585.4 35.3M584.6 29.4L585.4 29.4M584.6 29.4L584.6 30.4M585.4 29.4L585.4 30.2M586.4 29.7L586.4 35.3M587.1 29.6L587.1 35.3M586.4 28.7L587.1 28.7M586.4 28.7L586.4 29.7M587.1 28.7L587.1 29.6M585.0 26.3L586.7 26.3M585.0 26.3L585.0 29.4M586.7 26.3L586.7 28.7M583.4 24.3L585.9 24.3M583.4 24.3L583.4 28.6M585.9 24.3L585.9 26.3M581.0 19.5L584.6 19.5M581.0 19.5L581.0 21.8M584.6 19.5L584.6 24.3M577.0 16.5L582.8 16.5M577.0 16.5L577.0 21.3M582.8 16.5L582.8 19.5M587.7 30.3L587.7 35.3M588.4 29.1L588.4 35.3M587.7 27.4L588.4 27.4M587.7 27.4L587.7 30.3M588.4 27.4L588.4 29.1M589.1 27.5L589.1 35.3M588.1 24.1L589.1 24.1M588.1 24.1L588.1 27.4M589.1 24.1L589.1 27.5M589.8 30.5L589.8 35.3M590.6 30.4L590.6 35.3M589.8 28.7L590.6 28.7M589.8 28.7L589.8 30.5M590.6 28.7L590.6 30.4M591.5 29.3L591.5 35.3M590.2 26.1L591.5 26.1M590.2 26.1L590.2 28.7M591.5 26.1L591.5 29.3M592.5 26.4L592.5 35.3M593.6 27.2L593.6 35.3M592.5 25.0L593.6 25.0M592.5 25.0L592.5 26.4M593.6 25.0L593.6 27.2M590.9 23.1L593.0 23.1M590.9 23.1L590.9 26.1M593.0 23.1L593.0 25.0M588.6 20.4L592.0 20.4M588.6 20.4L588.6 24.1M592.0 20.4L592.0 23.1M594.4 27.9L594.4 35.3M595.2 28.5L595.2 35.3M594.4 25.5L595.2 25.5M594.4 25.5L594.4 27.9M595.2 25.5L595.2 28.5M595.9 28.5L595.9 35.3M596.6 28.9L596.6 35.3M595.9 27.1L596.6 27.1M595.9 27.1L595.9 28.5M596.6 27.1L596.6 28.9M594.8 23.9L596.3 23.9M594.8 23.9L594.8 25.5M596.3 23.9L596.3 27.1M590.3 17.3L595.5 17.3M590.3 17.3L590.3 20.4M595.5 17.3L595.5 23.9M579.9 8.8L592.9 8.8M579.9 8.8L579.9 16.5M592.9 8.8L592.9 17.3" stroke="#7d9bea" stroke-width="0.55" fill="none"/>
<path d="M200.6 8.6L232.2 8.6M200.6 8.6L200.6 12.0M232.2 8.6L232.2 13.0M216.4 5.5L264.2 5.5M216.4 5.5L216.4 8.6M264.2 5.5L264.2 10.0M240.3 3.6L433.2 3.6M240.3 3.6L240.3 5.5M433.2 3.6L433.2 11.0M507.5 7.7L548.4 7.7M507.5 7.7L507.5 11.5M548.4 7.7L548.4 11.0M474.9 2.6L528.0 2.6M474.9 2.6L474.9 11.0M528.0 2.6L528.0 7.7M501.4 1.0L586.4 1.0M501.4 1.0L501.4 2.6M586.4 1.0L586.4 8.8M336.8 0.5L543.9 0.5M336.8 0.5L336.8 3.6M543.9 0.5L543.9 1.0" stroke="#b5b5b5" stroke-width="0.55" fill="none"/>
<text x="0" y="0" font-size="15.5" font-weight="bold" stroke="#000" stroke-width="0.45" transform="translate(56.5 274.2) scale(1.1 1)">b</text>
<text x="67.00" y="288.90" font-size="3.86" text-anchor="end" font-weight="bold" fill="#000">The north frigid zone (Sunlight)</text>
<line x1="68.30" y1="287.55" x2="69.80" y2="287.55" stroke="#333" stroke-width="0.5"/>
<rect x="70.00" y="280.00" width="16.56" height="15.60" fill="#fbbfa3"/>
<rect x="86.06" y="280.00" width="16.56" height="15.60" fill="#fcc8b0"/>
<rect x="102.12" y="280.00" width="16.56" height="15.60" fill="#fba98a"/>
<rect x="118.18" y="280.00" width="16.56" height="15.60" fill="#fcc6ae"/>
<rect x="134.24" y="280.00" width="16.56" height="15.60" fill="#fde3d8"/>
<rect x="150.30" y="280.00" width="16.56" height="15.60" fill="#fde0d2"/>
<rect x="166.36" y="280.00" width="16.06" height="15.60" fill="#fff4f0"/>
<text x="67.00" y="304.00" font-size="3.86" text-anchor="end" font-weight="bold" fill="#000">The north frigid zone (Dark)</text>
<line x1="68.30" y1="302.65" x2="69.80" y2="302.65" stroke="#333" stroke-width="0.5"/>
<rect x="70.00" y="295.10" width="16.56" height="15.60" fill="#fbb598"/>
<rect x="86.06" y="295.10" width="16.56" height="15.60" fill="#fbae90"/>
<rect x="102.12" y="295.10" width="16.56" height="15.60" fill="#fa9b76"/>
<rect x="118.18" y="295.10" width="16.56" height="15.60" fill="#fbab8e"/>
<rect x="134.24" y="295.10" width="16.56" height="15.60" fill="#feeae2"/>
<rect x="150.30" y="295.10" width="16.56" height="15.60" fill="#fde2d6"/>
<rect x="166.36" y="295.10" width="16.06" height="15.60" fill="#ffffff"/>
<text x="67.00" y="319.10" font-size="3.86" text-anchor="end" font-weight="bold" fill="#000">The north temperate zone (Sunlight)</text>
<line x1="68.30" y1="317.75" x2="69.80" y2="317.75" stroke="#333" stroke-width="0.5"/>
<rect x="70.00" y="310.20" width="16.56" height="15.60" fill="#fef1ec"/>
<rect x="86.06" y="310.20" width="16.56" height="15.60" fill="#fef2ee"/>
<rect x="102.12" y="310.20" width="16.56" height="15.60" fill="#fff6f3"/>
<rect x="118.18" y="310.20" width="16.56" height="15.60" fill="#fff6f3"/>
<rect x="134.24" y="310.20" width="16.56" height="15.60" fill="#fde8e0"/>
<rect x="150.30" y="310.20" width="16.56" height="15.60" fill="#fde8e0"/>
<rect x="166.36" y="310.20" width="16.06" height="15.60" fill="#fff8f6"/>
<text x="67.00" y="334.20" font-size="3.86" text-anchor="end" font-weight="bold" fill="#000">The north temperate zone (Dark)</text>
<line x1="68.30" y1="332.85" x2="69.80" y2="332.85" stroke="#333" stroke-width="0.5"/>
<rect x="70.00" y="325.30" width="16.56" height="15.60" fill="#fde5dc"/>
<rect x="86.06" y="325.30" width="16.56" height="15.60" fill="#fddcd0"/>
<rect x="102.12" y="325.30" width="16.56" height="15.60" fill="#feede7"/>
<rect x="118.18" y="325.30" width="16.56" height="15.60" fill="#fde3d9"/>
<rect x="134.24" y="325.30" width="16.56" height="15.60" fill="#fdd6c8"/>
<rect x="150.30" y="325.30" width="16.56" height="15.60" fill="#fdd4c4"/>
<rect x="166.36" y="325.30" width="16.06" height="15.60" fill="#feece5"/>
<text x="67.00" y="349.30" font-size="3.86" text-anchor="end" font-weight="bold" fill="#000">Tropical zone (Sunlight)</text>
<line x1="68.30" y1="347.95" x2="69.80" y2="347.95" stroke="#333" stroke-width="0.5"/>
<rect x="70.00" y="340.40" width="16.56" height="15.60" fill="#fdebe3"/>
<rect x="86.06" y="340.40" width="16.56" height="15.60" fill="#fff1ed"/>
<rect x="102.12" y="340.40" width="16.56" height="15.60" fill="#fff4f0"/>
<rect x="118.18" y="340.40" width="16.56" height="15.60" fill="#feede7"/>
<rect x="134.24" y="340.40" width="16.56" height="15.60" fill="#fdddd0"/>
<rect x="150.30" y="340.40" width="16.56" height="15.60" fill="#fde2d8"/>
<rect x="166.36" y="340.40" width="16.06" height="15.60" fill="#fcc4aa"/>
<text x="67.00" y="364.40" font-size="3.86" text-anchor="end" font-weight="bold" fill="#000">Tropical zone (Dark)</text>
<line x1="68.30" y1="363.05" x2="69.80" y2="363.05" stroke="#333" stroke-width="0.5"/>
<rect x="70.00" y="355.50" width="16.56" height="15.60" fill="#feece5"/>
<rect x="86.06" y="355.50" width="16.56" height="15.60" fill="#feeae3"/>
<rect x="102.12" y="355.50" width="16.56" height="15.60" fill="#fff3ef"/>
<rect x="118.18" y="355.50" width="16.56" height="15.60" fill="#fee8e0"/>
<rect x="134.24" y="355.50" width="16.56" height="15.60" fill="#fdd5c4"/>
<rect x="150.30" y="355.50" width="16.56" height="15.60" fill="#fde6dd"/>
<rect x="166.36" y="355.50" width="16.06" height="15.60" fill="#f98c5e"/>
<text x="67.00" y="379.50" font-size="3.86" text-anchor="end" font-weight="bold" fill="#000">The south temperate zone (Sunlight)</text>
<line x1="68.30" y1="378.15" x2="69.80" y2="378.15" stroke="#333" stroke-width="0.5"/>
<rect x="70.00" y="370.60" width="16.56" height="15.60" fill="#fff4f1"/>
<rect x="86.06" y="370.60" width="16.56" height="15.60" fill="#fff4f1"/>
<rect x="102.12" y="370.60" width="16.56" height="15.60" fill="#fffaf8"/>
<rect x="118.18" y="370.60" width="16.56" height="15.60" fill="#fff7f5"/>
<rect x="134.24" y="370.60" width="16.56" height="15.60" fill="#fff0eb"/>
<rect x="150.30" y="370.60" width="16.56" height="15.60" fill="#fff0eb"/>
<rect x="166.36" y="370.60" width="16.06" height="15.60" fill="#fff1ed"/>
<text x="67.00" y="394.60" font-size="3.86" text-anchor="end" font-weight="bold" fill="#000">The south temperate zone (Dark)</text>
<line x1="68.30" y1="393.25" x2="69.80" y2="393.25" stroke="#333" stroke-width="0.5"/>
<rect x="70.00" y="385.70" width="16.56" height="15.10" fill="#fff2ee"/>
<rect x="86.06" y="385.70" width="16.56" height="15.10" fill="#feeee8"/>
<rect x="102.12" y="385.70" width="16.56" height="15.10" fill="#fffaf8"/>
<rect x="118.18" y="385.70" width="16.56" height="15.10" fill="#fff1ec"/>
<rect x="134.24" y="385.70" width="16.56" height="15.10" fill="#fee8e0"/>
<rect x="150.30" y="385.70" width="16.56" height="15.10" fill="#fee7df"/>
<rect x="166.36" y="385.70" width="16.06" height="15.10" fill="#fff1ed"/>
<line x1="78.03" y1="400.80" x2="78.03" y2="402.30" stroke="#333" stroke-width="0.5"/>
<text x="79.03" y="405.00" font-size="3.9" text-anchor="end" font-weight="bold" fill="#000" transform="rotate(-45 79.03 405.00)">MS1</text>
<line x1="94.09" y1="400.80" x2="94.09" y2="402.30" stroke="#333" stroke-width="0.5"/>
<text x="95.09" y="405.00" font-size="3.9" text-anchor="end" font-weight="bold" fill="#000" transform="rotate(-45 95.09 405.00)">MS2</text>
<line x1="110.15" y1="400.80" x2="110.15" y2="402.30" stroke="#333" stroke-width="0.5"/>
<text x="111.15" y="405.00" font-size="3.9" text-anchor="end" font-weight="bold" fill="#000" transform="rotate(-45 111.15 405.00)">MS3</text>
<line x1="126.21" y1="400.80" x2="126.21" y2="402.30" stroke="#333" stroke-width="0.5"/>
<text x="127.21" y="405.00" font-size="3.9" text-anchor="end" font-weight="bold" fill="#000" transform="rotate(-45 127.21 405.00)">MS4</text>
<line x1="142.27" y1="400.80" x2="142.27" y2="402.30" stroke="#333" stroke-width="0.5"/>
<text x="143.27" y="405.00" font-size="3.9" text-anchor="end" font-weight="bold" fill="#000" transform="rotate(-45 143.27 405.00)">MS5</text>
<line x1="158.33" y1="400.80" x2="158.33" y2="402.30" stroke="#333" stroke-width="0.5"/>
<text x="159.33" y="405.00" font-size="3.9" text-anchor="end" font-weight="bold" fill="#000" transform="rotate(-45 159.33 405.00)">MS7</text>
<line x1="174.39" y1="400.80" x2="174.39" y2="402.30" stroke="#333" stroke-width="0.5"/>
<text x="175.39" y="405.00" font-size="3.9" text-anchor="end" font-weight="bold" fill="#000" transform="rotate(-45 175.39 405.00)">MS8</text>
<text x="185.00" y="283.60" font-size="3.86" text-anchor="start" font-weight="bold" fill="#000">Probability of distribution</text>
<defs><linearGradient id="gb" x1="0" y1="1" x2="0" y2="0"><stop offset="0" stop-color="#fff5f0"/><stop offset="0.5" stop-color="#fcc5ad"/><stop offset="1" stop-color="#f7834f"/></linearGradient></defs>
<rect x="186.20" y="286.00" width="3.90" height="43.40" fill="url(#gb)"/>
<line x1="190.10" y1="294.20" x2="191.40" y2="294.20" stroke="#222" stroke-width="0.5"/>
<text x="191.60" y="295.60" font-size="4.0" text-anchor="start" font-weight="bold" fill="#000">40%</text>
<line x1="190.10" y1="303.30" x2="191.40" y2="303.30" stroke="#222" stroke-width="0.5"/>
<text x="191.60" y="304.70" font-size="4.0" text-anchor="start" font-weight="bold" fill="#000">30%</text>
<line x1="190.10" y1="311.90" x2="191.40" y2="311.90" stroke="#222" stroke-width="0.5"/>
<text x="191.60" y="313.30" font-size="4.0" text-anchor="start" font-weight="bold" fill="#000">20%</text>
<line x1="190.10" y1="320.50" x2="191.40" y2="320.50" stroke="#222" stroke-width="0.5"/>
<text x="191.60" y="321.90" font-size="4.0" text-anchor="start" font-weight="bold" fill="#000">10%</text>
<line x1="190.10" y1="329.00" x2="191.40" y2="329.00" stroke="#222" stroke-width="0.5"/>
<text x="191.60" y="330.40" font-size="4.0" text-anchor="start" font-weight="bold" fill="#000">0%</text>
<text x="0" y="0" font-size="15.5" font-weight="bold" stroke="#000" stroke-width="0.45" transform="translate(231.5 273.6) scale(1.1 1)">c</text>
<rect x="241.05" y="279.75" width="14.30" height="15.40" fill="#fff" stroke="#ebebeb" stroke-width="0.5"/>
<rect x="246.72" y="285.97" width="2.96" height="2.96" fill="#7ec6bd"/>
<rect x="255.85" y="279.75" width="14.30" height="15.40" fill="#fff" stroke="#ebebeb" stroke-width="0.5"/>
<rect x="261.52" y="285.97" width="2.96" height="2.96" fill="#7ec6bd"/>
<rect x="270.65" y="279.75" width="14.30" height="15.40" fill="#fff" stroke="#ebebeb" stroke-width="0.5"/>
<rect x="276.32" y="285.97" width="2.96" height="2.96" fill="#7ec6bd"/>
<rect x="285.45" y="279.75" width="14.30" height="15.40" fill="#fff" stroke="#ebebeb" stroke-width="0.5"/>
<rect x="291.12" y="285.97" width="2.96" height="2.96" fill="#7ec6bd"/>
<rect x="300.25" y="279.75" width="14.30" height="15.40" fill="#fff" stroke="#ebebeb" stroke-width="0.5"/>
<rect x="305.92" y="285.97" width="2.96" height="2.96" fill="#7ec6bd"/>
<rect x="315.05" y="279.75" width="14.30" height="15.40" fill="#fff" stroke="#ebebeb" stroke-width="0.5"/>
<rect x="318.50" y="283.75" width="7.40" height="7.40" fill="#d8ecea"/>
<rect x="329.85" y="279.75" width="14.30" height="15.40" fill="#fff" stroke="#ebebeb" stroke-width="0.5"/>
<rect x="331.67" y="282.12" width="10.66" height="10.66" fill="#fddcd3"/>
<rect x="344.65" y="279.75" width="14.30" height="15.40" fill="#fff" stroke="#ebebeb" stroke-width="0.5"/>
<rect x="345.00" y="280.10" width="13.90" height="15.00" fill="#fa7a57"/>
<rect x="255.85" y="295.65" width="14.30" height="15.40" fill="#fff" stroke="#ebebeb" stroke-width="0.5"/>
<rect x="261.52" y="301.87" width="2.96" height="2.96" fill="#7ec6bd"/>
<rect x="270.65" y="295.65" width="14.30" height="15.40" fill="#fff" stroke="#ebebeb" stroke-width="0.5"/>
<rect x="276.32" y="301.87" width="2.96" height="2.96" fill="#7ec6bd"/>
<rect x="285.45" y="295.65" width="14.30" height="15.40" fill="#fff" stroke="#ebebeb" stroke-width="0.5"/>
<rect x="291.12" y="301.87" width="2.96" height="2.96" fill="#7ec6bd"/>
<rect x="300.25" y="295.65" width="14.30" height="15.40" fill="#fff" stroke="#ebebeb" stroke-width="0.5"/>
<rect x="305.92" y="301.87" width="2.96" height="2.96" fill="#7ec6bd"/>
<rect x="315.05" y="295.65" width="14.30" height="15.40" fill="#fff" stroke="#ebebeb" stroke-width="0.5"/>
<rect x="318.50" y="299.65" width="7.40" height="7.40" fill="#d8ecea"/>
<rect x="329.85" y="295.65" width="14.30" height="15.40" fill="#fff" stroke="#ebebeb" stroke-width="0.5"/>
<rect x="331.67" y="298.02" width="10.66" height="10.66" fill="#fddbd2"/>
<rect x="344.65" y="295.65" width="14.30" height="15.40" fill="#fff" stroke="#ebebeb" stroke-width="0.5"/>
<rect x="345.00" y="296.00" width="13.90" height="15.00" fill="#fa7a57"/>
<rect x="270.65" y="311.55" width="14.30" height="15.40" fill="#fff" stroke="#ebebeb" stroke-width="0.5"/>
<rect x="276.32" y="317.77" width="2.96" height="2.96" fill="#7ec6bd"/>
<rect x="285.45" y="311.55" width="14.30" height="15.40" fill="#fff" stroke="#ebebeb" stroke-width="0.5"/>
<rect x="291.12" y="317.77" width="2.96" height="2.96" fill="#7ec6bd"/>
<rect x="300.25" y="311.55" width="14.30" height="15.40" fill="#fff" stroke="#ebebeb" stroke-width="0.5"/>
<rect x="305.92" y="317.77" width="2.96" height="2.96" fill="#7ec6bd"/>
<rect x="315.05" y="311.55" width="14.30" height="15.40" fill="#fff" stroke="#ebebeb" stroke-width="0.5"/>
<rect x="318.50" y="315.55" width="7.40" height="7.40" fill="#d8ecea"/>
<rect x="329.85" y="311.55" width="14.30" height="15.40" fill="#fff" stroke="#ebebeb" stroke-width="0.5"/>
<rect x="331.67" y="313.92" width="10.66" height="10.66" fill="#fddcd4"/>
<rect x="344.65" y="311.55" width="14.30" height="15.40" fill="#fff" stroke="#ebebeb" stroke-width="0.5"/>
<rect x="345.00" y="311.90" width="13.90" height="15.00" fill="#fa7a57"/>
<rect x="285.45" y="327.45" width="14.30" height="15.40" fill="#fff" stroke="#ebebeb" stroke-width="0.5"/>
<rect x="291.12" y="333.67" width="2.96" height="2.96" fill="#7ec6bd"/>
<rect x="300.25" y="327.45" width="14.30" height="15.40" fill="#fff" stroke="#ebebeb" stroke-width="0.5"/>
<rect x="305.92" y="333.67" width="2.96" height="2.96" fill="#7ec6bd"/>
<rect x="315.05" y="327.45" width="14.30" height="15.40" fill="#fff" stroke="#ebebeb" stroke-width="0.5"/>
<rect x="318.50" y="331.45" width="7.40" height="7.40" fill="#d8ecea"/>
<rect x="329.85" y="327.45" width="14.30" height="15.40" fill="#fff" stroke="#ebebeb" stroke-width="0.5"/>
<rect x="331.67" y="329.82" width="10.66" height="10.66" fill="#fde3dc"/>
<rect x="344.65" y="327.45" width="14.30" height="15.40" fill="#fff" stroke="#ebebeb" stroke-width="0.5"/>
<rect x="345.00" y="327.80" width="13.90" height="15.00" fill="#fa7a57"/>
<rect x="300.25" y="343.35" width="14.30" height="15.40" fill="#fff" stroke="#ebebeb" stroke-width="0.5"/>
<rect x="305.92" y="349.57" width="2.96" height="2.96" fill="#7ec6bd"/>
<rect x="315.05" y="343.35" width="14.30" height="15.40" fill="#fff" stroke="#ebebeb" stroke-width="0.5"/>
<rect x="318.50" y="347.35" width="7.40" height="7.40" fill="#d8ecea"/>
<rect x="329.85" y="343.35" width="14.30" height="15.40" fill="#fff" stroke="#ebebeb" stroke-width="0.5"/>
<rect x="331.67" y="345.72" width="10.66" height="10.66" fill="#fddfd7"/>
<rect x="344.65" y="343.35" width="14.30" height="15.40" fill="#fff" stroke="#ebebeb" stroke-width="0.5"/>
<rect x="345.00" y="343.70" width="13.90" height="15.00" fill="#fa7a57"/>
<rect x="315.05" y="359.25" width="14.30" height="15.40" fill="#fff" stroke="#ebebeb" stroke-width="0.5"/>
<rect x="320.72" y="365.47" width="2.96" height="2.96" fill="#7ec6bd"/>
<rect x="329.85" y="359.25" width="14.30" height="15.40" fill="#fff" stroke="#ebebeb" stroke-width="0.5"/>
<rect x="332.56" y="362.51" width="8.88" height="8.88" fill="#f0f7f7"/>
<rect x="344.65" y="359.25" width="14.30" height="15.40" fill="#fff" stroke="#ebebeb" stroke-width="0.5"/>
<rect x="346.47" y="361.62" width="10.66" height="10.66" fill="#fcd6ca"/>
<rect x="329.85" y="375.15" width="14.30" height="15.40" fill="#fff" stroke="#ebebeb" stroke-width="0.5"/>
<rect x="335.52" y="381.37" width="2.96" height="2.96" fill="#7ec6bd"/>
<rect x="344.65" y="375.15" width="14.30" height="15.40" fill="#fff" stroke="#ebebeb" stroke-width="0.5"/>
<rect x="345.51" y="376.56" width="12.58" height="12.58" fill="#fbac94"/>
<rect x="344.65" y="391.05" width="14.30" height="15.40" fill="#fff" stroke="#ebebeb" stroke-width="0.5"/>
<rect x="350.32" y="397.27" width="2.96" height="2.96" fill="#7ec6bd"/>
<line x1="248.20" y1="277.00" x2="248.20" y2="279.00" stroke="#333" stroke-width="0.5"/>
<text x="248.10" y="277.40" font-size="3.9" text-anchor="end" font-weight="bold" fill="#000" transform="rotate(45 248.10 277.40)">MS1</text>
<line x1="263.00" y1="277.00" x2="263.00" y2="279.00" stroke="#333" stroke-width="0.5"/>
<text x="262.90" y="277.40" font-size="3.9" text-anchor="end" font-weight="bold" fill="#000" transform="rotate(45 262.90 277.40)">MS2</text>
<line x1="277.80" y1="277.00" x2="277.80" y2="279.00" stroke="#333" stroke-width="0.5"/>
<text x="277.70" y="277.40" font-size="3.9" text-anchor="end" font-weight="bold" fill="#000" transform="rotate(45 277.70 277.40)">MS3</text>
<line x1="292.60" y1="277.00" x2="292.60" y2="279.00" stroke="#333" stroke-width="0.5"/>
<text x="292.50" y="277.40" font-size="3.9" text-anchor="end" font-weight="bold" fill="#000" transform="rotate(45 292.50 277.40)">MS4</text>
<line x1="307.40" y1="277.00" x2="307.40" y2="279.00" stroke="#333" stroke-width="0.5"/>
<text x="307.30" y="277.40" font-size="3.9" text-anchor="end" font-weight="bold" fill="#000" transform="rotate(45 307.30 277.40)">MS5</text>
<line x1="322.20" y1="277.00" x2="322.20" y2="279.00" stroke="#333" stroke-width="0.5"/>
<text x="322.10" y="277.40" font-size="3.9" text-anchor="end" font-weight="bold" fill="#000" transform="rotate(45 322.10 277.40)">MS6</text>
<line x1="337.00" y1="277.00" x2="337.00" y2="279.00" stroke="#333" stroke-width="0.5"/>
<text x="336.90" y="277.40" font-size="3.9" text-anchor="end" font-weight="bold" fill="#000" transform="rotate(45 336.90 277.40)">MS7</text>
<line x1="351.80" y1="277.00" x2="351.80" y2="279.00" stroke="#333" stroke-width="0.5"/>
<text x="351.70" y="277.40" font-size="3.9" text-anchor="end" font-weight="bold" fill="#000" transform="rotate(45 351.70 277.40)">MS8</text>
<line x1="359.40" y1="287.45" x2="361.20" y2="287.45" stroke="#333" stroke-width="0.5"/>
<text x="361.90" y="288.85" font-size="3.9" text-anchor="start" font-weight="bold" fill="#000">MS1</text>
<line x1="359.40" y1="303.35" x2="361.20" y2="303.35" stroke="#333" stroke-width="0.5"/>
<text x="361.90" y="304.75" font-size="3.9" text-anchor="start" font-weight="bold" fill="#000">MS2</text>
<line x1="359.40" y1="319.25" x2="361.20" y2="319.25" stroke="#333" stroke-width="0.5"/>
<text x="361.90" y="320.65" font-size="3.9" text-anchor="start" font-weight="bold" fill="#000">MS3</text>
<line x1="359.40" y1="335.15" x2="361.20" y2="335.15" stroke="#333" stroke-width="0.5"/>
<text x="361.90" y="336.55" font-size="3.9" text-anchor="start" font-weight="bold" fill="#000">MS4</text>
<line x1="359.40" y1="351.05" x2="361.20" y2="351.05" stroke="#333" stroke-width="0.5"/>
<text x="361.90" y="352.45" font-size="3.9" text-anchor="start" font-weight="bold" fill="#000">MS5</text>
<line x1="359.40" y1="366.95" x2="361.20" y2="366.95" stroke="#333" stroke-width="0.5"/>
<text x="361.90" y="368.35" font-size="3.9" text-anchor="start" font-weight="bold" fill="#000">MS6</text>
<line x1="359.40" y1="382.85" x2="361.20" y2="382.85" stroke="#333" stroke-width="0.5"/>
<text x="361.90" y="384.25" font-size="3.9" text-anchor="start" font-weight="bold" fill="#000">MS7</text>
<line x1="359.40" y1="398.75" x2="361.20" y2="398.75" stroke="#333" stroke-width="0.5"/>
<text x="361.90" y="400.15" font-size="3.9" text-anchor="start" font-weight="bold" fill="#000">MS8</text>
<text x="240.30" y="395.80" font-size="3.86" text-anchor="start" font-weight="bold" fill="#000">Euclidean distance</text>
<defs><linearGradient id="gc" x1="0" y1="0" x2="1" y2="0"><stop offset="0" stop-color="#77c3ba"/><stop offset="0.48" stop-color="#ffffff"/><stop offset="1" stop-color="#f9653f"/></linearGradient></defs>
<rect x="243.00" y="398.40" width="45.90" height="4.20" fill="url(#gc)"/>
<line x1="243.30" y1="402.60" x2="243.30" y2="403.60" stroke="#333" stroke-width="0.4"/>
<text x="243.30" y="407.00" font-size="3.6" text-anchor="middle" fill="#000">0</text>
<line x1="257.70" y1="402.60" x2="257.70" y2="403.60" stroke="#333" stroke-width="0.4"/>
<text x="257.70" y="407.00" font-size="3.6" text-anchor="middle" fill="#000">0.01</text>
<line x1="272.40" y1="402.60" x2="272.40" y2="403.60" stroke="#333" stroke-width="0.4"/>
<text x="272.40" y="407.00" font-size="3.6" text-anchor="middle" fill="#000">0.02</text>
<line x1="286.40" y1="402.60" x2="286.40" y2="403.60" stroke="#333" stroke-width="0.4"/>
<text x="286.40" y="407.00" font-size="3.6" text-anchor="middle" fill="#000">0.03</text>
<rect x="372.5" y="270.5" width="38.0" height="137.6" fill="#fff" stroke="#cfcfcf" stroke-width="0.6"/>
<rect x="372.5" y="270.5" width="38.0" height="6.8" fill="#fff" stroke="#cfcfcf" stroke-width="0.6"/>
<text x="391.50" y="275.10" font-size="2.75" text-anchor="middle" fill="#222">Cultivation potential score</text>
<rect x="372.80" y="281.55" width="3.20" height="11.40" fill="#f9a233"/>
<rect x="372.80" y="313.35" width="9.30" height="11.40" fill="#d35510"/>
<rect x="372.80" y="329.25" width="34.30" height="11.40" fill="#6b2509"/>
<rect x="372.80" y="345.15" width="0.40" height="11.40" fill="#ffe08a"/>
<rect x="372.80" y="361.05" width="14.10" height="11.40" fill="#993209"/>
<rect x="372.80" y="376.95" width="2.50" height="11.40" fill="#fdc35b"/>
<rect x="372.80" y="392.85" width="5.10" height="11.40" fill="#f07b21"/>
<line x1="372.60" y1="408.10" x2="372.60" y2="409.40" stroke="#333" stroke-width="0.4"/>
<text x="373.90" y="411.60" font-size="4.2" text-anchor="end" fill="#222" transform="rotate(-45 373.90 411.60)">0</text>
<line x1="382.50" y1="408.10" x2="382.50" y2="409.40" stroke="#333" stroke-width="0.4"/>
<text x="383.80" y="411.60" font-size="4.2" text-anchor="end" fill="#222" transform="rotate(-45 383.80 411.60)">0.2</text>
<line x1="392.40" y1="408.10" x2="392.40" y2="409.40" stroke="#333" stroke-width="0.4"/>
<text x="393.70" y="411.60" font-size="4.2" text-anchor="end" fill="#222" transform="rotate(-45 393.70 411.60)">0.4</text>
<line x1="402.30" y1="408.10" x2="402.30" y2="409.40" stroke="#333" stroke-width="0.4"/>
<text x="403.60" y="411.60" font-size="4.2" text-anchor="end" fill="#222" transform="rotate(-45 403.60 411.60)">0.6</text>
<text x="0" y="0" font-size="15.5" font-weight="bold" stroke="#000" stroke-width="0.45" transform="translate(467.8 273.6) scale(1.1 1)">d</text>
<rect x="482.4" y="271.3" width="122.30" height="139.10" fill="#fff" stroke="#cfcfcf" stroke-width="0.6"/>
<rect x="482.4" y="271.3" width="122.30" height="6.9" fill="#fff" stroke="#cfcfcf" stroke-width="0.6"/>
<text x="543.55" y="276.30" font-size="3.8" text-anchor="middle" fill="#222">Importance</text>
<line x1="482.40" y1="278.20" x2="482.40" y2="410.40" stroke="#ececec" stroke-width="0.5"/>
<line x1="500.75" y1="278.20" x2="500.75" y2="410.40" stroke="#ececec" stroke-width="0.5"/>
<line x1="519.10" y1="278.20" x2="519.10" y2="410.40" stroke="#ececec" stroke-width="0.5"/>
<line x1="537.45" y1="278.20" x2="537.45" y2="410.40" stroke="#ececec" stroke-width="0.5"/>
<line x1="555.80" y1="278.20" x2="555.80" y2="410.40" stroke="#ececec" stroke-width="0.5"/>
<line x1="574.15" y1="278.20" x2="574.15" y2="410.40" stroke="#ececec" stroke-width="0.5"/>
<line x1="592.50" y1="278.20" x2="592.50" y2="410.40" stroke="#ececec" stroke-width="0.5"/>
<rect x="482.40" y="283.30" width="111.40" height="11.60" fill="#66c2a5"/>
<line x1="480.60" y1="289.00" x2="482.40" y2="289.00" stroke="#333" stroke-width="0.5"/>
<text x="480.40" y="290.35" font-size="3.75" text-anchor="end" font-weight="bold" fill="#000">Phthalate transport system</text>
<rect x="482.40" y="299.12" width="100.40" height="11.60" fill="#fc8d62"/>
<line x1="480.60" y1="304.82" x2="482.40" y2="304.82" stroke="#333" stroke-width="0.5"/>
<text x="480.40" y="306.17" font-size="3.75" text-anchor="end" font-weight="bold" fill="#000">Sec (secretion) system</text>
<rect x="482.40" y="314.94" width="92.20" height="11.60" fill="#fc8d62"/>
<line x1="480.60" y1="320.64" x2="482.40" y2="320.64" stroke="#333" stroke-width="0.5"/>
<text x="480.40" y="321.99" font-size="3.75" text-anchor="end" font-weight="bold" fill="#000">S-Layer protein transport system</text>
<rect x="482.40" y="330.76" width="95.50" height="11.60" fill="#8da0cb"/>
<line x1="480.60" y1="336.46" x2="482.40" y2="336.46" stroke="#333" stroke-width="0.5"/>
<text x="480.40" y="337.81" font-size="3.75" text-anchor="end" font-weight="bold" fill="#000">Ribosome, archaea</text>
<rect x="482.40" y="346.58" width="82.30" height="11.60" fill="#8da0cb"/>
<line x1="480.60" y1="352.28" x2="482.40" y2="352.28" stroke="#333" stroke-width="0.5"/>
<text x="480.40" y="353.63" font-size="3.75" text-anchor="end" font-weight="bold" fill="#000">Ribosome, bacteria</text>
<rect x="482.40" y="362.40" width="77.40" height="11.60" fill="#e78ac3"/>
<line x1="480.60" y1="368.10" x2="482.40" y2="368.10" stroke="#333" stroke-width="0.5"/>
<text x="480.40" y="369.45" font-size="3.75" text-anchor="end" font-weight="bold" fill="#000">RNA degradosome</text>
<rect x="482.40" y="378.22" width="75.90" height="11.60" fill="#a6d854"/>
<line x1="480.60" y1="383.92" x2="482.40" y2="383.92" stroke="#333" stroke-width="0.5"/>
<text x="480.40" y="385.27" font-size="3.75" text-anchor="end" font-weight="bold" fill="#000">ABC-2 type transport system</text>
<rect x="482.40" y="394.04" width="57.50" height="11.60" fill="#ffd92f"/>
<line x1="480.60" y1="399.74" x2="482.40" y2="399.74" stroke="#333" stroke-width="0.5"/>
<text x="480.40" y="401.09" font-size="3.75" text-anchor="end" font-weight="bold" fill="#000">DNA polymerase III complex, bacteria</text>
<line x1="482.40" y1="410.40" x2="482.40" y2="411.80" stroke="#333" stroke-width="0.4"/>
<text x="483.60" y="413.80" font-size="4.2" text-anchor="end" fill="#333" transform="rotate(-45 483.60 413.80)">0</text>
<line x1="500.75" y1="410.40" x2="500.75" y2="411.80" stroke="#333" stroke-width="0.4"/>
<text x="501.95" y="413.80" font-size="4.2" text-anchor="end" fill="#333" transform="rotate(-45 501.95 413.80)">0.05</text>
<line x1="519.10" y1="410.40" x2="519.10" y2="411.80" stroke="#333" stroke-width="0.4"/>
<text x="520.30" y="413.80" font-size="4.2" text-anchor="end" fill="#333" transform="rotate(-45 520.30 413.80)">0.1</text>
<line x1="537.45" y1="410.40" x2="537.45" y2="411.80" stroke="#333" stroke-width="0.4"/>
<text x="538.65" y="413.80" font-size="4.2" text-anchor="end" fill="#333" transform="rotate(-45 538.65 413.80)">0.15</text>
<line x1="555.80" y1="410.40" x2="555.80" y2="411.80" stroke="#333" stroke-width="0.4"/>
<text x="557.00" y="413.80" font-size="4.2" text-anchor="end" fill="#333" transform="rotate(-45 557.00 413.80)">0.2</text>
<line x1="574.15" y1="410.40" x2="574.15" y2="411.80" stroke="#333" stroke-width="0.4"/>
<text x="575.35" y="413.80" font-size="4.2" text-anchor="end" fill="#333" transform="rotate(-45 575.35 413.80)">0.25</text>
<line x1="592.50" y1="410.40" x2="592.50" y2="411.80" stroke="#333" stroke-width="0.4"/>
<text x="593.70" y="413.80" font-size="4.2" text-anchor="end" fill="#333" transform="rotate(-45 593.70 413.80)">0.3</text>
<text x="607.80" y="276.30" font-size="3.9" text-anchor="start" font-weight="bold" fill="#000">Module Category</text>
<rect x="608.40" y="279.00" width="5.80" height="5.80" fill="#66c2a5"/>
<text x="615.60" y="283.25" font-size="3.8" text-anchor="start" fill="#222">Mineral and organic ion transport system</text>
<rect x="608.40" y="286.00" width="5.80" height="5.80" fill="#fc8d62"/>
<text x="615.60" y="290.25" font-size="3.8" text-anchor="start" fill="#222">Bacterial secretion system</text>
<rect x="608.40" y="293.00" width="5.80" height="5.80" fill="#8da0cb"/>
<text x="615.60" y="297.25" font-size="3.8" text-anchor="start" fill="#222">Ribosome</text>
<rect x="608.40" y="300.00" width="5.80" height="5.80" fill="#e78ac3"/>
<text x="615.60" y="304.25" font-size="3.8" text-anchor="start" fill="#222">RNA processing</text>
<rect x="608.40" y="307.00" width="5.80" height="5.80" fill="#a6d854"/>
<text x="615.60" y="311.25" font-size="3.8" text-anchor="start" fill="#222">ABC-2 type and other transport systems</text>
<rect x="608.40" y="314.00" width="5.80" height="5.80" fill="#ffd92f"/>
<text x="615.60" y="318.25" font-size="3.8" text-anchor="start" fill="#222">DNA polymerase</text>
<text x="0" y="0" font-size="15.5" font-weight="bold" stroke="#000" stroke-width="0.45" transform="translate(56.5 422.9) scale(1.1 1)">e</text>
<rect x="69.20" y="430.00" width="155.40" height="7.00" fill="#66c2a5"/>
<rect x="224.60" y="430.00" width="111.00" height="7.00" fill="#fc8d62"/>
<rect x="335.60" y="430.00" width="22.20" height="7.00" fill="#8da0cb"/>
<rect x="357.80" y="430.00" width="44.40" height="7.00" fill="#e78ac3"/>
<rect x="402.20" y="430.00" width="177.60" height="7.00" fill="#a6d854"/>
<rect x="579.80" y="430.00" width="14.80" height="7.00" fill="#ffd92f"/>
<rect x="69.20" y="437.00" width="7.90" height="12.82" fill="#f78cb1"/>
<rect x="76.60" y="437.00" width="7.90" height="12.82" fill="#feeae6"/>
<rect x="84.00" y="437.00" width="7.90" height="12.82" fill="#fff1ee"/>
<rect x="91.40" y="437.00" width="7.90" height="12.82" fill="#fee7e3"/>
<rect x="98.80" y="437.00" width="7.90" height="12.82" fill="#feece9"/>
<rect x="106.20" y="437.00" width="7.90" height="12.82" fill="#ffefeb"/>
<rect x="113.60" y="437.00" width="7.90" height="12.82" fill="#fee4e1"/>
<rect x="121.00" y="437.00" width="7.90" height="12.82" fill="#ffefeb"/>
<rect x="128.40" y="437.00" width="7.90" height="12.82" fill="#fdd7d5"/>
<rect x="135.80" y="437.00" width="7.90" height="12.82" fill="#fff1ee"/>
<rect x="143.20" y="437.00" width="7.90" height="12.82" fill="#ffefeb"/>
<rect x="150.60" y="437.00" width="7.90" height="12.82" fill="#ffefeb"/>
<rect x="158.00" y="437.00" width="7.90" height="12.82" fill="#ffefeb"/>
<rect x="165.40" y="437.00" width="7.90" height="12.82" fill="#ffefeb"/>
<rect x="172.80" y="437.00" width="7.90" height="12.82" fill="#ffefeb"/>
<rect x="180.20" y="437.00" width="7.90" height="12.82" fill="#feece9"/>
<rect x="187.60" y="437.00" width="7.90" height="12.82" fill="#feece9"/>
<rect x="195.00" y="437.00" width="7.90" height="12.82" fill="#ffefeb"/>
<rect x="202.40" y="437.00" width="7.90" height="12.82" fill="#fff3f0"/>
<rect x="209.80" y="437.00" width="7.90" height="12.82" fill="#ffefeb"/>
<rect x="217.20" y="437.00" width="7.90" height="12.82" fill="#ffefeb"/>
<rect x="224.60" y="437.00" width="7.90" height="12.82" fill="#f275aa"/>
<rect x="232.00" y="437.00" width="7.90" height="12.82" fill="#f275aa"/>
<rect x="239.40" y="437.00" width="7.90" height="12.82" fill="#f8a0b8"/>
<rect x="246.80" y="437.00" width="7.90" height="12.82" fill="#fff1ee"/>
<rect x="254.20" y="437.00" width="7.90" height="12.82" fill="#fff1ee"/>
<rect x="261.60" y="437.00" width="7.90" height="12.82" fill="#fff1ee"/>
<rect x="269.00" y="437.00" width="7.90" height="12.82" fill="#fff1ee"/>
<rect x="276.40" y="437.00" width="7.90" height="12.82" fill="#fff1ee"/>
<rect x="283.80" y="437.00" width="7.90" height="12.82" fill="#f9b0bf"/>
<rect x="291.20" y="437.00" width="7.90" height="12.82" fill="#fff1ee"/>
<rect x="298.60" y="437.00" width="7.90" height="12.82" fill="#fff1ee"/>
<rect x="306.00" y="437.00" width="7.90" height="12.82" fill="#fff1ee"/>
<rect x="313.40" y="437.00" width="7.90" height="12.82" fill="#fff1ee"/>
<rect x="320.80" y="437.00" width="7.90" height="12.82" fill="#fff1ee"/>
<rect x="328.20" y="437.00" width="7.90" height="12.82" fill="#fff1ee"/>
<rect x="335.60" y="437.00" width="7.90" height="12.82" fill="#f275aa"/>
<rect x="343.00" y="437.00" width="7.90" height="12.82" fill="#ef66a5"/>
<rect x="350.40" y="437.00" width="7.90" height="12.82" fill="#ef66a5"/>
<rect x="357.80" y="437.00" width="7.90" height="12.82" fill="#f794b4"/>
<rect x="365.20" y="437.00" width="7.90" height="12.82" fill="#f8a0b8"/>
<rect x="372.60" y="437.00" width="7.90" height="12.82" fill="#f8a0b8"/>
<rect x="380.00" y="437.00" width="7.90" height="12.82" fill="#f794b4"/>
<rect x="387.40" y="437.00" width="7.90" height="12.82" fill="#fff3f0"/>
<rect x="394.80" y="437.00" width="7.90" height="12.82" fill="#fff3f0"/>
<rect x="402.20" y="437.00" width="7.90" height="12.82" fill="#f794b4"/>
<rect x="409.60" y="437.00" width="7.90" height="12.82" fill="#fbbdc5"/>
<rect x="417.00" y="437.00" width="7.90" height="12.82" fill="#f78cb1"/>
<rect x="424.40" y="437.00" width="7.90" height="12.82" fill="#feece9"/>
<rect x="431.80" y="437.00" width="7.90" height="12.82" fill="#fff1ee"/>
<rect x="439.20" y="437.00" width="7.90" height="12.82" fill="#fff1ee"/>
<rect x="446.60" y="437.00" width="7.90" height="12.82" fill="#ffefeb"/>
<rect x="454.00" y="437.00" width="7.90" height="12.82" fill="#ffefeb"/>
<rect x="461.40" y="437.00" width="7.90" height="12.82" fill="#fdd7d5"/>
<rect x="468.80" y="437.00" width="7.90" height="12.82" fill="#fff1ee"/>
<rect x="476.20" y="437.00" width="7.90" height="12.82" fill="#fff3f0"/>
<rect x="483.60" y="437.00" width="7.90" height="12.82" fill="#fff1ee"/>
<rect x="491.00" y="437.00" width="7.90" height="12.82" fill="#fff1ee"/>
<rect x="498.40" y="437.00" width="7.90" height="12.82" fill="#feece9"/>
<rect x="505.80" y="437.00" width="7.90" height="12.82" fill="#fff3f0"/>
<rect x="513.20" y="437.00" width="7.90" height="12.82" fill="#ffefeb"/>
<rect x="520.60" y="437.00" width="7.90" height="12.82" fill="#fff1ee"/>
<rect x="528.00" y="437.00" width="7.90" height="12.82" fill="#ffefeb"/>
<rect x="535.40" y="437.00" width="7.90" height="12.82" fill="#ffefeb"/>
<rect x="542.80" y="437.00" width="7.90" height="12.82" fill="#fff1ee"/>
<rect x="550.20" y="437.00" width="7.90" height="12.82" fill="#fff3f0"/>
<rect x="557.60" y="437.00" width="7.90" height="12.82" fill="#fff1ee"/>
<rect x="565.00" y="437.00" width="7.90" height="12.82" fill="#ffefeb"/>
<rect x="572.40" y="437.00" width="7.90" height="12.82" fill="#fff1ee"/>
<rect x="579.80" y="437.00" width="7.90" height="12.82" fill="#fcc8cb"/>
<rect x="587.20" y="437.00" width="7.40" height="12.82" fill="#f8a0b8"/>
<rect x="69.20" y="449.22" width="7.90" height="12.82" fill="#f9b0bf"/>
<rect x="76.60" y="449.22" width="7.90" height="12.82" fill="#fff1ee"/>
<rect x="84.00" y="449.22" width="7.90" height="12.82" fill="#fff3f0"/>
<rect x="91.40" y="449.22" width="7.90" height="12.82" fill="#fff1ee"/>
<rect x="98.80" y="449.22" width="7.90" height="12.82" fill="#fff1ee"/>
<rect x="106.20" y="449.22" width="7.90" height="12.82" fill="#fff1ee"/>
<rect x="113.60" y="449.22" width="7.90" height="12.82" fill="#fff1ee"/>
<rect x="121.00" y="449.22" width="7.90" height="12.82" fill="#fff1ee"/>
<rect x="128.40" y="449.22" width="7.90" height="12.82" fill="#fff1ee"/>
<rect x="135.80" y="449.22" width="7.90" height="12.82" fill="#fff1ee"/>
<rect x="143.20" y="449.22" width="7.90" height="12.82" fill="#ffefeb"/>
<rect x="150.60" y="449.22" width="7.90" height="12.82" fill="#fff1ee"/>
<rect x="158.00" y="449.22" width="7.90" height="12.82" fill="#fff1ee"/>
<rect x="165.40" y="449.22" width="7.90" height="12.82" fill="#ffefeb"/>
<rect x="172.80" y="449.22" width="7.90" height="12.82" fill="#feece9"/>
<rect x="180.20" y="449.22" width="7.90" height="12.82" fill="#ffefeb"/>
<rect x="187.60" y="449.22" width="7.90" height="12.82" fill="#fff1ee"/>
<rect x="195.00" y="449.22" width="7.90" height="12.82" fill="#ffefeb"/>
<rect x="202.40" y="449.22" width="7.90" height="12.82" fill="#ffefeb"/>
<rect x="209.80" y="449.22" width="7.90" height="12.82" fill="#fff3f0"/>
<rect x="217.20" y="449.22" width="7.90" height="12.82" fill="#fff1ee"/>
<rect x="224.60" y="449.22" width="7.90" height="12.82" fill="#f9b0bf"/>
<rect x="232.00" y="449.22" width="7.90" height="12.82" fill="#fab8c3"/>
<rect x="239.40" y="449.22" width="7.90" height="12.82" fill="#fcc8cb"/>
<rect x="246.80" y="449.22" width="7.90" height="12.82" fill="#fff1ee"/>
<rect x="254.20" y="449.22" width="7.90" height="12.82" fill="#fff1ee"/>
<rect x="261.60" y="449.22" width="7.90" height="12.82" fill="#fff1ee"/>
<rect x="269.00" y="449.22" width="7.90" height="12.82" fill="#fff1ee"/>
<rect x="276.40" y="449.22" width="7.90" height="12.82" fill="#fff1ee"/>
<rect x="283.80" y="449.22" width="7.90" height="12.82" fill="#fccfcf"/>
<rect x="291.20" y="449.22" width="7.90" height="12.82" fill="#fff1ee"/>
<rect x="298.60" y="449.22" width="7.90" height="12.82" fill="#fff1ee"/>
<rect x="306.00" y="449.22" width="7.90" height="12.82" fill="#fff1ee"/>
<rect x="313.40" y="449.22" width="7.90" height="12.82" fill="#fff1ee"/>
<rect x="320.80" y="449.22" width="7.90" height="12.82" fill="#fff1ee"/>
<rect x="328.20" y="449.22" width="7.90" height="12.82" fill="#fff1ee"/>
<rect x="335.60" y="449.22" width="7.90" height="12.82" fill="#fab8c3"/>
<rect x="343.00" y="449.22" width="7.90" height="12.82" fill="#fab8c3"/>
<rect x="350.40" y="449.22" width="7.90" height="12.82" fill="#fab8c3"/>
<rect x="357.80" y="449.22" width="7.90" height="12.82" fill="#fab8c3"/>
<rect x="365.20" y="449.22" width="7.90" height="12.82" fill="#fab8c3"/>
<rect x="372.60" y="449.22" width="7.90" height="12.82" fill="#fbbdc5"/>
<rect x="380.00" y="449.22" width="7.90" height="12.82" fill="#fcc8cb"/>
<rect x="387.40" y="449.22" width="7.90" height="12.82" fill="#fccfcf"/>
<rect x="394.80" y="449.22" width="7.90" height="12.82" fill="#fcd4d3"/>
<rect x="402.20" y="449.22" width="7.90" height="12.82" fill="#fab8c3"/>
<rect x="409.60" y="449.22" width="7.90" height="12.82" fill="#fff1ee"/>
<rect x="417.00" y="449.22" width="7.90" height="12.82" fill="#fff1ee"/>
<rect x="424.40" y="449.22" width="7.90" height="12.82" fill="#fff1ee"/>
<rect x="431.80" y="449.22" width="7.90" height="12.82" fill="#fff1ee"/>
<rect x="439.20" y="449.22" width="7.90" height="12.82" fill="#fff1ee"/>
<rect x="446.60" y="449.22" width="7.90" height="12.82" fill="#fff1ee"/>
<rect x="454.00" y="449.22" width="7.90" height="12.82" fill="#fff1ee"/>
<rect x="461.40" y="449.22" width="7.90" height="12.82" fill="#fff1ee"/>
<rect x="468.80" y="449.22" width="7.90" height="12.82" fill="#ffefeb"/>
<rect x="476.20" y="449.22" width="7.90" height="12.82" fill="#fff1ee"/>
<rect x="483.60" y="449.22" width="7.90" height="12.82" fill="#ffefeb"/>
<rect x="491.00" y="449.22" width="7.90" height="12.82" fill="#fff1ee"/>
<rect x="498.40" y="449.22" width="7.90" height="12.82" fill="#fff1ee"/>
<rect x="505.80" y="449.22" width="7.90" height="12.82" fill="#fff3f0"/>
<rect x="513.20" y="449.22" width="7.90" height="12.82" fill="#fff1ee"/>
<rect x="520.60" y="449.22" width="7.90" height="12.82" fill="#ffefeb"/>
<rect x="528.00" y="449.22" width="7.90" height="12.82" fill="#fff1ee"/>
<rect x="535.40" y="449.22" width="7.90" height="12.82" fill="#fff1ee"/>
<rect x="542.80" y="449.22" width="7.90" height="12.82" fill="#ffefeb"/>
<rect x="550.20" y="449.22" width="7.90" height="12.82" fill="#fff1ee"/>
<rect x="557.60" y="449.22" width="7.90" height="12.82" fill="#fff1ee"/>
<rect x="565.00" y="449.22" width="7.90" height="12.82" fill="#fff1ee"/>
<rect x="572.40" y="449.22" width="7.90" height="12.82" fill="#ffefeb"/>
<rect x="579.80" y="449.22" width="7.90" height="12.82" fill="#fee7e3"/>
<rect x="587.20" y="449.22" width="7.40" height="12.82" fill="#fff3f0"/>
<rect x="69.20" y="461.44" width="7.90" height="12.82" fill="#f8a0b8"/>
<rect x="76.60" y="461.44" width="7.90" height="12.82" fill="#fdd7d5"/>
<rect x="84.00" y="461.44" width="7.90" height="12.82" fill="#fee4e1"/>
<rect x="91.40" y="461.44" width="7.90" height="12.82" fill="#fdd7d5"/>
<rect x="98.80" y="461.44" width="7.90" height="12.82" fill="#fff1ee"/>
<rect x="106.20" y="461.44" width="7.90" height="12.82" fill="#fff1ee"/>
<rect x="113.60" y="461.44" width="7.90" height="12.82" fill="#feece9"/>
<rect x="121.00" y="461.44" width="7.90" height="12.82" fill="#feece9"/>
<rect x="128.40" y="461.44" width="7.90" height="12.82" fill="#fee7e3"/>
<rect x="135.80" y="461.44" width="7.90" height="12.82" fill="#fff1ee"/>
<rect x="143.20" y="461.44" width="7.90" height="12.82" fill="#fde2de"/>
<rect x="150.60" y="461.44" width="7.90" height="12.82" fill="#feeae6"/>
<rect x="158.00" y="461.44" width="7.90" height="12.82" fill="#ffefeb"/>
<rect x="165.40" y="461.44" width="7.90" height="12.82" fill="#fff3f0"/>
<rect x="172.80" y="461.44" width="7.90" height="12.82" fill="#fff1ee"/>
<rect x="180.20" y="461.44" width="7.90" height="12.82" fill="#fff1ee"/>
<rect x="187.60" y="461.44" width="7.90" height="12.82" fill="#fff3f0"/>
<rect x="195.00" y="461.44" width="7.90" height="12.82" fill="#fff1ee"/>
<rect x="202.40" y="461.44" width="7.90" height="12.82" fill="#feece9"/>
<rect x="209.80" y="461.44" width="7.90" height="12.82" fill="#ffefeb"/>
<rect x="217.20" y="461.44" width="7.90" height="12.82" fill="#feece9"/>
<rect x="224.60" y="461.44" width="7.90" height="12.82" fill="#f794b4"/>
<rect x="232.00" y="461.44" width="7.90" height="12.82" fill="#f794b4"/>
<rect x="239.40" y="461.44" width="7.90" height="12.82" fill="#f898b5"/>
<rect x="246.80" y="461.44" width="7.90" height="12.82" fill="#fff1ee"/>
<rect x="254.20" y="461.44" width="7.90" height="12.82" fill="#fff1ee"/>
<rect x="261.60" y="461.44" width="7.90" height="12.82" fill="#fff1ee"/>
<rect x="269.00" y="461.44" width="7.90" height="12.82" fill="#fff1ee"/>
<rect x="276.40" y="461.44" width="7.90" height="12.82" fill="#fee7e3"/>
<rect x="283.80" y="461.44" width="7.90" height="12.82" fill="#fee7e3"/>
<rect x="291.20" y="461.44" width="7.90" height="12.82" fill="#fff1ee"/>
<rect x="298.60" y="461.44" width="7.90" height="12.82" fill="#fff1ee"/>
<rect x="306.00" y="461.44" width="7.90" height="12.82" fill="#fff1ee"/>
<rect x="313.40" y="461.44" width="7.90" height="12.82" fill="#fff1ee"/>
<rect x="320.80" y="461.44" width="7.90" height="12.82" fill="#fff1ee"/>
<rect x="328.20" y="461.44" width="7.90" height="12.82" fill="#fff1ee"/>
<rect x="335.60" y="461.44" width="7.90" height="12.82" fill="#f8a0b8"/>
<rect x="343.00" y="461.44" width="7.90" height="12.82" fill="#f8a0b8"/>
<rect x="350.40" y="461.44" width="7.90" height="12.82" fill="#fff3f0"/>
<rect x="357.80" y="461.44" width="7.90" height="12.82" fill="#f8a0b8"/>
<rect x="365.20" y="461.44" width="7.90" height="12.82" fill="#fff3f0"/>
<rect x="372.60" y="461.44" width="7.90" height="12.82" fill="#fff3f0"/>
<rect x="380.00" y="461.44" width="7.90" height="12.82" fill="#fff3f0"/>
<rect x="387.40" y="461.44" width="7.90" height="12.82" fill="#fff3f0"/>
<rect x="394.80" y="461.44" width="7.90" height="12.82" fill="#fff3f0"/>
<rect x="402.20" y="461.44" width="7.90" height="12.82" fill="#f9aabc"/>
<rect x="409.60" y="461.44" width="7.90" height="12.82" fill="#fddcd9"/>
<rect x="417.00" y="461.44" width="7.90" height="12.82" fill="#f9aabc"/>
<rect x="424.40" y="461.44" width="7.90" height="12.82" fill="#fff1ee"/>
<rect x="431.80" y="461.44" width="7.90" height="12.82" fill="#fccfcf"/>
<rect x="439.20" y="461.44" width="7.90" height="12.82" fill="#fee7e3"/>
<rect x="446.60" y="461.44" width="7.90" height="12.82" fill="#feece9"/>
<rect x="454.00" y="461.44" width="7.90" height="12.82" fill="#ffefeb"/>
<rect x="461.40" y="461.44" width="7.90" height="12.82" fill="#fff1ee"/>
<rect x="468.80" y="461.44" width="7.90" height="12.82" fill="#fff3f0"/>
<rect x="476.20" y="461.44" width="7.90" height="12.82" fill="#fff1ee"/>
<rect x="483.60" y="461.44" width="7.90" height="12.82" fill="#fff3f0"/>
<rect x="491.00" y="461.44" width="7.90" height="12.82" fill="#fff1ee"/>
<rect x="498.40" y="461.44" width="7.90" height="12.82" fill="#fff1ee"/>
<rect x="505.80" y="461.44" width="7.90" height="12.82" fill="#ffefeb"/>
<rect x="513.20" y="461.44" width="7.90" height="12.82" fill="#fff3f0"/>
<rect x="520.60" y="461.44" width="7.90" height="12.82" fill="#fff3f0"/>
<rect x="528.00" y="461.44" width="7.90" height="12.82" fill="#fff1ee"/>
<rect x="535.40" y="461.44" width="7.90" height="12.82" fill="#fff1ee"/>
<rect x="542.80" y="461.44" width="7.90" height="12.82" fill="#fff1ee"/>
<rect x="550.20" y="461.44" width="7.90" height="12.82" fill="#fff3f0"/>
<rect x="557.60" y="461.44" width="7.90" height="12.82" fill="#fff1ee"/>
<rect x="565.00" y="461.44" width="7.90" height="12.82" fill="#fff1ee"/>
<rect x="572.40" y="461.44" width="7.90" height="12.82" fill="#fff1ee"/>
<rect x="579.80" y="461.44" width="7.90" height="12.82" fill="#f8a0b8"/>
<rect x="587.20" y="461.44" width="7.40" height="12.82" fill="#fff3f0"/>
<rect x="69.20" y="473.66" width="7.90" height="12.82" fill="#f8a6bb"/>
<rect x="76.60" y="473.66" width="7.90" height="12.82" fill="#fccfcf"/>
<rect x="84.00" y="473.66" width="7.90" height="12.82" fill="#fccfcf"/>
<rect x="91.40" y="473.66" width="7.90" height="12.82" fill="#fccfcf"/>
<rect x="98.80" y="473.66" width="7.90" height="12.82" fill="#fcd2d1"/>
<rect x="106.20" y="473.66" width="7.90" height="12.82" fill="#fdd7d5"/>
<rect x="113.60" y="473.66" width="7.90" height="12.82" fill="#fee4e1"/>
<rect x="121.00" y="473.66" width="7.90" height="12.82" fill="#fee7e3"/>
<rect x="128.40" y="473.66" width="7.90" height="12.82" fill="#feeae6"/>
<rect x="135.80" y="473.66" width="7.90" height="12.82" fill="#feece9"/>
<rect x="143.20" y="473.66" width="7.90" height="12.82" fill="#feece9"/>
<rect x="150.60" y="473.66" width="7.90" height="12.82" fill="#feece9"/>
<rect x="158.00" y="473.66" width="7.90" height="12.82" fill="#feece9"/>
<rect x="165.40" y="473.66" width="7.90" height="12.82" fill="#feece9"/>
<rect x="172.80" y="473.66" width="7.90" height="12.82" fill="#feece9"/>
<rect x="180.20" y="473.66" width="7.90" height="12.82" fill="#feece9"/>
<rect x="187.60" y="473.66" width="7.90" height="12.82" fill="#fff3f0"/>
<rect x="195.00" y="473.66" width="7.90" height="12.82" fill="#fff1ee"/>
<rect x="202.40" y="473.66" width="7.90" height="12.82" fill="#fff1ee"/>
<rect x="209.80" y="473.66" width="7.90" height="12.82" fill="#fff3f0"/>
<rect x="217.20" y="473.66" width="7.90" height="12.82" fill="#feece9"/>
<rect x="224.60" y="473.66" width="7.90" height="12.82" fill="#f8a0b8"/>
<rect x="232.00" y="473.66" width="7.90" height="12.82" fill="#f8a0b8"/>
<rect x="239.40" y="473.66" width="7.90" height="12.82" fill="#fab8c3"/>
<rect x="246.80" y="473.66" width="7.90" height="12.82" fill="#fcd4d3"/>
<rect x="254.20" y="473.66" width="7.90" height="12.82" fill="#fcd4d3"/>
<rect x="261.60" y="473.66" width="7.90" height="12.82" fill="#fcd4d3"/>
<rect x="269.00" y="473.66" width="7.90" height="12.82" fill="#fcd4d3"/>
<rect x="276.40" y="473.66" width="7.90" height="12.82" fill="#feece9"/>
<rect x="283.80" y="473.66" width="7.90" height="12.82" fill="#fff1ee"/>
<rect x="291.20" y="473.66" width="7.90" height="12.82" fill="#fff1ee"/>
<rect x="298.60" y="473.66" width="7.90" height="12.82" fill="#fff1ee"/>
<rect x="306.00" y="473.66" width="7.90" height="12.82" fill="#fff1ee"/>
<rect x="313.40" y="473.66" width="7.90" height="12.82" fill="#fff1ee"/>
<rect x="320.80" y="473.66" width="7.90" height="12.82" fill="#fff1ee"/>
<rect x="328.20" y="473.66" width="7.90" height="12.82" fill="#fff1ee"/>
<rect x="335.60" y="473.66" width="7.90" height="12.82" fill="#f8a6bb"/>
<rect x="343.00" y="473.66" width="7.90" height="12.82" fill="#f8a6bb"/>
<rect x="350.40" y="473.66" width="7.90" height="12.82" fill="#fff1ee"/>
<rect x="357.80" y="473.66" width="7.90" height="12.82" fill="#f9aabc"/>
<rect x="365.20" y="473.66" width="7.90" height="12.82" fill="#fff3f0"/>
<rect x="372.60" y="473.66" width="7.90" height="12.82" fill="#fff3f0"/>
<rect x="380.00" y="473.66" width="7.90" height="12.82" fill="#fff3f0"/>
<rect x="387.40" y="473.66" width="7.90" height="12.82" fill="#fff3f0"/>
<rect x="394.80" y="473.66" width="7.90" height="12.82" fill="#fff3f0"/>
<rect x="402.20" y="473.66" width="7.90" height="12.82" fill="#fbbdc5"/>
<rect x="409.60" y="473.66" width="7.90" height="12.82" fill="#fbbdc5"/>
<rect x="417.00" y="473.66" width="7.90" height="12.82" fill="#fbbdc5"/>
<rect x="424.40" y="473.66" width="7.90" height="12.82" fill="#fbc4c9"/>
<rect x="431.80" y="473.66" width="7.90" height="12.82" fill="#fddcd9"/>
<rect x="439.20" y="473.66" width="7.90" height="12.82" fill="#feece9"/>
<rect x="446.60" y="473.66" width="7.90" height="12.82" fill="#fff1ee"/>
<rect x="454.00" y="473.66" width="7.90" height="12.82" fill="#fff1ee"/>
<rect x="461.40" y="473.66" width="7.90" height="12.82" fill="#fff1ee"/>
<rect x="468.80" y="473.66" width="7.90" height="12.82" fill="#ffefeb"/>
<rect x="476.20" y="473.66" width="7.90" height="12.82" fill="#fff3f0"/>
<rect x="483.60" y="473.66" width="7.90" height="12.82" fill="#fff1ee"/>
<rect x="491.00" y="473.66" width="7.90" height="12.82" fill="#fff1ee"/>
<rect x="498.40" y="473.66" width="7.90" height="12.82" fill="#fff3f0"/>
<rect x="505.80" y="473.66" width="7.90" height="12.82" fill="#fff3f0"/>
<rect x="513.20" y="473.66" width="7.90" height="12.82" fill="#fff3f0"/>
<rect x="520.60" y="473.66" width="7.90" height="12.82" fill="#fff1ee"/>
<rect x="528.00" y="473.66" width="7.90" height="12.82" fill="#ffefeb"/>
<rect x="535.40" y="473.66" width="7.90" height="12.82" fill="#ffefeb"/>
<rect x="542.80" y="473.66" width="7.90" height="12.82" fill="#fff1ee"/>
<rect x="550.20" y="473.66" width="7.90" height="12.82" fill="#fff1ee"/>
<rect x="557.60" y="473.66" width="7.90" height="12.82" fill="#fff3f0"/>
<rect x="565.00" y="473.66" width="7.90" height="12.82" fill="#fff1ee"/>
<rect x="572.40" y="473.66" width="7.90" height="12.82" fill="#fff1ee"/>
<rect x="579.80" y="473.66" width="7.90" height="12.82" fill="#f8a6bb"/>
<rect x="587.20" y="473.66" width="7.40" height="12.82" fill="#fff3f0"/>
<rect x="69.20" y="485.88" width="7.90" height="12.82" fill="#f8a6bb"/>
<rect x="76.60" y="485.88" width="7.90" height="12.82" fill="#fee4e1"/>
<rect x="84.00" y="485.88" width="7.90" height="12.82" fill="#fff1ee"/>
<rect x="91.40" y="485.88" width="7.90" height="12.82" fill="#feece9"/>
<rect x="98.80" y="485.88" width="7.90" height="12.82" fill="#ffefeb"/>
<rect x="106.20" y="485.88" width="7.90" height="12.82" fill="#ffefeb"/>
<rect x="113.60" y="485.88" width="7.90" height="12.82" fill="#feece9"/>
<rect x="121.00" y="485.88" width="7.90" height="12.82" fill="#feece9"/>
<rect x="128.40" y="485.88" width="7.90" height="12.82" fill="#feece9"/>
<rect x="135.80" y="485.88" width="7.90" height="12.82" fill="#feece9"/>
<rect x="143.20" y="485.88" width="7.90" height="12.82" fill="#fee4e1"/>
<rect x="150.60" y="485.88" width="7.90" height="12.82" fill="#ffefeb"/>
<rect x="158.00" y="485.88" width="7.90" height="12.82" fill="#ffefeb"/>
<rect x="165.40" y="485.88" width="7.90" height="12.82" fill="#fff1ee"/>
<rect x="172.80" y="485.88" width="7.90" height="12.82" fill="#fff3f0"/>
<rect x="180.20" y="485.88" width="7.90" height="12.82" fill="#fff1ee"/>
<rect x="187.60" y="485.88" width="7.90" height="12.82" fill="#fff1ee"/>
<rect x="195.00" y="485.88" width="7.90" height="12.82" fill="#fff1ee"/>
<rect x="202.40" y="485.88" width="7.90" height="12.82" fill="#fff1ee"/>
<rect x="209.80" y="485.88" width="7.90" height="12.82" fill="#ffefeb"/>
<rect x="217.20" y="485.88" width="7.90" height="12.82" fill="#fff1ee"/>
<rect x="224.60" y="485.88" width="7.90" height="12.82" fill="#f8a0b8"/>
<rect x="232.00" y="485.88" width="7.90" height="12.82" fill="#f8a0b8"/>
<rect x="239.40" y="485.88" width="7.90" height="12.82" fill="#f9aabc"/>
<rect x="246.80" y="485.88" width="7.90" height="12.82" fill="#fcd2d1"/>
<rect x="254.20" y="485.88" width="7.90" height="12.82" fill="#fcd2d1"/>
<rect x="261.60" y="485.88" width="7.90" height="12.82" fill="#fcd2d1"/>
<rect x="269.00" y="485.88" width="7.90" height="12.82" fill="#fcd2d1"/>
<rect x="276.40" y="485.88" width="7.90" height="12.82" fill="#fddcd9"/>
<rect x="283.80" y="485.88" width="7.90" height="12.82" fill="#fcd2d1"/>
<rect x="291.20" y="485.88" width="7.90" height="12.82" fill="#fff1ee"/>
<rect x="298.60" y="485.88" width="7.90" height="12.82" fill="#ffefeb"/>
<rect x="306.00" y="485.88" width="7.90" height="12.82" fill="#ffefeb"/>
<rect x="313.40" y="485.88" width="7.90" height="12.82" fill="#fff1ee"/>
<rect x="320.80" y="485.88" width="7.90" height="12.82" fill="#fff1ee"/>
<rect x="328.20" y="485.88" width="7.90" height="12.82" fill="#fff1ee"/>
<rect x="335.60" y="485.88" width="7.90" height="12.82" fill="#f8a6bb"/>
<rect x="343.00" y="485.88" width="7.90" height="12.82" fill="#f8a6bb"/>
<rect x="350.40" y="485.88" width="7.90" height="12.82" fill="#fff1ee"/>
<rect x="357.80" y="485.88" width="7.90" height="12.82" fill="#f9aabc"/>
<rect x="365.20" y="485.88" width="7.90" height="12.82" fill="#fff3f0"/>
<rect x="372.60" y="485.88" width="7.90" height="12.82" fill="#fff3f0"/>
<rect x="380.00" y="485.88" width="7.90" height="12.82" fill="#fff3f0"/>
<rect x="387.40" y="485.88" width="7.90" height="12.82" fill="#fff3f0"/>
<rect x="394.80" y="485.88" width="7.90" height="12.82" fill="#fff3f0"/>
<rect x="402.20" y="485.88" width="7.90" height="12.82" fill="#f9b0bf"/>
<rect x="409.60" y="485.88" width="7.90" height="12.82" fill="#fddcd9"/>
<rect x="417.00" y="485.88" width="7.90" height="12.82" fill="#f9b0bf"/>
<rect x="424.40" y="485.88" width="7.90" height="12.82" fill="#fbbdc5"/>
<rect x="431.80" y="485.88" width="7.90" height="12.82" fill="#f9b0bf"/>
<rect x="439.20" y="485.88" width="7.90" height="12.82" fill="#fbc4c9"/>
<rect x="446.60" y="485.88" width="7.90" height="12.82" fill="#fee7e3"/>
<rect x="454.00" y="485.88" width="7.90" height="12.82" fill="#fff1ee"/>
<rect x="461.40" y="485.88" width="7.90" height="12.82" fill="#ffefeb"/>
<rect x="468.80" y="485.88" width="7.90" height="12.82" fill="#fff1ee"/>
<rect x="476.20" y="485.88" width="7.90" height="12.82" fill="#fff1ee"/>
<rect x="483.60" y="485.88" width="7.90" height="12.82" fill="#fff1ee"/>
<rect x="491.00" y="485.88" width="7.90" height="12.82" fill="#fff1ee"/>
<rect x="498.40" y="485.88" width="7.90" height="12.82" fill="#fff1ee"/>
<rect x="505.80" y="485.88" width="7.90" height="12.82" fill="#fff1ee"/>
<rect x="513.20" y="485.88" width="7.90" height="12.82" fill="#ffefeb"/>
<rect x="520.60" y="485.88" width="7.90" height="12.82" fill="#ffefeb"/>
<rect x="528.00" y="485.88" width="7.90" height="12.82" fill="#fff1ee"/>
<rect x="535.40" y="485.88" width="7.90" height="12.82" fill="#ffefeb"/>
<rect x="542.80" y="485.88" width="7.90" height="12.82" fill="#fff3f0"/>
<rect x="550.20" y="485.88" width="7.90" height="12.82" fill="#fff1ee"/>
<rect x="557.60" y="485.88" width="7.90" height="12.82" fill="#ffefeb"/>
<rect x="565.00" y="485.88" width="7.90" height="12.82" fill="#fff1ee"/>
<rect x="572.40" y="485.88" width="7.90" height="12.82" fill="#fff1ee"/>
<rect x="579.80" y="485.88" width="7.90" height="12.82" fill="#f8a6bb"/>
<rect x="587.20" y="485.88" width="7.40" height="12.82" fill="#fff3f0"/>
<rect x="69.20" y="498.10" width="7.90" height="12.82" fill="#fdd7d5"/>
<rect x="76.60" y="498.10" width="7.90" height="12.82" fill="#fddfdc"/>
<rect x="84.00" y="498.10" width="7.90" height="12.82" fill="#fee4e1"/>
<rect x="91.40" y="498.10" width="7.90" height="12.82" fill="#fddcd9"/>
<rect x="98.80" y="498.10" width="7.90" height="12.82" fill="#fee4e1"/>
<rect x="106.20" y="498.10" width="7.90" height="12.82" fill="#feece9"/>
<rect x="113.60" y="498.10" width="7.90" height="12.82" fill="#feeae6"/>
<rect x="121.00" y="498.10" width="7.90" height="12.82" fill="#fde2de"/>
<rect x="128.40" y="498.10" width="7.90" height="12.82" fill="#fee7e3"/>
<rect x="135.80" y="498.10" width="7.90" height="12.82" fill="#feece9"/>
<rect x="143.20" y="498.10" width="7.90" height="12.82" fill="#fddcd9"/>
<rect x="150.60" y="498.10" width="7.90" height="12.82" fill="#feeae6"/>
<rect x="158.00" y="498.10" width="7.90" height="12.82" fill="#feeae6"/>
<rect x="165.40" y="498.10" width="7.90" height="12.82" fill="#fff3f0"/>
<rect x="172.80" y="498.10" width="7.90" height="12.82" fill="#fee7e3"/>
<rect x="180.20" y="498.10" width="7.90" height="12.82" fill="#fff3f0"/>
<rect x="187.60" y="498.10" width="7.90" height="12.82" fill="#fff1ee"/>
<rect x="195.00" y="498.10" width="7.90" height="12.82" fill="#fff1ee"/>
<rect x="202.40" y="498.10" width="7.90" height="12.82" fill="#ffefeb"/>
<rect x="209.80" y="498.10" width="7.90" height="12.82" fill="#ffefeb"/>
<rect x="217.20" y="498.10" width="7.90" height="12.82" fill="#fff3f0"/>
<rect x="224.60" y="498.10" width="7.90" height="12.82" fill="#fccfcf"/>
<rect x="232.00" y="498.10" width="7.90" height="12.82" fill="#fccfcf"/>
<rect x="239.40" y="498.10" width="7.90" height="12.82" fill="#fcd2d1"/>
<rect x="246.80" y="498.10" width="7.90" height="12.82" fill="#fff1ee"/>
<rect x="254.20" y="498.10" width="7.90" height="12.82" fill="#fff1ee"/>
<rect x="261.60" y="498.10" width="7.90" height="12.82" fill="#fff1ee"/>
<rect x="269.00" y="498.10" width="7.90" height="12.82" fill="#fff1ee"/>
<rect x="276.40" y="498.10" width="7.90" height="12.82" fill="#fee7e3"/>
<rect x="283.80" y="498.10" width="7.90" height="12.82" fill="#fddcd9"/>
<rect x="291.20" y="498.10" width="7.90" height="12.82" fill="#fff1ee"/>
<rect x="298.60" y="498.10" width="7.90" height="12.82" fill="#ffefeb"/>
<rect x="306.00" y="498.10" width="7.90" height="12.82" fill="#feece9"/>
<rect x="313.40" y="498.10" width="7.90" height="12.82" fill="#fff1ee"/>
<rect x="320.80" y="498.10" width="7.90" height="12.82" fill="#fff1ee"/>
<rect x="328.20" y="498.10" width="7.90" height="12.82" fill="#fff1ee"/>
<rect x="335.60" y="498.10" width="7.90" height="12.82" fill="#fdd7d5"/>
<rect x="343.00" y="498.10" width="7.90" height="12.82" fill="#fdd7d5"/>
<rect x="350.40" y="498.10" width="7.90" height="12.82" fill="#fff1ee"/>
<rect x="357.80" y="498.10" width="7.90" height="12.82" fill="#fddcd9"/>
<rect x="365.20" y="498.10" width="7.90" height="12.82" fill="#fff3f0"/>
<rect x="372.60" y="498.10" width="7.90" height="12.82" fill="#fff3f0"/>
<rect x="380.00" y="498.10" width="7.90" height="12.82" fill="#fff3f0"/>
<rect x="387.40" y="498.10" width="7.90" height="12.82" fill="#fff3f0"/>
<rect x="394.80" y="498.10" width="7.90" height="12.82" fill="#fff3f0"/>
<rect x="402.20" y="498.10" width="7.90" height="12.82" fill="#fddcd9"/>
<rect x="409.60" y="498.10" width="7.90" height="12.82" fill="#fff1ee"/>
<rect x="417.00" y="498.10" width="7.90" height="12.82" fill="#fddcd9"/>
<rect x="424.40" y="498.10" width="7.90" height="12.82" fill="#ffefeb"/>
<rect x="431.80" y="498.10" width="7.90" height="12.82" fill="#ffefeb"/>
<rect x="439.20" y="498.10" width="7.90" height="12.82" fill="#fddcd9"/>
<rect x="446.60" y="498.10" width="7.90" height="12.82" fill="#feece9"/>
<rect x="454.00" y="498.10" width="7.90" height="12.82" fill="#feece9"/>
<rect x="461.40" y="498.10" width="7.90" height="12.82" fill="#feece9"/>
<rect x="468.80" y="498.10" width="7.90" height="12.82" fill="#ffefeb"/>
<rect x="476.20" y="498.10" width="7.90" height="12.82" fill="#feece9"/>
<rect x="483.60" y="498.10" width="7.90" height="12.82" fill="#fff3f0"/>
<rect x="491.00" y="498.10" width="7.90" height="12.82" fill="#fff1ee"/>
<rect x="498.40" y="498.10" width="7.90" height="12.82" fill="#fff1ee"/>
<rect x="505.80" y="498.10" width="7.90" height="12.82" fill="#fff1ee"/>
<rect x="513.20" y="498.10" width="7.90" height="12.82" fill="#fff1ee"/>
<rect x="520.60" y="498.10" width="7.90" height="12.82" fill="#fff1ee"/>
<rect x="528.00" y="498.10" width="7.90" height="12.82" fill="#ffefeb"/>
<rect x="535.40" y="498.10" width="7.90" height="12.82" fill="#fff1ee"/>
<rect x="542.80" y="498.10" width="7.90" height="12.82" fill="#ffefeb"/>
<rect x="550.20" y="498.10" width="7.90" height="12.82" fill="#fff1ee"/>
<rect x="557.60" y="498.10" width="7.90" height="12.82" fill="#fff1ee"/>
<rect x="565.00" y="498.10" width="7.90" height="12.82" fill="#fff1ee"/>
<rect x="572.40" y="498.10" width="7.90" height="12.82" fill="#fff1ee"/>
<rect x="579.80" y="498.10" width="7.90" height="12.82" fill="#fdd7d5"/>
<rect x="587.20" y="498.10" width="7.40" height="12.82" fill="#fff3f0"/>
<rect x="69.20" y="510.32" width="7.90" height="12.82" fill="#fdd7d5"/>
<rect x="76.60" y="510.32" width="7.90" height="12.82" fill="#fddcd9"/>
<rect x="84.00" y="510.32" width="7.90" height="12.82" fill="#fde2de"/>
<rect x="91.40" y="510.32" width="7.90" height="12.82" fill="#fddcd9"/>
<rect x="98.80" y="510.32" width="7.90" height="12.82" fill="#fee4e1"/>
<rect x="106.20" y="510.32" width="7.90" height="12.82" fill="#feeae6"/>
<rect x="113.60" y="510.32" width="7.90" height="12.82" fill="#fde2de"/>
<rect x="121.00" y="510.32" width="7.90" height="12.82" fill="#fde2de"/>
<rect x="128.40" y="510.32" width="7.90" height="12.82" fill="#fee4e1"/>
<rect x="135.80" y="510.32" width="7.90" height="12.82" fill="#fee7e3"/>
<rect x="143.20" y="510.32" width="7.90" height="12.82" fill="#fddcd9"/>
<rect x="150.60" y="510.32" width="7.90" height="12.82" fill="#fee7e3"/>
<rect x="158.00" y="510.32" width="7.90" height="12.82" fill="#fee7e3"/>
<rect x="165.40" y="510.32" width="7.90" height="12.82" fill="#fff1ee"/>
<rect x="172.80" y="510.32" width="7.90" height="12.82" fill="#fff3f0"/>
<rect x="180.20" y="510.32" width="7.90" height="12.82" fill="#feeae6"/>
<rect x="187.60" y="510.32" width="7.90" height="12.82" fill="#fff1ee"/>
<rect x="195.00" y="510.32" width="7.90" height="12.82" fill="#feece9"/>
<rect x="202.40" y="510.32" width="7.90" height="12.82" fill="#fff3f0"/>
<rect x="209.80" y="510.32" width="7.90" height="12.82" fill="#ffefeb"/>
<rect x="217.20" y="510.32" width="7.90" height="12.82" fill="#ffefeb"/>
<rect x="224.60" y="510.32" width="7.90" height="12.82" fill="#fccfcf"/>
<rect x="232.00" y="510.32" width="7.90" height="12.82" fill="#fccfcf"/>
<rect x="239.40" y="510.32" width="7.90" height="12.82" fill="#fccfcf"/>
<rect x="246.80" y="510.32" width="7.90" height="12.82" fill="#fdd9d7"/>
<rect x="254.20" y="510.32" width="7.90" height="12.82" fill="#fdd9d7"/>
<rect x="261.60" y="510.32" width="7.90" height="12.82" fill="#fdd9d7"/>
<rect x="269.00" y="510.32" width="7.90" height="12.82" fill="#fdd9d7"/>
<rect x="276.40" y="510.32" width="7.90" height="12.82" fill="#fee4e1"/>
<rect x="283.80" y="510.32" width="7.90" height="12.82" fill="#fde2de"/>
<rect x="291.20" y="510.32" width="7.90" height="12.82" fill="#feeae6"/>
<rect x="298.60" y="510.32" width="7.90" height="12.82" fill="#feece9"/>
<rect x="306.00" y="510.32" width="7.90" height="12.82" fill="#feece9"/>
<rect x="313.40" y="510.32" width="7.90" height="12.82" fill="#ffefeb"/>
<rect x="320.80" y="510.32" width="7.90" height="12.82" fill="#ffefeb"/>
<rect x="328.20" y="510.32" width="7.90" height="12.82" fill="#ffefeb"/>
<rect x="335.60" y="510.32" width="7.90" height="12.82" fill="#fdd7d5"/>
<rect x="343.00" y="510.32" width="7.90" height="12.82" fill="#fdd7d5"/>
<rect x="350.40" y="510.32" width="7.90" height="12.82" fill="#fff1ee"/>
<rect x="357.80" y="510.32" width="7.90" height="12.82" fill="#fdd7d5"/>
<rect x="365.20" y="510.32" width="7.90" height="12.82" fill="#fff3f0"/>
<rect x="372.60" y="510.32" width="7.90" height="12.82" fill="#fff3f0"/>
<rect x="380.00" y="510.32" width="7.90" height="12.82" fill="#fff3f0"/>
<rect x="387.40" y="510.32" width="7.90" height="12.82" fill="#fff3f0"/>
<rect x="394.80" y="510.32" width="7.90" height="12.82" fill="#fff3f0"/>
<rect x="402.20" y="510.32" width="7.90" height="12.82" fill="#fdd7d5"/>
<rect x="409.60" y="510.32" width="7.90" height="12.82" fill="#fdd7d5"/>
<rect x="417.00" y="510.32" width="7.90" height="12.82" fill="#fdd7d5"/>
<rect x="424.40" y="510.32" width="7.90" height="12.82" fill="#fcd4d3"/>
<rect x="431.80" y="510.32" width="7.90" height="12.82" fill="#fcd4d3"/>
<rect x="439.20" y="510.32" width="7.90" height="12.82" fill="#fdd7d5"/>
<rect x="446.60" y="510.32" width="7.90" height="12.82" fill="#fff1ee"/>
<rect x="454.00" y="510.32" width="7.90" height="12.82" fill="#fff1ee"/>
<rect x="461.40" y="510.32" width="7.90" height="12.82" fill="#fff1ee"/>
<rect x="468.80" y="510.32" width="7.90" height="12.82" fill="#fff3f0"/>
<rect x="476.20" y="510.32" width="7.90" height="12.82" fill="#fff1ee"/>
<rect x="483.60" y="510.32" width="7.90" height="12.82" fill="#ffefeb"/>
<rect x="491.00" y="510.32" width="7.90" height="12.82" fill="#fff3f0"/>
<rect x="498.40" y="510.32" width="7.90" height="12.82" fill="#feece9"/>
<rect x="505.80" y="510.32" width="7.90" height="12.82" fill="#fff1ee"/>
<rect x="513.20" y="510.32" width="7.90" height="12.82" fill="#fff1ee"/>
<rect x="520.60" y="510.32" width="7.90" height="12.82" fill="#fff1ee"/>
<rect x="528.00" y="510.32" width="7.90" height="12.82" fill="#ffefeb"/>
<rect x="535.40" y="510.32" width="7.90" height="12.82" fill="#fff3f0"/>
<rect x="542.80" y="510.32" width="7.90" height="12.82" fill="#fff1ee"/>
<rect x="550.20" y="510.32" width="7.90" height="12.82" fill="#ffefeb"/>
<rect x="557.60" y="510.32" width="7.90" height="12.82" fill="#fff1ee"/>
<rect x="565.00" y="510.32" width="7.90" height="12.82" fill="#ffefeb"/>
<rect x="572.40" y="510.32" width="7.90" height="12.82" fill="#fff1ee"/>
<rect x="579.80" y="510.32" width="7.90" height="12.82" fill="#fdd7d5"/>
<rect x="587.20" y="510.32" width="7.40" height="12.82" fill="#fff3f0"/>
<rect x="69.20" y="522.54" width="7.90" height="12.22" fill="#4a006a"/>
<rect x="76.60" y="522.54" width="7.90" height="12.22" fill="#feeae6"/>
<rect x="84.00" y="522.54" width="7.90" height="12.22" fill="#fff1ee"/>
<rect x="91.40" y="522.54" width="7.90" height="12.22" fill="#fddfdc"/>
<rect x="98.80" y="522.54" width="7.90" height="12.22" fill="#ffefeb"/>
<rect x="106.20" y="522.54" width="7.90" height="12.22" fill="#ffefeb"/>
<rect x="113.60" y="522.54" width="7.90" height="12.22" fill="#ffefeb"/>
<rect x="121.00" y="522.54" width="7.90" height="12.22" fill="#ffefeb"/>
<rect x="128.40" y="522.54" width="7.90" height="12.22" fill="#ffefeb"/>
<rect x="135.80" y="522.54" width="7.90" height="12.22" fill="#ffefeb"/>
<rect x="143.20" y="522.54" width="7.90" height="12.22" fill="#feece9"/>
<rect x="150.60" y="522.54" width="7.90" height="12.22" fill="#ffefeb"/>
<rect x="158.00" y="522.54" width="7.90" height="12.22" fill="#ffefeb"/>
<rect x="165.40" y="522.54" width="7.90" height="12.22" fill="#fff3f0"/>
<rect x="172.80" y="522.54" width="7.90" height="12.22" fill="#fff1ee"/>
<rect x="180.20" y="522.54" width="7.90" height="12.22" fill="#feece9"/>
<rect x="187.60" y="522.54" width="7.90" height="12.22" fill="#fff1ee"/>
<rect x="195.00" y="522.54" width="7.90" height="12.22" fill="#ffefeb"/>
<rect x="202.40" y="522.54" width="7.90" height="12.22" fill="#ffefeb"/>
<rect x="209.80" y="522.54" width="7.90" height="12.22" fill="#feece9"/>
<rect x="217.20" y="522.54" width="7.90" height="12.22" fill="#fff3f0"/>
<rect x="224.60" y="522.54" width="7.90" height="12.22" fill="#4a006a"/>
<rect x="232.00" y="522.54" width="7.90" height="12.22" fill="#4a006a"/>
<rect x="239.40" y="522.54" width="7.90" height="12.22" fill="#fee4e1"/>
<rect x="246.80" y="522.54" width="7.90" height="12.22" fill="#fff1ee"/>
<rect x="254.20" y="522.54" width="7.90" height="12.22" fill="#fff1ee"/>
<rect x="261.60" y="522.54" width="7.90" height="12.22" fill="#fff1ee"/>
<rect x="269.00" y="522.54" width="7.90" height="12.22" fill="#fff1ee"/>
<rect x="276.40" y="522.54" width="7.90" height="12.22" fill="#bf1689"/>
<rect x="283.80" y="522.54" width="7.90" height="12.22" fill="#9c0a80"/>
<rect x="291.20" y="522.54" width="7.90" height="12.22" fill="#fff1ee"/>
<rect x="298.60" y="522.54" width="7.90" height="12.22" fill="#fff1ee"/>
<rect x="306.00" y="522.54" width="7.90" height="12.22" fill="#ffefeb"/>
<rect x="313.40" y="522.54" width="7.90" height="12.22" fill="#fff1ee"/>
<rect x="320.80" y="522.54" width="7.90" height="12.22" fill="#fff1ee"/>
<rect x="328.20" y="522.54" width="7.90" height="12.22" fill="#fff1ee"/>
<rect x="335.60" y="522.54" width="7.90" height="12.22" fill="#4a006a"/>
<rect x="343.00" y="522.54" width="7.90" height="12.22" fill="#4a006a"/>
<rect x="350.40" y="522.54" width="7.90" height="12.22" fill="#fff1ee"/>
<rect x="357.80" y="522.54" width="7.90" height="12.22" fill="#88067a"/>
<rect x="365.20" y="522.54" width="7.90" height="12.22" fill="#fff3f0"/>
<rect x="372.60" y="522.54" width="7.90" height="12.22" fill="#fff3f0"/>
<rect x="380.00" y="522.54" width="7.90" height="12.22" fill="#fff3f0"/>
<rect x="387.40" y="522.54" width="7.90" height="12.22" fill="#fff3f0"/>
<rect x="394.80" y="522.54" width="7.90" height="12.22" fill="#fff3f0"/>
<rect x="402.20" y="522.54" width="7.90" height="12.22" fill="#ef66a5"/>
<rect x="409.60" y="522.54" width="7.90" height="12.22" fill="#fff1ee"/>
<rect x="417.00" y="522.54" width="7.90" height="12.22" fill="#bf1689"/>
<rect x="424.40" y="522.54" width="7.90" height="12.22" fill="#fddcd9"/>
<rect x="431.80" y="522.54" width="7.90" height="12.22" fill="#fde2de"/>
<rect x="439.20" y="522.54" width="7.90" height="12.22" fill="#bf1689"/>
<rect x="446.60" y="522.54" width="7.90" height="12.22" fill="#fee4e1"/>
<rect x="454.00" y="522.54" width="7.90" height="12.22" fill="#fff1ee"/>
<rect x="461.40" y="522.54" width="7.90" height="12.22" fill="#fff1ee"/>
<rect x="468.80" y="522.54" width="7.90" height="12.22" fill="#ffefeb"/>
<rect x="476.20" y="522.54" width="7.90" height="12.22" fill="#fff1ee"/>
<rect x="483.60" y="522.54" width="7.90" height="12.22" fill="#fff3f0"/>
<rect x="491.00" y="522.54" width="7.90" height="12.22" fill="#fff1ee"/>
<rect x="498.40" y="522.54" width="7.90" height="12.22" fill="#fff1ee"/>
<rect x="505.80" y="522.54" width="7.90" height="12.22" fill="#ffefeb"/>
<rect x="513.20" y="522.54" width="7.90" height="12.22" fill="#fff1ee"/>
<rect x="520.60" y="522.54" width="7.90" height="12.22" fill="#fff3f0"/>
<rect x="528.00" y="522.54" width="7.90" height="12.22" fill="#fff1ee"/>
<rect x="535.40" y="522.54" width="7.90" height="12.22" fill="#ffefeb"/>
<rect x="542.80" y="522.54" width="7.90" height="12.22" fill="#fff1ee"/>
<rect x="550.20" y="522.54" width="7.90" height="12.22" fill="#fff1ee"/>
<rect x="557.60" y="522.54" width="7.90" height="12.22" fill="#fff1ee"/>
<rect x="565.00" y="522.54" width="7.90" height="12.22" fill="#fff1ee"/>
<rect x="572.40" y="522.54" width="7.90" height="12.22" fill="#fff1ee"/>
<rect x="579.80" y="522.54" width="7.90" height="12.22" fill="#4a006a"/>
<rect x="587.20" y="522.54" width="7.40" height="12.22" fill="#fff3f0"/>
<text x="66.20" y="445.66" font-size="4.9" text-anchor="end" font-weight="bold" fill="#000">MS7</text>
<line x1="66.90" y1="443.91" x2="69.00" y2="443.91" stroke="#333" stroke-width="0.6"/>
<text x="66.20" y="457.88" font-size="4.9" text-anchor="end" font-weight="bold" fill="#000">MS6</text>
<line x1="66.90" y1="456.13" x2="69.00" y2="456.13" stroke="#333" stroke-width="0.6"/>
<text x="66.20" y="470.10" font-size="4.9" text-anchor="end" font-weight="bold" fill="#000">MS5</text>
<line x1="66.90" y1="468.35" x2="69.00" y2="468.35" stroke="#333" stroke-width="0.6"/>
<text x="66.20" y="482.32" font-size="4.9" text-anchor="end" font-weight="bold" fill="#000">MS2</text>
<line x1="66.90" y1="480.57" x2="69.00" y2="480.57" stroke="#333" stroke-width="0.6"/>
<text x="66.20" y="494.54" font-size="4.9" text-anchor="end" font-weight="bold" fill="#000">MS1</text>
<line x1="66.90" y1="492.79" x2="69.00" y2="492.79" stroke="#333" stroke-width="0.6"/>
<text x="66.20" y="506.76" font-size="4.9" text-anchor="end" font-weight="bold" fill="#000">MS4</text>
<line x1="66.90" y1="505.01" x2="69.00" y2="505.01" stroke="#333" stroke-width="0.6"/>
<text x="66.20" y="518.98" font-size="4.9" text-anchor="end" font-weight="bold" fill="#000">MS3</text>
<line x1="66.90" y1="517.23" x2="69.00" y2="517.23" stroke="#333" stroke-width="0.6"/>
<text x="66.20" y="531.20" font-size="4.9" text-anchor="end" font-weight="bold" fill="#000">MS8</text>
<line x1="66.90" y1="529.45" x2="69.00" y2="529.45" stroke="#333" stroke-width="0.6"/>
<line x1="46.50" y1="443.91" x2="52.00" y2="443.91" stroke="#c8c8c8" stroke-width="0.55"/>
<line x1="46.50" y1="456.13" x2="52.00" y2="456.13" stroke="#c8c8c8" stroke-width="0.55"/>
<line x1="46.50" y1="443.91" x2="46.50" y2="456.13" stroke="#c8c8c8" stroke-width="0.55"/>
<line x1="49.60" y1="480.57" x2="52.00" y2="480.57" stroke="#c8c8c8" stroke-width="0.55"/>
<line x1="49.60" y1="492.79" x2="52.00" y2="492.79" stroke="#c8c8c8" stroke-width="0.55"/>
<line x1="49.60" y1="480.57" x2="49.60" y2="492.79" stroke="#c8c8c8" stroke-width="0.55"/>
<line x1="49.80" y1="505.01" x2="52.00" y2="505.01" stroke="#c8c8c8" stroke-width="0.55"/>
<line x1="49.80" y1="517.23" x2="52.00" y2="517.23" stroke="#c8c8c8" stroke-width="0.55"/>
<line x1="49.80" y1="505.01" x2="49.80" y2="517.23" stroke="#c8c8c8" stroke-width="0.55"/>
<line x1="48.80" y1="468.35" x2="52.00" y2="468.35" stroke="#c8c8c8" stroke-width="0.55"/>
<line x1="48.80" y1="486.68" x2="49.60" y2="486.68" stroke="#c8c8c8" stroke-width="0.55"/>
<line x1="48.80" y1="468.35" x2="48.80" y2="486.68" stroke="#c8c8c8" stroke-width="0.55"/>
<line x1="48.20" y1="477.51" x2="48.80" y2="477.51" stroke="#c8c8c8" stroke-width="0.55"/>
<line x1="48.20" y1="511.12" x2="49.80" y2="511.12" stroke="#c8c8c8" stroke-width="0.55"/>
<line x1="48.20" y1="477.51" x2="48.20" y2="511.12" stroke="#c8c8c8" stroke-width="0.55"/>
<line x1="45.20" y1="450.02" x2="46.50" y2="450.02" stroke="#c8c8c8" stroke-width="0.55"/>
<line x1="45.20" y1="494.32" x2="48.20" y2="494.32" stroke="#c8c8c8" stroke-width="0.55"/>
<line x1="45.20" y1="450.02" x2="45.20" y2="494.32" stroke="#c8c8c8" stroke-width="0.55"/>
<line x1="37.80" y1="472.17" x2="45.20" y2="472.17" stroke="#c8c8c8" stroke-width="0.55"/>
<line x1="37.80" y1="529.45" x2="52.00" y2="529.45" stroke="#c8c8c8" stroke-width="0.55"/>
<line x1="37.80" y1="472.17" x2="37.80" y2="529.45" stroke="#c8c8c8" stroke-width="0.55"/>
<line x1="72.90" y1="534.90" x2="72.90" y2="537.00" stroke="#333" stroke-width="0.5"/>
<text x="74.20" y="541.00" font-size="4.9" text-anchor="end" font-weight="bold" fill="#66c2a5" transform="rotate(-45 74.20 541.00)" stroke="#66c2a5" stroke-width="0.12">Phthalate transport system (M00437)</text>
<line x1="80.30" y1="534.90" x2="80.30" y2="537.00" stroke="#333" stroke-width="0.5"/>
<text x="81.60" y="541.00" font-size="4.9" text-anchor="end" font-weight="bold" fill="#1a1a1a" transform="rotate(-45 81.60 541.00)" stroke="#1a1a1a" stroke-width="0.12">Iron(III) transport system (M00190)</text>
<line x1="87.70" y1="534.90" x2="87.70" y2="537.00" stroke="#333" stroke-width="0.5"/>
<text x="89.00" y="541.00" font-size="4.9" text-anchor="end" font-weight="bold" fill="#1a1a1a" transform="rotate(-45 89.00 541.00)" stroke="#1a1a1a" stroke-width="0.12">Glycine betaine/proline transport system (M00208)</text>
<line x1="95.10" y1="534.90" x2="95.10" y2="537.00" stroke="#333" stroke-width="0.5"/>
<text x="96.40" y="541.00" font-size="4.9" text-anchor="end" font-weight="bold" fill="#1a1a1a" transform="rotate(-45 96.40 541.00)" stroke="#1a1a1a" stroke-width="0.12">NitT/TauT family transport system (M00188)</text>
<line x1="102.50" y1="534.90" x2="102.50" y2="537.00" stroke="#333" stroke-width="0.5"/>
<text x="103.80" y="541.00" font-size="4.9" text-anchor="end" font-weight="bold" fill="#1a1a1a" transform="rotate(-45 103.80 541.00)" stroke="#1a1a1a" stroke-width="0.12">Putative spermidine/putrescine transport system (M00193)</text>
<line x1="109.90" y1="534.90" x2="109.90" y2="537.00" stroke="#333" stroke-width="0.5"/>
<text x="111.20" y="541.00" font-size="4.9" text-anchor="end" font-weight="bold" fill="#1a1a1a" transform="rotate(-45 111.20 541.00)" stroke="#1a1a1a" stroke-width="0.12">Taurine transport system (M00435)</text>
<line x1="117.30" y1="534.90" x2="117.30" y2="537.00" stroke="#333" stroke-width="0.5"/>
<text x="118.60" y="541.00" font-size="4.9" text-anchor="end" font-weight="bold" fill="#1a1a1a" transform="rotate(-45 118.60 541.00)" stroke="#1a1a1a" stroke-width="0.12">Tungstate transport system (M00186)</text>
<line x1="124.70" y1="534.90" x2="124.70" y2="537.00" stroke="#333" stroke-width="0.5"/>
<text x="126.00" y="541.00" font-size="4.9" text-anchor="end" font-weight="bold" fill="#1a1a1a" transform="rotate(-45 126.00 541.00)" stroke="#1a1a1a" stroke-width="0.12">Spermidine/putrescine transport system (M00299)</text>
<line x1="132.10" y1="534.90" x2="132.10" y2="537.00" stroke="#333" stroke-width="0.5"/>
<text x="133.40" y="541.00" font-size="4.9" text-anchor="end" font-weight="bold" fill="#1a1a1a" transform="rotate(-45 133.40 541.00)" stroke="#1a1a1a" stroke-width="0.12">Thiamine transport system (M00191)</text>
<line x1="139.50" y1="534.90" x2="139.50" y2="537.00" stroke="#333" stroke-width="0.5"/>
<text x="140.80" y="541.00" font-size="4.9" text-anchor="end" font-weight="bold" fill="#1a1a1a" transform="rotate(-45 140.80 541.00)" stroke="#1a1a1a" stroke-width="0.12">Putrescine transport system (M00300)</text>
<line x1="146.90" y1="534.90" x2="146.90" y2="537.00" stroke="#333" stroke-width="0.5"/>
<text x="148.20" y="541.00" font-size="4.9" text-anchor="end" font-weight="bold" fill="#1a1a1a" transform="rotate(-45 148.20 541.00)" stroke="#1a1a1a" stroke-width="0.12">Molybdate transport system (M00189)</text>
<line x1="154.30" y1="534.90" x2="154.30" y2="537.00" stroke="#333" stroke-width="0.5"/>
<text x="155.60" y="541.00" font-size="4.9" text-anchor="end" font-weight="bold" fill="#1a1a1a" transform="rotate(-45 155.60 541.00)" stroke="#1a1a1a" stroke-width="0.12">Putative hydroxymethylpyrimidine transport system (M00191)</text>
<line x1="161.70" y1="534.90" x2="161.70" y2="537.00" stroke="#333" stroke-width="0.5"/>
<text x="163.00" y="541.00" font-size="4.9" text-anchor="end" font-weight="bold" fill="#1a1a1a" transform="rotate(-45 163.00 541.00)" stroke="#1a1a1a" stroke-width="0.12">Putative thiamine transport system (M00192)</text>
<line x1="169.10" y1="534.90" x2="169.10" y2="537.00" stroke="#333" stroke-width="0.5"/>
<text x="170.40" y="541.00" font-size="4.9" text-anchor="end" font-weight="bold" fill="#1a1a1a" transform="rotate(-45 170.40 541.00)" stroke="#1a1a1a" stroke-width="0.12">Osmoprotectant transport system (M00209)</text>
<line x1="176.50" y1="534.90" x2="176.50" y2="537.00" stroke="#333" stroke-width="0.5"/>
<text x="177.80" y="541.00" font-size="4.9" text-anchor="end" font-weight="bold" fill="#1a1a1a" transform="rotate(-45 177.80 541.00)" stroke="#1a1a1a" stroke-width="0.12">Nitrate/nitrite transport system (M00438)</text>
<line x1="183.90" y1="534.90" x2="183.90" y2="537.00" stroke="#333" stroke-width="0.5"/>
<text x="185.20" y="541.00" font-size="4.9" text-anchor="end" font-weight="bold" fill="#1a1a1a" transform="rotate(-45 185.20 541.00)" stroke="#1a1a1a" stroke-width="0.12">Sulfonate transport system (M00436)</text>
<line x1="191.30" y1="534.90" x2="191.30" y2="537.00" stroke="#333" stroke-width="0.5"/>
<text x="192.60" y="541.00" font-size="4.9" text-anchor="end" font-weight="bold" fill="#1a1a1a" transform="rotate(-45 192.60 541.00)" stroke="#1a1a1a" stroke-width="0.12">Molybdate/tungstate transport system (M00186)</text>
<line x1="198.70" y1="534.90" x2="198.70" y2="537.00" stroke="#333" stroke-width="0.5"/>
<text x="200.00" y="541.00" font-size="4.9" text-anchor="end" font-weight="bold" fill="#1a1a1a" transform="rotate(-45 200.00 541.00)" stroke="#1a1a1a" stroke-width="0.12">Sulfate transport system (M00185)</text>
<line x1="206.10" y1="534.90" x2="206.10" y2="537.00" stroke="#333" stroke-width="0.5"/>
<text x="207.40" y="541.00" font-size="4.9" text-anchor="end" font-weight="bold" fill="#1a1a1a" transform="rotate(-45 207.40 541.00)" stroke="#1a1a1a" stroke-width="0.12">2-Aminoethylphosphonate transport system (M00321)</text>
<line x1="213.50" y1="534.90" x2="213.50" y2="537.00" stroke="#333" stroke-width="0.5"/>
<text x="214.80" y="541.00" font-size="4.9" text-anchor="end" font-weight="bold" fill="#1a1a1a" transform="rotate(-45 214.80 541.00)" stroke="#1a1a1a" stroke-width="0.12">Bicarbonate transport system (M00321)</text>
<line x1="220.90" y1="534.90" x2="220.90" y2="537.00" stroke="#333" stroke-width="0.5"/>
<text x="222.20" y="541.00" font-size="4.9" text-anchor="end" font-weight="bold" fill="#1a1a1a" transform="rotate(-45 222.20 541.00)" stroke="#1a1a1a" stroke-width="0.12">Manganese transport system (M00316)</text>
<line x1="228.30" y1="534.90" x2="228.30" y2="537.00" stroke="#333" stroke-width="0.5"/>
<text x="229.60" y="541.00" font-size="4.9" text-anchor="end" font-weight="bold" fill="#fc8d62" transform="rotate(-45 229.60 541.00)" stroke="#fc8d62" stroke-width="0.12">Sec (secretion) system (M00335)</text>
<line x1="235.70" y1="534.90" x2="235.70" y2="537.00" stroke="#333" stroke-width="0.5"/>
<text x="237.00" y="541.00" font-size="4.9" text-anchor="end" font-weight="bold" fill="#fc8d62" transform="rotate(-45 237.00 541.00)" stroke="#fc8d62" stroke-width="0.12">S-Layer protein transport system (M00327)</text>
<line x1="243.10" y1="534.90" x2="243.10" y2="537.00" stroke="#333" stroke-width="0.5"/>
<text x="244.40" y="541.00" font-size="4.9" text-anchor="end" font-weight="bold" fill="#1a1a1a" transform="rotate(-45 244.40 541.00)" stroke="#1a1a1a" stroke-width="0.12">Twin-arginine translocation (Tat) system (M00336)</text>
<line x1="250.50" y1="534.90" x2="250.50" y2="537.00" stroke="#333" stroke-width="0.5"/>
<text x="251.80" y="541.00" font-size="4.9" text-anchor="end" font-weight="bold" fill="#1a1a1a" transform="rotate(-45 251.80 541.00)" stroke="#1a1a1a" stroke-width="0.12">alpha-Hemolysin/cyclolysin transport system (M00339)</text>
<line x1="257.90" y1="534.90" x2="257.90" y2="537.00" stroke="#333" stroke-width="0.5"/>
<text x="259.20" y="541.00" font-size="4.9" text-anchor="end" font-weight="bold" fill="#1a1a1a" transform="rotate(-45 259.20 541.00)" stroke="#1a1a1a" stroke-width="0.12">RaxAB-RaxC type I secretion system (M00339)</text>
<line x1="265.30" y1="534.90" x2="265.30" y2="537.00" stroke="#333" stroke-width="0.5"/>
<text x="266.60" y="541.00" font-size="4.9" text-anchor="end" font-weight="bold" fill="#1a1a1a" transform="rotate(-45 266.60 541.00)" stroke="#1a1a1a" stroke-width="0.12">AlgE-type Mannuronan C-5-Epimerase transport system (M00330)</text>
<line x1="272.70" y1="534.90" x2="272.70" y2="537.00" stroke="#333" stroke-width="0.5"/>
<text x="274.00" y="541.00" font-size="4.9" text-anchor="end" font-weight="bold" fill="#1a1a1a" transform="rotate(-45 274.00 541.00)" stroke="#1a1a1a" stroke-width="0.12">RTX toxin transport system (M00326)</text>
<line x1="280.10" y1="534.90" x2="280.10" y2="537.00" stroke="#333" stroke-width="0.5"/>
<text x="281.40" y="541.00" font-size="4.9" text-anchor="end" font-weight="bold" fill="#1a1a1a" transform="rotate(-45 281.40 541.00)" stroke="#1a1a1a" stroke-width="0.12">Competence-related DNA transformation transporter (M00429)</text>
<line x1="287.50" y1="534.90" x2="287.50" y2="537.00" stroke="#333" stroke-width="0.5"/>
<text x="288.80" y="541.00" font-size="4.9" text-anchor="end" font-weight="bold" fill="#1a1a1a" transform="rotate(-45 288.80 541.00)" stroke="#1a1a1a" stroke-width="0.12">Type II general secretion pathway (M00331)</text>
<line x1="294.90" y1="534.90" x2="294.90" y2="537.00" stroke="#333" stroke-width="0.5"/>
<text x="296.20" y="541.00" font-size="4.9" text-anchor="end" font-weight="bold" fill="#1a1a1a" transform="rotate(-45 296.20 541.00)" stroke="#1a1a1a" stroke-width="0.12">Adhesin protein transport system (M00330)</text>
<line x1="302.30" y1="534.90" x2="302.30" y2="537.00" stroke="#333" stroke-width="0.5"/>
<text x="303.60" y="541.00" font-size="4.9" text-anchor="end" font-weight="bold" fill="#1a1a1a" transform="rotate(-45 303.60 541.00)" stroke="#1a1a1a" stroke-width="0.12">Type VI secretion system (M00334)</text>
<line x1="309.70" y1="534.90" x2="309.70" y2="537.00" stroke="#333" stroke-width="0.5"/>
<text x="311.00" y="541.00" font-size="4.9" text-anchor="end" font-weight="bold" fill="#1a1a1a" transform="rotate(-45 311.00 541.00)" stroke="#1a1a1a" stroke-width="0.12">Type IV secretion system (M00333)</text>
<line x1="317.10" y1="534.90" x2="317.10" y2="537.00" stroke="#333" stroke-width="0.5"/>
<text x="318.40" y="541.00" font-size="4.9" text-anchor="end" font-weight="bold" fill="#1a1a1a" transform="rotate(-45 318.40 541.00)" stroke="#1a1a1a" stroke-width="0.12">Type III secretion system (M00332)</text>
<line x1="324.50" y1="534.90" x2="324.50" y2="537.00" stroke="#333" stroke-width="0.5"/>
<text x="325.80" y="541.00" font-size="4.9" text-anchor="end" font-weight="bold" fill="#1a1a1a" transform="rotate(-45 325.80 541.00)" stroke="#1a1a1a" stroke-width="0.12">Hemophore/metalloprotease transport system (M00326)</text>
<line x1="331.90" y1="534.90" x2="331.90" y2="537.00" stroke="#333" stroke-width="0.5"/>
<text x="333.20" y="541.00" font-size="4.9" text-anchor="end" font-weight="bold" fill="#1a1a1a" transform="rotate(-45 333.20 541.00)" stroke="#1a1a1a" stroke-width="0.12">Multiple protein transport system (M00328)</text>
<line x1="339.30" y1="534.90" x2="339.30" y2="537.00" stroke="#333" stroke-width="0.5"/>
<text x="340.60" y="541.00" font-size="4.9" text-anchor="end" font-weight="bold" fill="#8da0cb" transform="rotate(-45 340.60 541.00)" stroke="#8da0cb" stroke-width="0.12">Ribosome, bacteria (M00178)</text>
<line x1="346.70" y1="534.90" x2="346.70" y2="537.00" stroke="#333" stroke-width="0.5"/>
<text x="348.00" y="541.00" font-size="4.9" text-anchor="end" font-weight="bold" fill="#8da0cb" transform="rotate(-45 348.00 541.00)" stroke="#8da0cb" stroke-width="0.12">Ribosome, archaea (M00179)</text>
<line x1="354.10" y1="534.90" x2="354.10" y2="537.00" stroke="#333" stroke-width="0.5"/>
<text x="355.40" y="541.00" font-size="4.9" text-anchor="end" font-weight="bold" fill="#1a1a1a" transform="rotate(-45 355.40 541.00)" stroke="#1a1a1a" stroke-width="0.12">Ribosome, eukaryotes (M00177)</text>
<line x1="361.50" y1="534.90" x2="361.50" y2="537.00" stroke="#333" stroke-width="0.5"/>
<text x="362.80" y="541.00" font-size="4.9" text-anchor="end" font-weight="bold" fill="#e78ac3" transform="rotate(-45 362.80 541.00)" stroke="#e78ac3" stroke-width="0.12">RNA degradosome (M00394)</text>
<line x1="368.90" y1="534.90" x2="368.90" y2="537.00" stroke="#333" stroke-width="0.5"/>
<text x="370.20" y="541.00" font-size="4.9" text-anchor="end" font-weight="bold" fill="#1a1a1a" transform="rotate(-45 370.20 541.00)" stroke="#1a1a1a" stroke-width="0.12">Exosome, eukaryotes (M00391)</text>
<line x1="376.30" y1="534.90" x2="376.30" y2="537.00" stroke="#333" stroke-width="0.5"/>
<text x="377.60" y="541.00" font-size="4.9" text-anchor="end" font-weight="bold" fill="#1a1a1a" transform="rotate(-45 377.60 541.00)" stroke="#1a1a1a" stroke-width="0.12">Exosome, archaea (M00390)</text>
<line x1="383.70" y1="534.90" x2="383.70" y2="537.00" stroke="#333" stroke-width="0.5"/>
<text x="385.00" y="541.00" font-size="4.9" text-anchor="end" font-weight="bold" fill="#1a1a1a" transform="rotate(-45 385.00 541.00)" stroke="#1a1a1a" stroke-width="0.12">HA/CA ribonucleoprotein complex (M00425)</text>
<line x1="391.10" y1="534.90" x2="391.10" y2="537.00" stroke="#333" stroke-width="0.5"/>
<text x="392.40" y="541.00" font-size="4.9" text-anchor="end" font-weight="bold" fill="#1a1a1a" transform="rotate(-45 392.40 541.00)" stroke="#1a1a1a" stroke-width="0.12">Ski complex (M00392)</text>
<line x1="398.50" y1="534.90" x2="398.50" y2="537.00" stroke="#333" stroke-width="0.5"/>
<text x="399.80" y="541.00" font-size="4.9" text-anchor="end" font-weight="bold" fill="#1a1a1a" transform="rotate(-45 399.80 541.00)" stroke="#1a1a1a" stroke-width="0.12">TRAMP complex (M00393)</text>
<line x1="405.90" y1="534.90" x2="405.90" y2="537.00" stroke="#333" stroke-width="0.5"/>
<text x="407.20" y="541.00" font-size="4.9" text-anchor="end" font-weight="bold" fill="#a6d854" transform="rotate(-45 407.20 541.00)" stroke="#a6d854" stroke-width="0.12">ABC-2 type transport system (M00254)</text>
<line x1="413.30" y1="534.90" x2="413.30" y2="537.00" stroke="#333" stroke-width="0.5"/>
<text x="414.60" y="541.00" font-size="4.9" text-anchor="end" font-weight="bold" fill="#1a1a1a" transform="rotate(-45 414.60 541.00)" stroke="#1a1a1a" stroke-width="0.12">Heme transport system (M00256)</text>
<line x1="420.70" y1="534.90" x2="420.70" y2="537.00" stroke="#333" stroke-width="0.5"/>
<text x="422.00" y="541.00" font-size="4.9" text-anchor="end" font-weight="bold" fill="#1a1a1a" transform="rotate(-45 422.00 541.00)" stroke="#1a1a1a" stroke-width="0.12">Putative ABC transport system (M00258)</text>
<line x1="428.10" y1="534.90" x2="428.10" y2="537.00" stroke="#333" stroke-width="0.5"/>
<text x="429.40" y="541.00" font-size="4.9" text-anchor="end" font-weight="bold" fill="#1a1a1a" transform="rotate(-45 429.40 541.00)" stroke="#1a1a1a" stroke-width="0.12">Lipoprotein-releasing system (M00255)</text>
<line x1="435.50" y1="534.90" x2="435.50" y2="537.00" stroke="#333" stroke-width="0.5"/>
<text x="436.80" y="541.00" font-size="4.9" text-anchor="end" font-weight="bold" fill="#1a1a1a" transform="rotate(-45 436.80 541.00)" stroke="#1a1a1a" stroke-width="0.12">Lipopolysaccharide export system (M00320)</text>
<line x1="442.90" y1="534.90" x2="442.90" y2="537.00" stroke="#333" stroke-width="0.5"/>
<text x="444.20" y="541.00" font-size="4.9" text-anchor="end" font-weight="bold" fill="#1a1a1a" transform="rotate(-45 444.20 541.00)" stroke="#1a1a1a" stroke-width="0.12">Cell division transport system (M00256)</text>
<line x1="450.30" y1="534.90" x2="450.30" y2="537.00" stroke="#333" stroke-width="0.5"/>
<text x="451.60" y="541.00" font-size="4.9" text-anchor="end" font-weight="bold" fill="#1a1a1a" transform="rotate(-45 451.60 541.00)" stroke="#1a1a1a" stroke-width="0.12">Lipopolysaccharide transport system (M00250)</text>
<line x1="457.70" y1="534.90" x2="457.70" y2="537.00" stroke="#333" stroke-width="0.5"/>
<text x="459.00" y="541.00" font-size="4.9" text-anchor="end" font-weight="bold" fill="#1a1a1a" transform="rotate(-45 459.00 541.00)" stroke="#1a1a1a" stroke-width="0.12">Lipooligosaccharide transport system (M00252)</text>
<line x1="465.10" y1="534.90" x2="465.10" y2="537.00" stroke="#333" stroke-width="0.5"/>
<text x="466.40" y="541.00" font-size="4.9" text-anchor="end" font-weight="bold" fill="#1a1a1a" transform="rotate(-45 466.40 541.00)" stroke="#1a1a1a" stroke-width="0.12">Capsular polysaccharide transport system (M00249)</text>
<line x1="472.50" y1="534.90" x2="472.50" y2="537.00" stroke="#333" stroke-width="0.5"/>
<text x="473.80" y="541.00" font-size="4.9" text-anchor="end" font-weight="bold" fill="#1a1a1a" transform="rotate(-45 473.80 541.00)" stroke="#1a1a1a" stroke-width="0.12">Sodium transport system (M00253)</text>
<line x1="479.90" y1="534.90" x2="479.90" y2="537.00" stroke="#333" stroke-width="0.5"/>
<text x="481.20" y="541.00" font-size="4.9" text-anchor="end" font-weight="bold" fill="#1a1a1a" transform="rotate(-45 481.20 541.00)" stroke="#1a1a1a" stroke-width="0.12">Teichoic acid transport system (M00251)</text>
<line x1="487.30" y1="534.90" x2="487.30" y2="537.00" stroke="#333" stroke-width="0.5"/>
<text x="488.60" y="541.00" font-size="4.9" text-anchor="end" font-weight="bold" fill="#1a1a1a" transform="rotate(-45 488.60 541.00)" stroke="#1a1a1a" stroke-width="0.12">Fluoroquinolone transport system (M00224)</text>
<line x1="494.70" y1="534.90" x2="494.70" y2="537.00" stroke="#333" stroke-width="0.5"/>
<text x="496.00" y="541.00" font-size="4.9" text-anchor="end" font-weight="bold" fill="#1a1a1a" transform="rotate(-45 496.00 541.00)" stroke="#1a1a1a" stroke-width="0.12">Multidrug/hemolysin transport system (M00709)</text>
<line x1="502.10" y1="534.90" x2="502.10" y2="537.00" stroke="#333" stroke-width="0.5"/>
<text x="503.40" y="541.00" font-size="4.9" text-anchor="end" font-weight="bold" fill="#1a1a1a" transform="rotate(-45 503.40 541.00)" stroke="#1a1a1a" stroke-width="0.12">Copper-processing system (M00254)</text>
<line x1="509.50" y1="534.90" x2="509.50" y2="537.00" stroke="#333" stroke-width="0.5"/>
<text x="510.80" y="541.00" font-size="4.9" text-anchor="end" font-weight="bold" fill="#1a1a1a" transform="rotate(-45 510.80 541.00)" stroke="#1a1a1a" stroke-width="0.12">Lantibiotic transport system (M00251)</text>
<line x1="516.90" y1="534.90" x2="516.90" y2="537.00" stroke="#333" stroke-width="0.5"/>
<text x="518.20" y="541.00" font-size="4.9" text-anchor="end" font-weight="bold" fill="#1a1a1a" transform="rotate(-45 518.20 541.00)" stroke="#1a1a1a" stroke-width="0.12">Uncharacterized ABC transport system (M00258)</text>
<line x1="524.30" y1="534.90" x2="524.30" y2="537.00" stroke="#333" stroke-width="0.5"/>
<text x="525.60" y="541.00" font-size="4.9" text-anchor="end" font-weight="bold" fill="#1a1a1a" transform="rotate(-45 525.60 541.00)" stroke="#1a1a1a" stroke-width="0.12">Oleandomycin transport system (M00716)</text>
<line x1="531.70" y1="534.90" x2="531.70" y2="537.00" stroke="#333" stroke-width="0.5"/>
<text x="533.00" y="541.00" font-size="4.9" text-anchor="end" font-weight="bold" fill="#1a1a1a" transform="rotate(-45 533.00 541.00)" stroke="#1a1a1a" stroke-width="0.12">Bacitracin transport system (M00314)</text>
<line x1="539.10" y1="534.90" x2="539.10" y2="537.00" stroke="#333" stroke-width="0.5"/>
<text x="540.40" y="541.00" font-size="4.9" text-anchor="end" font-weight="bold" fill="#1a1a1a" transform="rotate(-45 540.40 541.00)" stroke="#1a1a1a" stroke-width="0.12">Acetoin utilization transport system (M00817)</text>
<line x1="546.50" y1="534.90" x2="546.50" y2="537.00" stroke="#333" stroke-width="0.5"/>
<text x="547.80" y="541.00" font-size="4.9" text-anchor="end" font-weight="bold" fill="#1a1a1a" transform="rotate(-45 547.80 541.00)" stroke="#1a1a1a" stroke-width="0.12">Bacitracin transport system (M00315)</text>
<line x1="553.90" y1="534.90" x2="553.90" y2="537.00" stroke="#333" stroke-width="0.5"/>
<text x="555.20" y="541.00" font-size="4.9" text-anchor="end" font-weight="bold" fill="#1a1a1a" transform="rotate(-45 555.20 541.00)" stroke="#1a1a1a" stroke-width="0.12">Putative peptide transport system (M00246)</text>
<line x1="561.30" y1="534.90" x2="561.30" y2="537.00" stroke="#333" stroke-width="0.5"/>
<text x="562.60" y="541.00" font-size="4.9" text-anchor="end" font-weight="bold" fill="#1a1a1a" transform="rotate(-45 562.60 541.00)" stroke="#1a1a1a" stroke-width="0.12">Nisin transport system (M00817)</text>
<line x1="568.70" y1="534.90" x2="568.70" y2="537.00" stroke="#333" stroke-width="0.5"/>
<text x="570.00" y="541.00" font-size="4.9" text-anchor="end" font-weight="bold" fill="#1a1a1a" transform="rotate(-45 570.00 541.00)" stroke="#1a1a1a" stroke-width="0.12">Bacitracin transport system (M00314)</text>
<line x1="576.10" y1="534.90" x2="576.10" y2="537.00" stroke="#333" stroke-width="0.5"/>
<text x="577.40" y="541.00" font-size="4.9" text-anchor="end" font-weight="bold" fill="#1a1a1a" transform="rotate(-45 577.40 541.00)" stroke="#1a1a1a" stroke-width="0.12">Lantibiotic transport system (M00257)</text>
<line x1="583.50" y1="534.90" x2="583.50" y2="537.00" stroke="#333" stroke-width="0.5"/>
<text x="584.80" y="541.00" font-size="4.9" text-anchor="end" font-weight="bold" fill="#ffd92f" transform="rotate(-45 584.80 541.00)" stroke="#ffd92f" stroke-width="0.12">DNA polymerase III complex, bacteria (M00260)</text>
<line x1="590.90" y1="534.90" x2="590.90" y2="537.00" stroke="#333" stroke-width="0.5"/>
<text x="592.20" y="541.00" font-size="4.9" text-anchor="end" font-weight="bold" fill="#1a1a1a" transform="rotate(-45 592.20 541.00)" stroke="#1a1a1a" stroke-width="0.12">DNA polymerase II complex, archaea (M00262)</text>
<text x="598.90" y="434.00" font-size="4.2" text-anchor="start" font-weight="bold" fill="#000">Module Category</text>
<rect x="598.90" y="436.00" width="5.90" height="5.90" fill="#66c2a5"/>
<text x="606.30" y="440.30" font-size="3.9" text-anchor="start" fill="#222">Mineral and organic ion transport system</text>
<rect x="598.90" y="443.00" width="5.90" height="5.90" fill="#fc8d62"/>
<text x="606.30" y="447.30" font-size="3.9" text-anchor="start" fill="#222">Bacterial secretion system</text>
<rect x="598.90" y="450.00" width="5.90" height="5.90" fill="#8da0cb"/>
<text x="606.30" y="454.30" font-size="3.9" text-anchor="start" fill="#222">Ribosome</text>
<rect x="598.90" y="457.00" width="5.90" height="5.90" fill="#e78ac3"/>
<text x="606.30" y="461.30" font-size="3.9" text-anchor="start" fill="#222">RNA processing</text>
<rect x="598.90" y="464.00" width="5.90" height="5.90" fill="#a6d854"/>
<text x="606.30" y="468.30" font-size="3.9" text-anchor="start" fill="#222">ABC-2 type and other transport systems</text>
<rect x="598.90" y="471.00" width="5.90" height="5.90" fill="#ffd92f"/>
<text x="606.30" y="475.30" font-size="3.9" text-anchor="start" fill="#222">DNA polymerase</text>
<text x="598.90" y="485.00" font-size="4.2" text-anchor="start" font-weight="bold" fill="#000">Distribution</text>
<defs><linearGradient id="ge" x1="0" y1="1" x2="0" y2="0"><stop offset="0" stop-color="#fff5f2"/><stop offset="0.18" stop-color="#fcd8d6"/><stop offset="0.37" stop-color="#f9aac0"/><stop offset="0.55" stop-color="#f268a6"/><stop offset="0.73" stop-color="#c51b8a"/><stop offset="0.9" stop-color="#7a0177"/><stop offset="1" stop-color="#49006a"/></linearGradient></defs>
<rect x="600.40" y="487.00" width="4.60" height="48.20" fill="url(#ge)"/>
<line x1="604.00" y1="491.30" x2="606.20" y2="491.30" stroke="#222" stroke-width="0.5"/>
<text x="606.00" y="492.70" font-size="3.75" text-anchor="start" font-weight="bold" fill="#000">0.05</text>
<line x1="604.00" y1="500.20" x2="606.20" y2="500.20" stroke="#222" stroke-width="0.5"/>
<text x="606.00" y="501.60" font-size="3.75" text-anchor="start" font-weight="bold" fill="#000">0.04</text>
<line x1="604.00" y1="509.10" x2="606.20" y2="509.10" stroke="#222" stroke-width="0.5"/>
<text x="606.00" y="510.50" font-size="3.75" text-anchor="start" font-weight="bold" fill="#000">0.03</text>
<line x1="604.00" y1="518.00" x2="606.20" y2="518.00" stroke="#222" stroke-width="0.5"/>
<text x="606.00" y="519.40" font-size="3.75" text-anchor="start" font-weight="bold" fill="#000">0.02</text>
<line x1="604.00" y1="526.70" x2="606.20" y2="526.70" stroke="#222" stroke-width="0.5"/>
<text x="606.00" y="528.10" font-size="3.75" text-anchor="start" font-weight="bold" fill="#000">0.01</text>
<line x1="604.00" y1="535.40" x2="606.20" y2="535.40" stroke="#222" stroke-width="0.5"/>
<text x="606.00" y="536.80" font-size="3.75" text-anchor="start" font-weight="bold" fill="#000">0</text>
</svg></body></html>
